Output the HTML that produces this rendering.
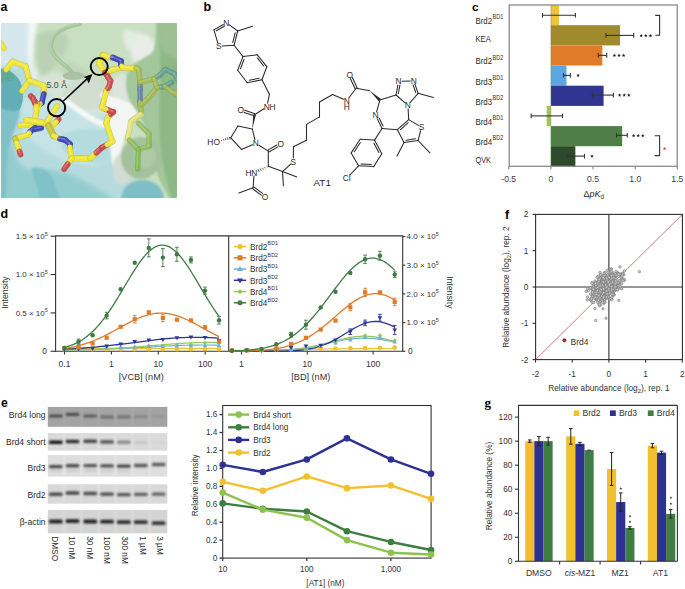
<!DOCTYPE html>
<html><head><meta charset="utf-8"><style>
html,body{margin:0;padding:0;background:#fff;width:685px;height:589px;overflow:hidden}
svg{display:block;font-family:"Liberation Sans", sans-serif}

</style></head><body>
<svg width="685" height="589" viewBox="0 0 685 589">
<rect width="685" height="589" fill="#fff"/>
<defs><clipPath id="clipA"><rect x="1.2" y="23" width="175.8" height="175" rx="1.5"/></clipPath><filter id="blA" x="-10%" y="-10%" width="120%" height="120%"><feGaussianBlur stdDeviation="2.0"/></filter><filter id="blB" x="-10%" y="-10%" width="120%" height="120%"><feGaussianBlur stdDeviation="0.9"/></filter><filter id="blC" x="-10%" y="-10%" width="120%" height="120%"><feGaussianBlur stdDeviation="0.45"/></filter></defs>
<g clip-path="url(#clipA)">
<rect x="0.00" y="20.00" width="180.00" height="180.00" fill="#b5dbde" />
<g filter="url(#blA)">
<path d="M22,100 C40,96 70,98 98,104 L110,160 C100,168 82,166 62,160 C46,152 32,142 22,130 Z" fill="#c6e4e6"/>
<path d="M-5,118 C6,122 10,135 14,150 C18,164 26,172 36,170 C50,168 64,172 78,178 C92,186 106,192 120,205 L-5,205 Z" fill="#94cdd0"/>
<path d="M-5,124 C2,130 5,145 7,165 L7,205 L-5,205 Z" fill="#88c7cb"/>
<path d="M-5,18 L30,18 C31,30 30,45 29,55 C27,62 22,67 16,67 L-5,67 Z" fill="#d5e6ed"/>
<path d="M28.5,18 L40,18 C38,30 35.5,45 34.5,58 C33.5,66 32.5,72 31.5,78 C28.5,72 27.5,64 28,55 C28.5,45 29,30 28.5,18 Z" fill="#f5f8f7"/>
<path d="M38,18 L185,18 L185,200 L160,200 C150,190 140,182 130,178 C124,170 121,162 120,152 C118,130 112,110 100,100 C88,94 72,96 58,94 C46,92 38,88 34,80 C32,70 33,55 35,40 C36,30 37,22 38,18 Z" fill="#c9dfc1"/>
<path d="M131,34 C140,31 151,35 155,44 C157,53 153,62 146,65 C139,67 133,62 131,54 Z" fill="#e9ede8"/>
<path d="M124,30 C128,28 134,30 136,36 C136,44 132,50 128,50 C124,46 122,38 124,30 Z" fill="#e4ece2"/>
<path d="M36,70 C55,72 72,76 86,82 C98,88 110,94 124,104 C118,112 110,116 100,116 C88,112 76,106 64,102 C52,98 42,92 36,84 Z" fill="#d7e4d7"/>
<path d="M30,66 C34,64 38,68 38,74 C37,80 34,82 31,80 Z" fill="#e6eeed"/>
</g>
<g filter="url(#blA)">
<path d="M36,36 C44,30 56,28 66,34 C72,42 66,52 60,60 C54,68 48,76 40,76 C36,64 35,48 36,36 Z" fill="#b8cfb0" opacity="0.85"/>
<path d="M58,62 C66,60 76,64 86,70 C92,76 88,82 80,82 C70,80 62,74 58,62 Z" fill="#bcd2b6" opacity="0.8"/>
</g>
<path d="M80,24 C70,26 60,29 55,35 C51,41 50,47 53,53 C56,59 62,63 67,67 C70,70 72,72 73,74" stroke="#a6c69d" stroke-width="4.0" fill="none" stroke-linecap="round"/>
<path d="M79,23.2 C69,25.2 59.2,28.2 54.2,34.2 C50.2,40.2 49.2,46.2 52.2,52.2 C55.2,58.2 61,62 66,66" stroke="#bcd7b4" stroke-width="1.2" fill="none" opacity="0.8"/>
<ellipse cx="73.5" cy="75.8" rx="11" ry="4.0" fill="#abc0a7" filter="url(#blC)"/>
<ellipse cx="88" cy="94" rx="25" ry="15" fill="#d0ddcf" filter="url(#blB)"/>
<ellipse cx="122" cy="88" rx="10" ry="14" fill="#dde4dc" filter="url(#blB)"/>
<path d="M64,100 C72,105 82,113 94,120 C100,123 106,126 112,127" stroke="#f5f8f7" stroke-width="5.5" fill="none" stroke-linecap="round" filter="url(#blB)"/>
<path d="M62,134 C75,129 90,128 110,131 L112,160 C100,166 80,162 62,150 Z" fill="#b4dcdf" filter="url(#blB)"/>
<g filter="url(#blB)">
<path d="M100,92 C110,96 124,100 138,106 L139,112 C134,120 128,128 125,136 C122,146 120,155 118,163 C116,167 113,167 112,163 C110,152 110,140 110,128 C109,116 106,104 100,96 Z" fill="#f4f6f4"/>
</g>
<g filter="url(#blB)">
<path d="M156,18 L185,18 L185,200 L170,200 C165,190 160,182 158,176 L152,150 C149,140 146,130 144,124 C141,118 138,113 136,110 C131,104 127,96 126,86 C126,76 128,70 134,64 C142,58 150,56 154,50 C156,40 156,30 156,18 Z" fill="#a3c69b"/>
<ellipse cx="122.5" cy="169" rx="10" ry="16" fill="#d3dcd3"/>
<ellipse cx="141" cy="158" rx="20" ry="21" fill="#a3c19c"/>
<ellipse cx="145" cy="156" rx="11" ry="12" fill="#b2cdaa" opacity="0.7"/>
<path d="M160,24 C170,32 178,40 185,48 L185,200 L172,200 C168,185 163,170 161,150 C159,130 159,110 160,90 C161,70 159,50 160,24 Z" fill="#8db885"/>
</g>
<path d="M159,18 L185,18 L185,62 C176,60 168,56 162,50 C159,42 159,30 159,18 Z" fill="#9cc093" filter="url(#blB)"/>
<path d="M121,200 C121,189 130,180 143,180 C156,180 164,189 164,200 Z" fill="#80bec7" filter="url(#blB)"/>
<path d="M-5,69 C4,66 14,71 20,81 C24,91 24,101 20,109 C15,116 8,118 -5,118 Z" fill="#62aeb6" filter="url(#blC)"/>
<path d="M-3,71 C5,68 11,71 15,78 C11,83 6,80 0,83 Z" fill="#5ca88f" opacity="0.75" filter="url(#blC)"/>
<path d="M-5,106 C5,110 14,112 20,110 C18,124 12,134 8,150 C6,165 6,185 4,205 L-5,205 Z" fill="#7fc1c7" filter="url(#blB)"/>
<path d="M31,168 C40,166 48,170 52,176 C55,183 58,192 60,200 L40,200 C38,190 34,178 31,168 Z" fill="#80c2c8" filter="url(#blB)"/>
<g opacity="1.0" stroke-linecap="round" stroke-linejoin="round" fill="none">
<line x1="0.00" y1="42.50" x2="3.80" y2="48.30" stroke="#aba424" stroke-opacity="0.55" stroke-width="5.80"/>
<line x1="0.00" y1="42.50" x2="3.80" y2="48.30" stroke="#eee532" stroke-width="5.0"/>
<line x1="-0.60" y1="41.90" x2="3.20" y2="47.70" stroke="#ffffff" stroke-opacity="0.2" stroke-width="1.75"/>
</g>
<g opacity="1.0" stroke-linecap="round" stroke-linejoin="round" fill="none">
<line x1="22.00" y1="91.00" x2="29.50" y2="80.50" stroke="#aba424" stroke-opacity="0.55" stroke-width="5.80"/>
<line x1="29.50" y1="80.50" x2="25.50" y2="66.20" stroke="#aba424" stroke-opacity="0.55" stroke-width="5.80"/>
<line x1="25.50" y1="66.20" x2="12.70" y2="61.60" stroke="#aba424" stroke-opacity="0.55" stroke-width="5.80"/>
<line x1="12.70" y1="61.60" x2="6.10" y2="69.80" stroke="#aba424" stroke-opacity="0.55" stroke-width="5.80"/>
<line x1="22.00" y1="91.00" x2="29.50" y2="80.50" stroke="#eee532" stroke-width="5.0"/>
<line x1="29.50" y1="80.50" x2="25.50" y2="66.20" stroke="#eee532" stroke-width="5.0"/>
<line x1="25.50" y1="66.20" x2="12.70" y2="61.60" stroke="#eee532" stroke-width="5.0"/>
<line x1="12.70" y1="61.60" x2="6.10" y2="69.80" stroke="#eee532" stroke-width="5.0"/>
<line x1="21.40" y1="90.40" x2="28.90" y2="79.90" stroke="#ffffff" stroke-opacity="0.2" stroke-width="1.75"/>
<line x1="28.90" y1="79.90" x2="24.90" y2="65.60" stroke="#ffffff" stroke-opacity="0.2" stroke-width="1.75"/>
<line x1="24.90" y1="65.60" x2="12.10" y2="61.00" stroke="#ffffff" stroke-opacity="0.2" stroke-width="1.75"/>
<line x1="12.10" y1="61.00" x2="5.50" y2="69.20" stroke="#ffffff" stroke-opacity="0.2" stroke-width="1.75"/>
</g>
<g opacity="1.0" stroke-linecap="round" stroke-linejoin="round" fill="none">
<line x1="29.50" y1="80.50" x2="43.80" y2="85.60" stroke="#aba424" stroke-opacity="0.55" stroke-width="5.80"/>
<line x1="43.80" y1="85.60" x2="43.80" y2="94.00" stroke="#aba424" stroke-opacity="0.55" stroke-width="5.80"/>
<line x1="29.50" y1="80.50" x2="43.80" y2="85.60" stroke="#eee532" stroke-width="5.0"/>
<line x1="43.80" y1="85.60" x2="43.80" y2="94.00" stroke="#eee532" stroke-width="5.0"/>
<line x1="28.90" y1="79.90" x2="43.20" y2="85.00" stroke="#ffffff" stroke-opacity="0.2" stroke-width="1.75"/>
<line x1="43.20" y1="85.00" x2="43.20" y2="93.40" stroke="#ffffff" stroke-opacity="0.2" stroke-width="1.75"/>
</g>
<g opacity="1.0" stroke-linecap="round" stroke-linejoin="round" fill="none">
<line x1="43.80" y1="94.00" x2="41.80" y2="102.90" stroke="#2e3184" stroke-opacity="0.55" stroke-width="5.80"/>
<line x1="41.80" y1="102.90" x2="40.25" y2="103.95" stroke="#2e3184" stroke-opacity="0.55" stroke-width="5.80"/>
<line x1="40.25" y1="103.95" x2="38.70" y2="105.00" stroke="#908d26" stroke-opacity="0.55" stroke-width="5.80"/>
<line x1="38.70" y1="105.00" x2="35.70" y2="115.00" stroke="#aba424" stroke-opacity="0.55" stroke-width="5.80"/>
<line x1="43.80" y1="94.00" x2="41.80" y2="102.90" stroke="#4045b8" stroke-width="5.0"/>
<line x1="41.80" y1="102.90" x2="40.25" y2="103.95" stroke="#4045b8" stroke-width="5.0"/>
<line x1="40.25" y1="103.95" x2="38.70" y2="105.00" stroke="#c8c436" stroke-width="5.0"/>
<line x1="38.70" y1="105.00" x2="35.70" y2="115.00" stroke="#eee532" stroke-width="5.0"/>
<line x1="43.20" y1="93.40" x2="41.20" y2="102.30" stroke="#ffffff" stroke-opacity="0.2" stroke-width="1.75"/>
<line x1="41.20" y1="102.30" x2="39.65" y2="103.35" stroke="#ffffff" stroke-opacity="0.2" stroke-width="1.75"/>
<line x1="39.65" y1="103.35" x2="38.10" y2="104.40" stroke="#ffffff" stroke-opacity="0.2" stroke-width="1.75"/>
<line x1="38.10" y1="104.40" x2="35.10" y2="114.40" stroke="#ffffff" stroke-opacity="0.2" stroke-width="1.75"/>
</g>
<g opacity="1.0" stroke-linecap="round" stroke-linejoin="round" fill="none">
<line x1="30.80" y1="96.00" x2="35.10" y2="101.90" stroke="#923636" stroke-opacity="0.55" stroke-width="5.80"/>
<line x1="35.10" y1="101.90" x2="36.30" y2="103.20" stroke="#923636" stroke-opacity="0.55" stroke-width="5.80"/>
<line x1="36.30" y1="103.20" x2="37.50" y2="104.50" stroke="#908d26" stroke-opacity="0.55" stroke-width="5.80"/>
<line x1="30.80" y1="96.00" x2="35.10" y2="101.90" stroke="#cc4c4c" stroke-width="5.0"/>
<line x1="35.10" y1="101.90" x2="36.30" y2="103.20" stroke="#cc4c4c" stroke-width="5.0"/>
<line x1="36.30" y1="103.20" x2="37.50" y2="104.50" stroke="#c8c436" stroke-width="5.0"/>
<line x1="30.20" y1="95.40" x2="34.50" y2="101.30" stroke="#ffffff" stroke-opacity="0.2" stroke-width="1.75"/>
<line x1="34.50" y1="101.30" x2="35.70" y2="102.60" stroke="#ffffff" stroke-opacity="0.2" stroke-width="1.75"/>
<line x1="35.70" y1="102.60" x2="36.90" y2="103.90" stroke="#ffffff" stroke-opacity="0.2" stroke-width="1.75"/>
</g>
<g opacity="1.0" stroke-linecap="round" stroke-linejoin="round" fill="none">
<line x1="33.20" y1="98.10" x2="35.30" y2="104.20" stroke="#923636" stroke-opacity="0.55" stroke-width="5.80"/>
<line x1="33.20" y1="98.10" x2="35.30" y2="104.20" stroke="#cc4c4c" stroke-width="5.0"/>
<line x1="32.60" y1="97.50" x2="34.70" y2="103.60" stroke="#ffffff" stroke-opacity="0.2" stroke-width="1.75"/>
</g>
<g opacity="1.0" stroke-linecap="round" stroke-linejoin="round" fill="none">
<line x1="36.30" y1="106.20" x2="35.30" y2="119.40" stroke="#aba424" stroke-opacity="0.55" stroke-width="5.80"/>
<line x1="36.30" y1="106.20" x2="35.30" y2="119.40" stroke="#eee532" stroke-width="5.0"/>
<line x1="35.70" y1="105.60" x2="34.70" y2="118.80" stroke="#ffffff" stroke-opacity="0.2" stroke-width="1.75"/>
</g>
<g opacity="1.0" stroke-linecap="round" stroke-linejoin="round" fill="none">
<line x1="20.00" y1="125.60" x2="31.20" y2="124.50" stroke="#aba424" stroke-opacity="0.55" stroke-width="5.80"/>
<line x1="20.00" y1="125.60" x2="31.20" y2="124.50" stroke="#eee532" stroke-width="5.0"/>
<line x1="19.40" y1="125.00" x2="30.60" y2="123.90" stroke="#ffffff" stroke-opacity="0.2" stroke-width="1.75"/>
</g>
<g opacity="1.0" stroke-linecap="round" stroke-linejoin="round" fill="none">
<line x1="35.30" y1="127.60" x2="30.20" y2="131.70" stroke="#2e3184" stroke-opacity="0.55" stroke-width="5.80"/>
<line x1="30.20" y1="131.70" x2="29.15" y2="133.20" stroke="#2e3184" stroke-opacity="0.55" stroke-width="5.80"/>
<line x1="29.15" y1="133.20" x2="28.10" y2="134.70" stroke="#aba424" stroke-opacity="0.55" stroke-width="5.80"/>
<line x1="28.10" y1="134.70" x2="15.30" y2="138.60" stroke="#aba424" stroke-opacity="0.55" stroke-width="5.80"/>
<line x1="35.30" y1="127.60" x2="30.20" y2="131.70" stroke="#4045b8" stroke-width="5.0"/>
<line x1="30.20" y1="131.70" x2="29.15" y2="133.20" stroke="#4045b8" stroke-width="5.0"/>
<line x1="29.15" y1="133.20" x2="28.10" y2="134.70" stroke="#eee532" stroke-width="5.0"/>
<line x1="28.10" y1="134.70" x2="15.30" y2="138.60" stroke="#eee532" stroke-width="5.0"/>
<line x1="34.70" y1="127.00" x2="29.60" y2="131.10" stroke="#ffffff" stroke-opacity="0.2" stroke-width="1.75"/>
<line x1="29.60" y1="131.10" x2="28.55" y2="132.60" stroke="#ffffff" stroke-opacity="0.2" stroke-width="1.75"/>
<line x1="28.55" y1="132.60" x2="27.50" y2="134.10" stroke="#ffffff" stroke-opacity="0.2" stroke-width="1.75"/>
<line x1="27.50" y1="134.10" x2="14.70" y2="138.00" stroke="#ffffff" stroke-opacity="0.2" stroke-width="1.75"/>
</g>
<g opacity="1.0" stroke-linecap="round" stroke-linejoin="round" fill="none">
<line x1="15.30" y1="138.60" x2="16.80" y2="143.15" stroke="#908d26" stroke-opacity="0.55" stroke-width="5.80"/>
<line x1="16.80" y1="143.15" x2="18.30" y2="147.70" stroke="#aba424" stroke-opacity="0.55" stroke-width="5.80"/>
<line x1="18.30" y1="147.70" x2="19.45" y2="151.15" stroke="#aba424" stroke-opacity="0.55" stroke-width="5.80"/>
<line x1="19.45" y1="151.15" x2="20.60" y2="154.60" stroke="#923636" stroke-opacity="0.55" stroke-width="5.80"/>
<line x1="15.30" y1="138.60" x2="16.80" y2="143.15" stroke="#c8c436" stroke-width="5.0"/>
<line x1="16.80" y1="143.15" x2="18.30" y2="147.70" stroke="#eee532" stroke-width="5.0"/>
<line x1="18.30" y1="147.70" x2="19.45" y2="151.15" stroke="#eee532" stroke-width="5.0"/>
<line x1="19.45" y1="151.15" x2="20.60" y2="154.60" stroke="#cc4c4c" stroke-width="5.0"/>
<line x1="14.70" y1="138.00" x2="16.20" y2="142.55" stroke="#ffffff" stroke-opacity="0.2" stroke-width="1.75"/>
<line x1="16.20" y1="142.55" x2="17.70" y2="147.10" stroke="#ffffff" stroke-opacity="0.2" stroke-width="1.75"/>
<line x1="17.70" y1="147.10" x2="18.85" y2="150.55" stroke="#ffffff" stroke-opacity="0.2" stroke-width="1.75"/>
<line x1="18.85" y1="150.55" x2="20.00" y2="154.00" stroke="#ffffff" stroke-opacity="0.2" stroke-width="1.75"/>
</g>
<g opacity="1.0" stroke-linecap="round" stroke-linejoin="round" fill="none">
<line x1="35.10" y1="129.40" x2="41.30" y2="127.90" stroke="#2e3184" stroke-opacity="0.55" stroke-width="5.80"/>
<line x1="35.10" y1="129.40" x2="41.30" y2="127.90" stroke="#4045b8" stroke-width="5.0"/>
<line x1="34.50" y1="128.80" x2="40.70" y2="127.30" stroke="#ffffff" stroke-opacity="0.2" stroke-width="1.75"/>
</g>
<g opacity="1.0" stroke-linecap="round" stroke-linejoin="round" fill="none">
<line x1="26.60" y1="120.00" x2="46.50" y2="123.50" stroke="#aba424" stroke-opacity="0.55" stroke-width="6.60"/>
<line x1="26.60" y1="120.00" x2="46.50" y2="123.50" stroke="#eee532" stroke-width="5.8"/>
<line x1="26.00" y1="119.40" x2="45.90" y2="122.90" stroke="#ffffff" stroke-opacity="0.2" stroke-width="2.03"/>
</g>
<g opacity="1.0" stroke-linecap="round" stroke-linejoin="round" fill="none">
<line x1="57.20" y1="106.20" x2="48.50" y2="119.40" stroke="#aba424" stroke-opacity="0.55" stroke-width="5.80"/>
<line x1="48.50" y1="119.40" x2="46.50" y2="123.50" stroke="#aba424" stroke-opacity="0.55" stroke-width="5.80"/>
<line x1="57.20" y1="106.20" x2="48.50" y2="119.40" stroke="#eee532" stroke-width="5.0"/>
<line x1="48.50" y1="119.40" x2="46.50" y2="123.50" stroke="#eee532" stroke-width="5.0"/>
<line x1="56.60" y1="105.60" x2="47.90" y2="118.80" stroke="#ffffff" stroke-opacity="0.2" stroke-width="1.75"/>
<line x1="47.90" y1="118.80" x2="45.90" y2="122.90" stroke="#ffffff" stroke-opacity="0.2" stroke-width="1.75"/>
</g>
<g opacity="1.0" stroke-linecap="round" stroke-linejoin="round" fill="none">
<line x1="58.70" y1="119.40" x2="56.15" y2="121.95" stroke="#923636" stroke-opacity="0.55" stroke-width="5.80"/>
<line x1="56.15" y1="121.95" x2="53.60" y2="124.50" stroke="#aba424" stroke-opacity="0.55" stroke-width="5.80"/>
<line x1="58.70" y1="119.40" x2="56.15" y2="121.95" stroke="#cc4c4c" stroke-width="5.0"/>
<line x1="56.15" y1="121.95" x2="53.60" y2="124.50" stroke="#eee532" stroke-width="5.0"/>
<line x1="58.10" y1="118.80" x2="55.55" y2="121.35" stroke="#ffffff" stroke-opacity="0.2" stroke-width="1.75"/>
<line x1="55.55" y1="121.35" x2="53.00" y2="123.90" stroke="#ffffff" stroke-opacity="0.2" stroke-width="1.75"/>
</g>
<g opacity="1.0" stroke-linecap="round" stroke-linejoin="round" fill="none">
<line x1="48.50" y1="125.60" x2="53.60" y2="135.70" stroke="#8e8b21" stroke-opacity="0.55" stroke-width="6.80"/>
<line x1="48.50" y1="125.60" x2="53.60" y2="135.70" stroke="#c6c22e" stroke-width="6.0"/>
<line x1="47.90" y1="125.00" x2="53.00" y2="135.10" stroke="#ffffff" stroke-opacity="0.2" stroke-width="2.10"/>
</g>
<g opacity="1.0" stroke-linecap="round" stroke-linejoin="round" fill="none">
<line x1="53.60" y1="135.70" x2="59.70" y2="138.80" stroke="#aba424" stroke-opacity="0.55" stroke-width="5.80"/>
<line x1="59.70" y1="138.80" x2="62.25" y2="139.30" stroke="#2e3184" stroke-opacity="0.55" stroke-width="5.80"/>
<line x1="62.25" y1="139.30" x2="64.80" y2="139.80" stroke="#2e3184" stroke-opacity="0.55" stroke-width="5.80"/>
<line x1="64.80" y1="139.80" x2="69.90" y2="143.90" stroke="#2e3184" stroke-opacity="0.55" stroke-width="5.80"/>
<line x1="69.90" y1="143.90" x2="69.90" y2="146.95" stroke="#2e3184" stroke-opacity="0.55" stroke-width="5.80"/>
<line x1="69.90" y1="146.95" x2="69.90" y2="150.00" stroke="#aba424" stroke-opacity="0.55" stroke-width="5.80"/>
<line x1="69.90" y1="150.00" x2="71.80" y2="158.40" stroke="#aba424" stroke-opacity="0.55" stroke-width="5.80"/>
<line x1="71.80" y1="158.40" x2="90.20" y2="158.40" stroke="#aba424" stroke-opacity="0.55" stroke-width="5.80"/>
<line x1="53.60" y1="135.70" x2="59.70" y2="138.80" stroke="#eee532" stroke-width="5.0"/>
<line x1="59.70" y1="138.80" x2="62.25" y2="139.30" stroke="#4045b8" stroke-width="5.0"/>
<line x1="62.25" y1="139.30" x2="64.80" y2="139.80" stroke="#4045b8" stroke-width="5.0"/>
<line x1="64.80" y1="139.80" x2="69.90" y2="143.90" stroke="#4045b8" stroke-width="5.0"/>
<line x1="69.90" y1="143.90" x2="69.90" y2="146.95" stroke="#4045b8" stroke-width="5.0"/>
<line x1="69.90" y1="146.95" x2="69.90" y2="150.00" stroke="#eee532" stroke-width="5.0"/>
<line x1="69.90" y1="150.00" x2="71.80" y2="158.40" stroke="#eee532" stroke-width="5.0"/>
<line x1="71.80" y1="158.40" x2="90.20" y2="158.40" stroke="#eee532" stroke-width="5.0"/>
<line x1="53.00" y1="135.10" x2="59.10" y2="138.20" stroke="#ffffff" stroke-opacity="0.2" stroke-width="1.75"/>
<line x1="59.10" y1="138.20" x2="61.65" y2="138.70" stroke="#ffffff" stroke-opacity="0.2" stroke-width="1.75"/>
<line x1="61.65" y1="138.70" x2="64.20" y2="139.20" stroke="#ffffff" stroke-opacity="0.2" stroke-width="1.75"/>
<line x1="64.20" y1="139.20" x2="69.30" y2="143.30" stroke="#ffffff" stroke-opacity="0.2" stroke-width="1.75"/>
<line x1="69.30" y1="143.30" x2="69.30" y2="146.35" stroke="#ffffff" stroke-opacity="0.2" stroke-width="1.75"/>
<line x1="69.30" y1="146.35" x2="69.30" y2="149.40" stroke="#ffffff" stroke-opacity="0.2" stroke-width="1.75"/>
<line x1="69.30" y1="149.40" x2="71.20" y2="157.80" stroke="#ffffff" stroke-opacity="0.2" stroke-width="1.75"/>
<line x1="71.20" y1="157.80" x2="89.60" y2="157.80" stroke="#ffffff" stroke-opacity="0.2" stroke-width="1.75"/>
</g>
<g opacity="1.0" stroke-linecap="round" stroke-linejoin="round" fill="none">
<line x1="71.80" y1="158.40" x2="68.00" y2="163.75" stroke="#aba424" stroke-opacity="0.55" stroke-width="5.80"/>
<line x1="68.00" y1="163.75" x2="64.20" y2="169.10" stroke="#923636" stroke-opacity="0.55" stroke-width="5.80"/>
<line x1="71.80" y1="158.40" x2="68.00" y2="163.75" stroke="#eee532" stroke-width="5.0"/>
<line x1="68.00" y1="163.75" x2="64.20" y2="169.10" stroke="#cc4c4c" stroke-width="5.0"/>
<line x1="71.20" y1="157.80" x2="67.40" y2="163.15" stroke="#ffffff" stroke-opacity="0.2" stroke-width="1.75"/>
<line x1="67.40" y1="163.15" x2="63.60" y2="168.50" stroke="#ffffff" stroke-opacity="0.2" stroke-width="1.75"/>
</g>
<g opacity="1.0" stroke-linecap="round" stroke-linejoin="round" fill="none">
<line x1="90.20" y1="158.40" x2="96.00" y2="153.05" stroke="#aba424" stroke-opacity="0.55" stroke-width="5.80"/>
<line x1="96.00" y1="153.05" x2="101.80" y2="147.70" stroke="#923636" stroke-opacity="0.55" stroke-width="5.80"/>
<line x1="90.20" y1="158.40" x2="96.00" y2="153.05" stroke="#eee532" stroke-width="5.0"/>
<line x1="96.00" y1="153.05" x2="101.80" y2="147.70" stroke="#cc4c4c" stroke-width="5.0"/>
<line x1="89.60" y1="157.80" x2="95.40" y2="152.45" stroke="#ffffff" stroke-opacity="0.2" stroke-width="1.75"/>
<line x1="95.40" y1="152.45" x2="101.20" y2="147.10" stroke="#ffffff" stroke-opacity="0.2" stroke-width="1.75"/>
</g>
<g opacity="1.0" stroke-linecap="round" stroke-linejoin="round" fill="none">
<line x1="101.80" y1="147.70" x2="107.10" y2="144.65" stroke="#923636" stroke-opacity="0.55" stroke-width="5.80"/>
<line x1="107.10" y1="144.65" x2="112.40" y2="141.60" stroke="#aba424" stroke-opacity="0.55" stroke-width="5.80"/>
<line x1="112.40" y1="141.60" x2="106.30" y2="123.30" stroke="#aba424" stroke-opacity="0.55" stroke-width="5.80"/>
<line x1="106.30" y1="123.30" x2="107.90" y2="117.20" stroke="#aba424" stroke-opacity="0.55" stroke-width="5.80"/>
<line x1="107.90" y1="117.20" x2="110.60" y2="114.55" stroke="#aba424" stroke-opacity="0.55" stroke-width="5.80"/>
<line x1="110.60" y1="114.55" x2="113.30" y2="111.90" stroke="#923636" stroke-opacity="0.55" stroke-width="5.80"/>
<line x1="101.80" y1="147.70" x2="107.10" y2="144.65" stroke="#cc4c4c" stroke-width="5.0"/>
<line x1="107.10" y1="144.65" x2="112.40" y2="141.60" stroke="#eee532" stroke-width="5.0"/>
<line x1="112.40" y1="141.60" x2="106.30" y2="123.30" stroke="#eee532" stroke-width="5.0"/>
<line x1="106.30" y1="123.30" x2="107.90" y2="117.20" stroke="#eee532" stroke-width="5.0"/>
<line x1="107.90" y1="117.20" x2="110.60" y2="114.55" stroke="#eee532" stroke-width="5.0"/>
<line x1="110.60" y1="114.55" x2="113.30" y2="111.90" stroke="#cc4c4c" stroke-width="5.0"/>
<line x1="101.20" y1="147.10" x2="106.50" y2="144.05" stroke="#ffffff" stroke-opacity="0.2" stroke-width="1.75"/>
<line x1="106.50" y1="144.05" x2="111.80" y2="141.00" stroke="#ffffff" stroke-opacity="0.2" stroke-width="1.75"/>
<line x1="111.80" y1="141.00" x2="105.70" y2="122.70" stroke="#ffffff" stroke-opacity="0.2" stroke-width="1.75"/>
<line x1="105.70" y1="122.70" x2="107.30" y2="116.60" stroke="#ffffff" stroke-opacity="0.2" stroke-width="1.75"/>
<line x1="107.30" y1="116.60" x2="110.00" y2="113.95" stroke="#ffffff" stroke-opacity="0.2" stroke-width="1.75"/>
<line x1="110.00" y1="113.95" x2="112.70" y2="111.30" stroke="#ffffff" stroke-opacity="0.2" stroke-width="1.75"/>
</g>
<g opacity="1.0" stroke-linecap="round" stroke-linejoin="round" fill="none">
<line x1="113.30" y1="111.90" x2="109.10" y2="110.50" stroke="#923636" stroke-opacity="0.55" stroke-width="5.80"/>
<line x1="109.10" y1="110.50" x2="105.55" y2="109.05" stroke="#923636" stroke-opacity="0.55" stroke-width="5.80"/>
<line x1="105.55" y1="109.05" x2="102.00" y2="107.60" stroke="#aba424" stroke-opacity="0.55" stroke-width="5.80"/>
<line x1="102.00" y1="107.60" x2="103.50" y2="102.00" stroke="#aba424" stroke-opacity="0.55" stroke-width="5.80"/>
<line x1="103.50" y1="102.00" x2="106.30" y2="90.70" stroke="#aba424" stroke-opacity="0.55" stroke-width="5.80"/>
<line x1="106.30" y1="90.70" x2="107.70" y2="88.60" stroke="#aba424" stroke-opacity="0.55" stroke-width="5.80"/>
<line x1="107.70" y1="88.60" x2="109.10" y2="86.50" stroke="#923636" stroke-opacity="0.55" stroke-width="5.80"/>
<line x1="109.10" y1="86.50" x2="110.50" y2="80.90" stroke="#923636" stroke-opacity="0.55" stroke-width="5.80"/>
<line x1="110.50" y1="80.90" x2="107.70" y2="76.60" stroke="#923636" stroke-opacity="0.55" stroke-width="5.80"/>
<line x1="107.70" y1="76.60" x2="104.90" y2="72.40" stroke="#923636" stroke-opacity="0.55" stroke-width="5.80"/>
<line x1="113.30" y1="111.90" x2="109.10" y2="110.50" stroke="#cc4c4c" stroke-width="5.0"/>
<line x1="109.10" y1="110.50" x2="105.55" y2="109.05" stroke="#cc4c4c" stroke-width="5.0"/>
<line x1="105.55" y1="109.05" x2="102.00" y2="107.60" stroke="#eee532" stroke-width="5.0"/>
<line x1="102.00" y1="107.60" x2="103.50" y2="102.00" stroke="#eee532" stroke-width="5.0"/>
<line x1="103.50" y1="102.00" x2="106.30" y2="90.70" stroke="#eee532" stroke-width="5.0"/>
<line x1="106.30" y1="90.70" x2="107.70" y2="88.60" stroke="#eee532" stroke-width="5.0"/>
<line x1="107.70" y1="88.60" x2="109.10" y2="86.50" stroke="#cc4c4c" stroke-width="5.0"/>
<line x1="109.10" y1="86.50" x2="110.50" y2="80.90" stroke="#cc4c4c" stroke-width="5.0"/>
<line x1="110.50" y1="80.90" x2="107.70" y2="76.60" stroke="#cc4c4c" stroke-width="5.0"/>
<line x1="107.70" y1="76.60" x2="104.90" y2="72.40" stroke="#cc4c4c" stroke-width="5.0"/>
<line x1="112.70" y1="111.30" x2="108.50" y2="109.90" stroke="#ffffff" stroke-opacity="0.2" stroke-width="1.75"/>
<line x1="108.50" y1="109.90" x2="104.95" y2="108.45" stroke="#ffffff" stroke-opacity="0.2" stroke-width="1.75"/>
<line x1="104.95" y1="108.45" x2="101.40" y2="107.00" stroke="#ffffff" stroke-opacity="0.2" stroke-width="1.75"/>
<line x1="101.40" y1="107.00" x2="102.90" y2="101.40" stroke="#ffffff" stroke-opacity="0.2" stroke-width="1.75"/>
<line x1="102.90" y1="101.40" x2="105.70" y2="90.10" stroke="#ffffff" stroke-opacity="0.2" stroke-width="1.75"/>
<line x1="105.70" y1="90.10" x2="107.10" y2="88.00" stroke="#ffffff" stroke-opacity="0.2" stroke-width="1.75"/>
<line x1="107.10" y1="88.00" x2="108.50" y2="85.90" stroke="#ffffff" stroke-opacity="0.2" stroke-width="1.75"/>
<line x1="108.50" y1="85.90" x2="109.90" y2="80.30" stroke="#ffffff" stroke-opacity="0.2" stroke-width="1.75"/>
<line x1="109.90" y1="80.30" x2="107.10" y2="76.00" stroke="#ffffff" stroke-opacity="0.2" stroke-width="1.75"/>
<line x1="107.10" y1="76.00" x2="104.30" y2="71.80" stroke="#ffffff" stroke-opacity="0.2" stroke-width="1.75"/>
</g>
<g opacity="1.0" stroke-linecap="round" stroke-linejoin="round" fill="none">
<line x1="102.80" y1="54.80" x2="99.00" y2="63.30" stroke="#aba424" stroke-opacity="0.55" stroke-width="5.80"/>
<line x1="99.00" y1="63.30" x2="104.20" y2="71.00" stroke="#aba424" stroke-opacity="0.55" stroke-width="5.80"/>
<line x1="102.80" y1="54.80" x2="99.00" y2="63.30" stroke="#eee532" stroke-width="5.0"/>
<line x1="99.00" y1="63.30" x2="104.20" y2="71.00" stroke="#eee532" stroke-width="5.0"/>
<line x1="102.20" y1="54.20" x2="98.40" y2="62.70" stroke="#ffffff" stroke-opacity="0.2" stroke-width="1.75"/>
<line x1="98.40" y1="62.70" x2="103.60" y2="70.40" stroke="#ffffff" stroke-opacity="0.2" stroke-width="1.75"/>
</g>
<g opacity="1.0" stroke-linecap="round" stroke-linejoin="round" fill="none">
<line x1="104.90" y1="72.40" x2="109.10" y2="71.00" stroke="#923636" stroke-opacity="0.55" stroke-width="5.80"/>
<line x1="109.10" y1="71.00" x2="113.30" y2="69.60" stroke="#aba424" stroke-opacity="0.55" stroke-width="5.80"/>
<line x1="113.30" y1="69.60" x2="121.10" y2="67.50" stroke="#aba424" stroke-opacity="0.55" stroke-width="5.80"/>
<line x1="104.90" y1="72.40" x2="109.10" y2="71.00" stroke="#cc4c4c" stroke-width="5.0"/>
<line x1="109.10" y1="71.00" x2="113.30" y2="69.60" stroke="#eee532" stroke-width="5.0"/>
<line x1="113.30" y1="69.60" x2="121.10" y2="67.50" stroke="#eee532" stroke-width="5.0"/>
<line x1="104.30" y1="71.80" x2="108.50" y2="70.40" stroke="#ffffff" stroke-opacity="0.2" stroke-width="1.75"/>
<line x1="108.50" y1="70.40" x2="112.70" y2="69.00" stroke="#ffffff" stroke-opacity="0.2" stroke-width="1.75"/>
<line x1="112.70" y1="69.00" x2="120.50" y2="66.90" stroke="#ffffff" stroke-opacity="0.2" stroke-width="1.75"/>
</g>
<g opacity="1.0" stroke-linecap="round" stroke-linejoin="round" fill="none">
<line x1="102.80" y1="54.80" x2="111.20" y2="57.60" stroke="#aba424" stroke-opacity="0.55" stroke-width="5.80"/>
<line x1="111.20" y1="57.60" x2="112.25" y2="57.60" stroke="#aba424" stroke-opacity="0.55" stroke-width="5.80"/>
<line x1="112.25" y1="57.60" x2="113.30" y2="57.60" stroke="#2e3184" stroke-opacity="0.55" stroke-width="5.80"/>
<line x1="113.30" y1="57.60" x2="121.10" y2="61.10" stroke="#2e3184" stroke-opacity="0.55" stroke-width="5.80"/>
<line x1="121.10" y1="61.10" x2="121.10" y2="64.70" stroke="#2e3184" stroke-opacity="0.55" stroke-width="5.80"/>
<line x1="121.10" y1="64.70" x2="121.80" y2="66.10" stroke="#2e3184" stroke-opacity="0.55" stroke-width="5.80"/>
<line x1="121.80" y1="66.10" x2="122.50" y2="67.50" stroke="#aba424" stroke-opacity="0.55" stroke-width="5.80"/>
<line x1="122.50" y1="67.50" x2="135.90" y2="68.20" stroke="#aba424" stroke-opacity="0.55" stroke-width="5.80"/>
<line x1="102.80" y1="54.80" x2="111.20" y2="57.60" stroke="#eee532" stroke-width="5.0"/>
<line x1="111.20" y1="57.60" x2="112.25" y2="57.60" stroke="#eee532" stroke-width="5.0"/>
<line x1="112.25" y1="57.60" x2="113.30" y2="57.60" stroke="#4045b8" stroke-width="5.0"/>
<line x1="113.30" y1="57.60" x2="121.10" y2="61.10" stroke="#4045b8" stroke-width="5.0"/>
<line x1="121.10" y1="61.10" x2="121.10" y2="64.70" stroke="#4045b8" stroke-width="5.0"/>
<line x1="121.10" y1="64.70" x2="121.80" y2="66.10" stroke="#4045b8" stroke-width="5.0"/>
<line x1="121.80" y1="66.10" x2="122.50" y2="67.50" stroke="#eee532" stroke-width="5.0"/>
<line x1="122.50" y1="67.50" x2="135.90" y2="68.20" stroke="#eee532" stroke-width="5.0"/>
<line x1="102.20" y1="54.20" x2="110.60" y2="57.00" stroke="#ffffff" stroke-opacity="0.2" stroke-width="1.75"/>
<line x1="110.60" y1="57.00" x2="111.65" y2="57.00" stroke="#ffffff" stroke-opacity="0.2" stroke-width="1.75"/>
<line x1="111.65" y1="57.00" x2="112.70" y2="57.00" stroke="#ffffff" stroke-opacity="0.2" stroke-width="1.75"/>
<line x1="112.70" y1="57.00" x2="120.50" y2="60.50" stroke="#ffffff" stroke-opacity="0.2" stroke-width="1.75"/>
<line x1="120.50" y1="60.50" x2="120.50" y2="64.10" stroke="#ffffff" stroke-opacity="0.2" stroke-width="1.75"/>
<line x1="120.50" y1="64.10" x2="121.20" y2="65.50" stroke="#ffffff" stroke-opacity="0.2" stroke-width="1.75"/>
<line x1="121.20" y1="65.50" x2="121.90" y2="66.90" stroke="#ffffff" stroke-opacity="0.2" stroke-width="1.75"/>
<line x1="121.90" y1="66.90" x2="135.30" y2="67.60" stroke="#ffffff" stroke-opacity="0.2" stroke-width="1.75"/>
</g>
<g opacity="0.78" stroke-linecap="round" stroke-linejoin="round" fill="none">
<line x1="135.90" y1="68.20" x2="138.70" y2="68.90" stroke="#748533" stroke-opacity="0.55" stroke-width="5.40"/>
<line x1="138.70" y1="68.90" x2="140.10" y2="82.30" stroke="#748533" stroke-opacity="0.55" stroke-width="5.40"/>
<line x1="140.10" y1="82.30" x2="140.10" y2="85.80" stroke="#748533" stroke-opacity="0.55" stroke-width="5.40"/>
<line x1="140.10" y1="85.80" x2="140.10" y2="89.30" stroke="#3d507d" stroke-opacity="0.55" stroke-width="5.40"/>
<line x1="140.10" y1="89.30" x2="140.10" y2="100.60" stroke="#3d507d" stroke-opacity="0.55" stroke-width="5.40"/>
<line x1="140.10" y1="100.60" x2="140.10" y2="102.70" stroke="#3d507d" stroke-opacity="0.55" stroke-width="5.40"/>
<line x1="140.10" y1="102.70" x2="140.10" y2="104.80" stroke="#748533" stroke-opacity="0.55" stroke-width="5.40"/>
<line x1="140.10" y1="104.80" x2="141.50" y2="111.90" stroke="#748533" stroke-opacity="0.55" stroke-width="5.40"/>
<line x1="135.90" y1="68.20" x2="138.70" y2="68.90" stroke="#a2b947" stroke-width="4.6"/>
<line x1="138.70" y1="68.90" x2="140.10" y2="82.30" stroke="#a2b947" stroke-width="4.6"/>
<line x1="140.10" y1="82.30" x2="140.10" y2="85.80" stroke="#a2b947" stroke-width="4.6"/>
<line x1="140.10" y1="85.80" x2="140.10" y2="89.30" stroke="#5670ae" stroke-width="4.6"/>
<line x1="140.10" y1="89.30" x2="140.10" y2="100.60" stroke="#5670ae" stroke-width="4.6"/>
<line x1="140.10" y1="100.60" x2="140.10" y2="102.70" stroke="#5670ae" stroke-width="4.6"/>
<line x1="140.10" y1="102.70" x2="140.10" y2="104.80" stroke="#a2b947" stroke-width="4.6"/>
<line x1="140.10" y1="104.80" x2="141.50" y2="111.90" stroke="#a2b947" stroke-width="4.6"/>
<line x1="135.30" y1="67.60" x2="138.10" y2="68.30" stroke="#ffffff" stroke-opacity="0.2" stroke-width="1.61"/>
<line x1="138.10" y1="68.30" x2="139.50" y2="81.70" stroke="#ffffff" stroke-opacity="0.2" stroke-width="1.61"/>
<line x1="139.50" y1="81.70" x2="139.50" y2="85.20" stroke="#ffffff" stroke-opacity="0.2" stroke-width="1.61"/>
<line x1="139.50" y1="85.20" x2="139.50" y2="88.70" stroke="#ffffff" stroke-opacity="0.2" stroke-width="1.61"/>
<line x1="139.50" y1="88.70" x2="139.50" y2="100.00" stroke="#ffffff" stroke-opacity="0.2" stroke-width="1.61"/>
<line x1="139.50" y1="100.00" x2="139.50" y2="102.10" stroke="#ffffff" stroke-opacity="0.2" stroke-width="1.61"/>
<line x1="139.50" y1="102.10" x2="139.50" y2="104.20" stroke="#ffffff" stroke-opacity="0.2" stroke-width="1.61"/>
<line x1="139.50" y1="104.20" x2="140.90" y2="111.30" stroke="#ffffff" stroke-opacity="0.2" stroke-width="1.61"/>
</g>
<g opacity="0.78" stroke-linecap="round" stroke-linejoin="round" fill="none">
<line x1="140.10" y1="82.30" x2="154.20" y2="78.80" stroke="#748533" stroke-opacity="0.55" stroke-width="5.40"/>
<line x1="154.20" y1="78.80" x2="157.00" y2="77.00" stroke="#748533" stroke-opacity="0.55" stroke-width="5.40"/>
<line x1="157.00" y1="77.00" x2="159.80" y2="75.20" stroke="#416e6a" stroke-opacity="0.55" stroke-width="5.40"/>
<line x1="159.80" y1="75.20" x2="165.50" y2="69.60" stroke="#416e6a" stroke-opacity="0.55" stroke-width="5.40"/>
<line x1="165.50" y1="69.60" x2="174.60" y2="73.80" stroke="#416e6a" stroke-opacity="0.55" stroke-width="5.40"/>
<line x1="174.60" y1="73.80" x2="178.00" y2="80.00" stroke="#416e6a" stroke-opacity="0.55" stroke-width="5.40"/>
<line x1="140.10" y1="82.30" x2="154.20" y2="78.80" stroke="#a2b947" stroke-width="4.6"/>
<line x1="154.20" y1="78.80" x2="157.00" y2="77.00" stroke="#a2b947" stroke-width="4.6"/>
<line x1="157.00" y1="77.00" x2="159.80" y2="75.20" stroke="#5b9994" stroke-width="4.6"/>
<line x1="159.80" y1="75.20" x2="165.50" y2="69.60" stroke="#5b9994" stroke-width="4.6"/>
<line x1="165.50" y1="69.60" x2="174.60" y2="73.80" stroke="#5b9994" stroke-width="4.6"/>
<line x1="174.60" y1="73.80" x2="178.00" y2="80.00" stroke="#5b9994" stroke-width="4.6"/>
<line x1="139.50" y1="81.70" x2="153.60" y2="78.20" stroke="#ffffff" stroke-opacity="0.2" stroke-width="1.61"/>
<line x1="153.60" y1="78.20" x2="156.40" y2="76.40" stroke="#ffffff" stroke-opacity="0.2" stroke-width="1.61"/>
<line x1="156.40" y1="76.40" x2="159.20" y2="74.60" stroke="#ffffff" stroke-opacity="0.2" stroke-width="1.61"/>
<line x1="159.20" y1="74.60" x2="164.90" y2="69.00" stroke="#ffffff" stroke-opacity="0.2" stroke-width="1.61"/>
<line x1="164.90" y1="69.00" x2="174.00" y2="73.20" stroke="#ffffff" stroke-opacity="0.2" stroke-width="1.61"/>
<line x1="174.00" y1="73.20" x2="177.40" y2="79.40" stroke="#ffffff" stroke-opacity="0.2" stroke-width="1.61"/>
</g>
<g opacity="0.78" stroke-linecap="round" stroke-linejoin="round" fill="none">
<line x1="154.20" y1="78.80" x2="157.00" y2="87.90" stroke="#748533" stroke-opacity="0.55" stroke-width="5.40"/>
<line x1="157.00" y1="87.90" x2="148.60" y2="97.80" stroke="#748533" stroke-opacity="0.55" stroke-width="5.40"/>
<line x1="148.60" y1="97.80" x2="141.50" y2="104.80" stroke="#748533" stroke-opacity="0.55" stroke-width="5.40"/>
<line x1="154.20" y1="78.80" x2="157.00" y2="87.90" stroke="#a2b947" stroke-width="4.6"/>
<line x1="157.00" y1="87.90" x2="148.60" y2="97.80" stroke="#a2b947" stroke-width="4.6"/>
<line x1="148.60" y1="97.80" x2="141.50" y2="104.80" stroke="#a2b947" stroke-width="4.6"/>
<line x1="153.60" y1="78.20" x2="156.40" y2="87.30" stroke="#ffffff" stroke-opacity="0.2" stroke-width="1.61"/>
<line x1="156.40" y1="87.30" x2="148.00" y2="97.20" stroke="#ffffff" stroke-opacity="0.2" stroke-width="1.61"/>
<line x1="148.00" y1="97.20" x2="140.90" y2="104.20" stroke="#ffffff" stroke-opacity="0.2" stroke-width="1.61"/>
</g>
<g opacity="0.78" stroke-linecap="round" stroke-linejoin="round" fill="none">
<line x1="157.00" y1="87.90" x2="161.00" y2="87.20" stroke="#748533" stroke-opacity="0.55" stroke-width="5.40"/>
<line x1="161.00" y1="87.20" x2="165.00" y2="86.50" stroke="#416e6a" stroke-opacity="0.55" stroke-width="5.40"/>
<line x1="165.00" y1="86.50" x2="171.80" y2="82.30" stroke="#416e6a" stroke-opacity="0.55" stroke-width="5.40"/>
<line x1="157.00" y1="87.90" x2="161.00" y2="87.20" stroke="#a2b947" stroke-width="4.6"/>
<line x1="161.00" y1="87.20" x2="165.00" y2="86.50" stroke="#5b9994" stroke-width="4.6"/>
<line x1="165.00" y1="86.50" x2="171.80" y2="82.30" stroke="#5b9994" stroke-width="4.6"/>
<line x1="156.40" y1="87.30" x2="160.40" y2="86.60" stroke="#ffffff" stroke-opacity="0.2" stroke-width="1.61"/>
<line x1="160.40" y1="86.60" x2="164.40" y2="85.90" stroke="#ffffff" stroke-opacity="0.2" stroke-width="1.61"/>
<line x1="164.40" y1="85.90" x2="171.20" y2="81.70" stroke="#ffffff" stroke-opacity="0.2" stroke-width="1.61"/>
</g>
<g opacity="0.78" stroke-linecap="round" stroke-linejoin="round" fill="none">
<line x1="165.00" y1="86.50" x2="172.00" y2="92.00" stroke="#748533" stroke-opacity="0.55" stroke-width="5.40"/>
<line x1="172.00" y1="92.00" x2="178.00" y2="95.00" stroke="#748533" stroke-opacity="0.55" stroke-width="5.40"/>
<line x1="165.00" y1="86.50" x2="172.00" y2="92.00" stroke="#a2b947" stroke-width="4.6"/>
<line x1="172.00" y1="92.00" x2="178.00" y2="95.00" stroke="#a2b947" stroke-width="4.6"/>
<line x1="164.40" y1="85.90" x2="171.40" y2="91.40" stroke="#ffffff" stroke-opacity="0.2" stroke-width="1.61"/>
<line x1="171.40" y1="91.40" x2="177.40" y2="94.40" stroke="#ffffff" stroke-opacity="0.2" stroke-width="1.61"/>
</g>
<g opacity="0.9" stroke-linecap="round" stroke-linejoin="round" fill="none">
<line x1="141.50" y1="114.70" x2="131.60" y2="120.30" stroke="#a5a257" stroke-opacity="0.55" stroke-width="5.40"/>
<line x1="141.50" y1="114.70" x2="131.60" y2="120.30" stroke="#e6e27a" stroke-width="4.6"/>
<line x1="140.90" y1="114.10" x2="131.00" y2="119.70" stroke="#ffffff" stroke-opacity="0.2" stroke-width="1.61"/>
</g>
<g opacity="0.9" stroke-linecap="round" stroke-linejoin="round" fill="none">
<line x1="140.00" y1="114.10" x2="130.80" y2="121.80" stroke="#a5a257" stroke-opacity="0.55" stroke-width="5.40"/>
<line x1="130.80" y1="121.80" x2="127.70" y2="138.60" stroke="#a5a257" stroke-opacity="0.55" stroke-width="5.40"/>
<line x1="140.00" y1="114.10" x2="130.80" y2="121.80" stroke="#e6e27a" stroke-width="4.6"/>
<line x1="130.80" y1="121.80" x2="127.70" y2="138.60" stroke="#e6e27a" stroke-width="4.6"/>
<line x1="139.40" y1="113.50" x2="130.20" y2="121.20" stroke="#ffffff" stroke-opacity="0.2" stroke-width="1.61"/>
<line x1="130.20" y1="121.20" x2="127.10" y2="138.00" stroke="#ffffff" stroke-opacity="0.2" stroke-width="1.61"/>
</g>
<g opacity="0.85" stroke-linecap="round" stroke-linejoin="round" fill="none">
<line x1="138.40" y1="123.30" x2="149.10" y2="134.00" stroke="#66883b" stroke-opacity="0.55" stroke-width="5.20"/>
<line x1="149.10" y1="134.00" x2="149.10" y2="146.20" stroke="#66883b" stroke-opacity="0.55" stroke-width="5.20"/>
<line x1="149.10" y1="146.20" x2="138.40" y2="149.30" stroke="#66883b" stroke-opacity="0.55" stroke-width="5.20"/>
<line x1="138.40" y1="149.30" x2="129.30" y2="140.10" stroke="#66883b" stroke-opacity="0.55" stroke-width="5.20"/>
<line x1="138.40" y1="123.30" x2="149.10" y2="134.00" stroke="#8fbd52" stroke-width="4.4"/>
<line x1="149.10" y1="134.00" x2="149.10" y2="146.20" stroke="#8fbd52" stroke-width="4.4"/>
<line x1="149.10" y1="146.20" x2="138.40" y2="149.30" stroke="#8fbd52" stroke-width="4.4"/>
<line x1="138.40" y1="149.30" x2="129.30" y2="140.10" stroke="#8fbd52" stroke-width="4.4"/>
<line x1="137.80" y1="122.70" x2="148.50" y2="133.40" stroke="#ffffff" stroke-opacity="0.2" stroke-width="1.54"/>
<line x1="148.50" y1="133.40" x2="148.50" y2="145.60" stroke="#ffffff" stroke-opacity="0.2" stroke-width="1.54"/>
<line x1="148.50" y1="145.60" x2="137.80" y2="148.70" stroke="#ffffff" stroke-opacity="0.2" stroke-width="1.54"/>
<line x1="137.80" y1="148.70" x2="128.70" y2="139.50" stroke="#ffffff" stroke-opacity="0.2" stroke-width="1.54"/>
</g>
<g opacity="0.85" stroke-linecap="round" stroke-linejoin="round" fill="none">
<line x1="138.40" y1="149.30" x2="137.70" y2="169.10" stroke="#5b8632" stroke-opacity="0.55" stroke-width="5.20"/>
<line x1="138.40" y1="149.30" x2="137.70" y2="169.10" stroke="#7fbb46" stroke-width="4.4"/>
<line x1="137.80" y1="148.70" x2="137.10" y2="168.50" stroke="#ffffff" stroke-opacity="0.2" stroke-width="1.54"/>
</g>
<circle cx="56.6" cy="107.7" r="8.6" fill="none" stroke="#080808" stroke-width="2.0"/>
<circle cx="99.2" cy="66.6" r="8.5" fill="none" stroke="#080808" stroke-width="2.0"/>
<line x1="63.4" y1="101.0" x2="88.6" y2="77.4" stroke="#080808" stroke-width="1.6"/>
<polygon points="92.4,74.0 83.6,77.0 86.3,78.6 88.8,83.4" fill="#080808"/>
<text x="46.40" y="87.50" font-size="8.8" text-anchor="start" font-weight="normal" fill="#3c4a3c" font-family='"Liberation Sans", sans-serif' >5.0 Å</text>
</g>
<line x1="213.90" y1="29.90" x2="223.28" y2="24.50" stroke="#2a2a2a" stroke-width="1.05" stroke-linecap="round"/>
<line x1="216.40" y1="30.77" x2="224.28" y2="26.23" stroke="#2a2a2a" stroke-width="1.05" stroke-linecap="round"/>
<line x1="229.30" y1="24.83" x2="237.70" y2="31.00" stroke="#2a2a2a" stroke-width="1.05" stroke-linecap="round"/>
<line x1="237.70" y1="31.00" x2="234.10" y2="45.30" stroke="#2a2a2a" stroke-width="1.05" stroke-linecap="round"/>
<line x1="235.18" y1="32.80" x2="232.74" y2="42.52" stroke="#2a2a2a" stroke-width="1.05" stroke-linecap="round"/>
<line x1="234.10" y1="45.30" x2="222.30" y2="45.91" stroke="#2a2a2a" stroke-width="1.05" stroke-linecap="round"/>
<line x1="217.68" y1="42.65" x2="213.90" y2="29.90" stroke="#2a2a2a" stroke-width="1.05" stroke-linecap="round"/>
<line x1="237.70" y1="31.00" x2="252.50" y2="26.30" stroke="#2a2a2a" stroke-width="1.05" stroke-linecap="round"/>
<line x1="234.10" y1="45.30" x2="243.00" y2="56.60" stroke="#2a2a2a" stroke-width="1.05" stroke-linecap="round"/>
<line x1="243.00" y1="56.60" x2="257.30" y2="54.80" stroke="#2a2a2a" stroke-width="1.05" stroke-linecap="round"/>
<line x1="257.30" y1="54.80" x2="266.80" y2="66.70" stroke="#2a2a2a" stroke-width="1.05" stroke-linecap="round"/>
<line x1="257.26" y1="57.95" x2="263.72" y2="66.04" stroke="#2a2a2a" stroke-width="1.05" stroke-linecap="round"/>
<line x1="266.80" y1="66.70" x2="262.00" y2="79.80" stroke="#2a2a2a" stroke-width="1.05" stroke-linecap="round"/>
<line x1="262.00" y1="79.80" x2="247.20" y2="82.70" stroke="#2a2a2a" stroke-width="1.05" stroke-linecap="round"/>
<line x1="259.25" y1="78.30" x2="249.18" y2="80.27" stroke="#2a2a2a" stroke-width="1.05" stroke-linecap="round"/>
<line x1="247.20" y1="82.70" x2="237.70" y2="70.30" stroke="#2a2a2a" stroke-width="1.05" stroke-linecap="round"/>
<line x1="237.70" y1="70.30" x2="243.00" y2="56.60" stroke="#2a2a2a" stroke-width="1.05" stroke-linecap="round"/>
<line x1="240.41" y1="68.83" x2="244.02" y2="59.51" stroke="#2a2a2a" stroke-width="1.05" stroke-linecap="round"/>
<line x1="262.00" y1="79.80" x2="269.40" y2="94.30" stroke="#2a2a2a" stroke-width="1.05" stroke-linecap="round"/>
<line x1="269.40" y1="94.30" x2="267.61" y2="103.27" stroke="#2a2a2a" stroke-width="1.05" stroke-linecap="round"/>
<line x1="263.88" y1="108.76" x2="254.60" y2="114.80" stroke="#2a2a2a" stroke-width="1.05" stroke-linecap="round"/>
<line x1="254.25" y1="115.84" x2="244.06" y2="112.45" stroke="#2a2a2a" stroke-width="1.05" stroke-linecap="round"/>
<line x1="254.95" y1="113.76" x2="244.75" y2="110.36" stroke="#2a2a2a" stroke-width="1.05" stroke-linecap="round"/>
<polygon points="253.32,114.59 255.88,115.01 252.30,128.90" fill="#2a2a2a"/>
<line x1="252.30" y1="128.90" x2="237.90" y2="126.10" stroke="#2a2a2a" stroke-width="1.05" stroke-linecap="round"/>
<line x1="237.90" y1="126.10" x2="230.80" y2="137.80" stroke="#2a2a2a" stroke-width="1.05" stroke-linecap="round"/>
<line x1="230.80" y1="137.80" x2="241.50" y2="149.40" stroke="#2a2a2a" stroke-width="1.05" stroke-linecap="round"/>
<line x1="241.50" y1="149.40" x2="252.49" y2="144.71" stroke="#2a2a2a" stroke-width="1.05" stroke-linecap="round"/>
<line x1="254.95" y1="139.80" x2="252.30" y2="128.90" stroke="#2a2a2a" stroke-width="1.05" stroke-linecap="round"/>
<line x1="230.16" y1="139.50" x2="229.37" y2="136.67" stroke="#2a2a2a" stroke-width="0.8" />
<line x1="228.02" y1="139.83" x2="227.37" y2="137.50" stroke="#2a2a2a" stroke-width="0.8" />
<line x1="225.89" y1="140.16" x2="225.38" y2="138.32" stroke="#2a2a2a" stroke-width="0.8" />
<line x1="223.75" y1="140.48" x2="223.38" y2="139.15" stroke="#2a2a2a" stroke-width="0.8" />
<line x1="221.61" y1="140.81" x2="221.38" y2="139.98" stroke="#2a2a2a" stroke-width="0.8" />
<line x1="258.85" y1="145.21" x2="268.30" y2="151.10" stroke="#2a2a2a" stroke-width="1.05" stroke-linecap="round"/>
<line x1="267.75" y1="150.15" x2="276.86" y2="144.93" stroke="#2a2a2a" stroke-width="1.05" stroke-linecap="round"/>
<line x1="268.85" y1="152.05" x2="277.95" y2="146.84" stroke="#2a2a2a" stroke-width="1.05" stroke-linecap="round"/>
<line x1="268.30" y1="151.10" x2="268.30" y2="166.30" stroke="#2a2a2a" stroke-width="1.05" stroke-linecap="round"/>
<line x1="267.40" y1="167.18" x2="267.04" y2="166.37" stroke="#2a2a2a" stroke-width="0.8" />
<line x1="265.35" y1="168.38" x2="264.77" y2="167.07" stroke="#2a2a2a" stroke-width="0.8" />
<line x1="263.30" y1="169.59" x2="262.50" y2="167.76" stroke="#2a2a2a" stroke-width="0.8" />
<line x1="261.25" y1="170.80" x2="260.22" y2="168.45" stroke="#2a2a2a" stroke-width="0.8" />
<line x1="259.20" y1="172.00" x2="257.95" y2="169.15" stroke="#2a2a2a" stroke-width="0.8" />
<line x1="268.30" y1="166.30" x2="282.50" y2="171.60" stroke="#2a2a2a" stroke-width="1.05" stroke-linecap="round"/>
<line x1="282.50" y1="171.60" x2="290.66" y2="164.05" stroke="#2a2a2a" stroke-width="1.05" stroke-linecap="round"/>
<line x1="282.50" y1="171.60" x2="296.80" y2="177.00" stroke="#2a2a2a" stroke-width="1.05" stroke-linecap="round"/>
<line x1="282.50" y1="171.60" x2="283.40" y2="185.90" stroke="#2a2a2a" stroke-width="1.05" stroke-linecap="round"/>
<line x1="253.94" y1="176.09" x2="253.10" y2="187.70" stroke="#2a2a2a" stroke-width="1.05" stroke-linecap="round"/>
<line x1="253.10" y1="187.70" x2="238.90" y2="193.00" stroke="#2a2a2a" stroke-width="1.05" stroke-linecap="round"/>
<line x1="253.76" y1="186.82" x2="262.53" y2="193.43" stroke="#2a2a2a" stroke-width="1.05" stroke-linecap="round"/>
<line x1="252.44" y1="188.58" x2="261.20" y2="195.19" stroke="#2a2a2a" stroke-width="1.05" stroke-linecap="round"/>
<line x1="293.32" y1="158.00" x2="293.40" y2="146.80" stroke="#2a2a2a" stroke-width="1.05" stroke-linecap="round"/>
<line x1="293.40" y1="146.80" x2="306.50" y2="140.30" stroke="#2a2a2a" stroke-width="1.05" stroke-linecap="round"/>
<line x1="306.50" y1="140.30" x2="306.50" y2="124.40" stroke="#2a2a2a" stroke-width="1.05" stroke-linecap="round"/>
<line x1="306.50" y1="124.40" x2="319.50" y2="116.90" stroke="#2a2a2a" stroke-width="1.05" stroke-linecap="round"/>
<line x1="319.50" y1="116.90" x2="319.50" y2="102.00" stroke="#2a2a2a" stroke-width="1.05" stroke-linecap="round"/>
<line x1="319.50" y1="102.00" x2="332.60" y2="94.50" stroke="#2a2a2a" stroke-width="1.05" stroke-linecap="round"/>
<line x1="332.60" y1="94.50" x2="343.49" y2="99.18" stroke="#2a2a2a" stroke-width="1.05" stroke-linecap="round"/>
<line x1="348.96" y1="97.72" x2="356.10" y2="88.20" stroke="#2a2a2a" stroke-width="1.05" stroke-linecap="round"/>
<line x1="355.10" y1="88.67" x2="350.32" y2="78.51" stroke="#2a2a2a" stroke-width="1.05" stroke-linecap="round"/>
<line x1="357.10" y1="87.73" x2="352.31" y2="77.57" stroke="#2a2a2a" stroke-width="1.05" stroke-linecap="round"/>
<line x1="356.10" y1="88.20" x2="369.70" y2="90.70" stroke="#2a2a2a" stroke-width="1.05" stroke-linecap="round"/>
<polygon points="369.70,90.70 378.78,101.31 381.02,98.89" fill="#2a2a2a"/>
<line x1="379.90" y1="100.10" x2="376.57" y2="111.93" stroke="#2a2a2a" stroke-width="1.05" stroke-linecap="round"/>
<line x1="379.90" y1="100.10" x2="396.00" y2="95.00" stroke="#2a2a2a" stroke-width="1.05" stroke-linecap="round"/>
<line x1="396.00" y1="95.00" x2="397.92" y2="84.94" stroke="#2a2a2a" stroke-width="1.05" stroke-linecap="round"/>
<line x1="398.27" y1="93.77" x2="399.89" y2="85.31" stroke="#2a2a2a" stroke-width="1.05" stroke-linecap="round"/>
<line x1="402.20" y1="81.26" x2="410.20" y2="80.94" stroke="#2a2a2a" stroke-width="1.05" stroke-linecap="round"/>
<line x1="414.97" y1="84.20" x2="418.10" y2="93.30" stroke="#2a2a2a" stroke-width="1.05" stroke-linecap="round"/>
<line x1="413.08" y1="84.85" x2="415.71" y2="92.50" stroke="#2a2a2a" stroke-width="1.05" stroke-linecap="round"/>
<line x1="418.10" y1="93.30" x2="410.24" y2="102.47" stroke="#2a2a2a" stroke-width="1.05" stroke-linecap="round"/>
<line x1="405.17" y1="102.86" x2="396.00" y2="95.00" stroke="#2a2a2a" stroke-width="1.05" stroke-linecap="round"/>
<line x1="418.10" y1="93.30" x2="433.40" y2="97.50" stroke="#2a2a2a" stroke-width="1.05" stroke-linecap="round"/>
<line x1="408.10" y1="108.79" x2="408.70" y2="119.60" stroke="#2a2a2a" stroke-width="1.05" stroke-linecap="round"/>
<line x1="408.70" y1="119.60" x2="418.40" y2="125.36" stroke="#2a2a2a" stroke-width="1.05" stroke-linecap="round"/>
<line x1="420.61" y1="130.69" x2="418.10" y2="140.50" stroke="#2a2a2a" stroke-width="1.05" stroke-linecap="round"/>
<line x1="418.10" y1="140.50" x2="404.00" y2="142.50" stroke="#2a2a2a" stroke-width="1.05" stroke-linecap="round"/>
<line x1="415.56" y1="138.84" x2="405.98" y2="140.20" stroke="#2a2a2a" stroke-width="1.05" stroke-linecap="round"/>
<line x1="404.00" y1="142.50" x2="397.40" y2="129.70" stroke="#2a2a2a" stroke-width="1.05" stroke-linecap="round"/>
<line x1="397.40" y1="129.70" x2="408.70" y2="119.60" stroke="#2a2a2a" stroke-width="1.05" stroke-linecap="round"/>
<line x1="400.54" y1="129.58" x2="408.22" y2="122.71" stroke="#2a2a2a" stroke-width="1.05" stroke-linecap="round"/>
<line x1="404.00" y1="142.50" x2="397.00" y2="156.10" stroke="#2a2a2a" stroke-width="1.05" stroke-linecap="round"/>
<line x1="418.10" y1="140.50" x2="429.90" y2="152.90" stroke="#2a2a2a" stroke-width="1.05" stroke-linecap="round"/>
<line x1="377.18" y1="118.63" x2="382.00" y2="128.50" stroke="#2a2a2a" stroke-width="1.05" stroke-linecap="round"/>
<line x1="378.98" y1="117.76" x2="383.03" y2="126.04" stroke="#2a2a2a" stroke-width="1.05" stroke-linecap="round"/>
<line x1="382.00" y1="128.50" x2="397.40" y2="129.70" stroke="#2a2a2a" stroke-width="1.05" stroke-linecap="round"/>
<line x1="382.00" y1="128.50" x2="374.50" y2="140.10" stroke="#2a2a2a" stroke-width="1.05" stroke-linecap="round"/>
<line x1="374.50" y1="140.10" x2="360.10" y2="139.30" stroke="#2a2a2a" stroke-width="1.05" stroke-linecap="round"/>
<line x1="360.10" y1="139.30" x2="351.20" y2="152.90" stroke="#2a2a2a" stroke-width="1.05" stroke-linecap="round"/>
<line x1="360.35" y1="142.57" x2="354.30" y2="151.82" stroke="#2a2a2a" stroke-width="1.05" stroke-linecap="round"/>
<line x1="351.20" y1="152.90" x2="358.50" y2="165.80" stroke="#2a2a2a" stroke-width="1.05" stroke-linecap="round"/>
<line x1="358.50" y1="165.80" x2="373.70" y2="166.60" stroke="#2a2a2a" stroke-width="1.05" stroke-linecap="round"/>
<line x1="361.04" y1="163.93" x2="371.37" y2="164.47" stroke="#2a2a2a" stroke-width="1.05" stroke-linecap="round"/>
<line x1="373.70" y1="166.60" x2="381.80" y2="153.70" stroke="#2a2a2a" stroke-width="1.05" stroke-linecap="round"/>
<line x1="381.80" y1="153.70" x2="374.50" y2="140.10" stroke="#2a2a2a" stroke-width="1.05" stroke-linecap="round"/>
<line x1="378.87" y1="152.47" x2="373.91" y2="143.22" stroke="#2a2a2a" stroke-width="1.05" stroke-linecap="round"/>
<line x1="358.50" y1="165.80" x2="350.12" y2="174.75" stroke="#2a2a2a" stroke-width="1.05" stroke-linecap="round"/>
<text x="226.40" y="25.72" font-size="8.4" text-anchor="middle" font-weight="normal" fill="#2a2a2a" font-family='"Liberation Sans", sans-serif' >N</text>
<text x="218.70" y="49.12" font-size="8.4" text-anchor="middle" font-weight="normal" fill="#2a2a2a" font-family='"Liberation Sans", sans-serif' >S</text>
<text x="266.90" y="109.82" font-size="8.4" text-anchor="middle" font-weight="normal" fill="#2a2a2a" font-family='"Liberation Sans", sans-serif' >N</text>
<text x="240.80" y="113.22" font-size="8.4" text-anchor="middle" font-weight="normal" fill="#2a2a2a" font-family='"Liberation Sans", sans-serif' >O</text>
<text x="255.80" y="146.32" font-size="8.4" text-anchor="middle" font-weight="normal" fill="#2a2a2a" font-family='"Liberation Sans", sans-serif' >N</text>
<text x="216.80" y="144.72" font-size="8.4" text-anchor="middle" font-weight="normal" fill="#2a2a2a" font-family='"Liberation Sans", sans-serif' >O</text>
<text x="280.70" y="147.02" font-size="8.4" text-anchor="middle" font-weight="normal" fill="#2a2a2a" font-family='"Liberation Sans", sans-serif' >O</text>
<text x="254.20" y="175.52" font-size="8.4" text-anchor="middle" font-weight="normal" fill="#2a2a2a" font-family='"Liberation Sans", sans-serif' >N</text>
<text x="293.30" y="164.62" font-size="8.4" text-anchor="middle" font-weight="normal" fill="#2a2a2a" font-family='"Liberation Sans", sans-serif' >S</text>
<text x="264.90" y="199.62" font-size="8.4" text-anchor="middle" font-weight="normal" fill="#2a2a2a" font-family='"Liberation Sans", sans-serif' >O</text>
<text x="346.80" y="103.62" font-size="8.4" text-anchor="middle" font-weight="normal" fill="#2a2a2a" font-family='"Liberation Sans", sans-serif' >N</text>
<text x="349.70" y="77.62" font-size="8.4" text-anchor="middle" font-weight="normal" fill="#2a2a2a" font-family='"Liberation Sans", sans-serif' >O</text>
<text x="375.60" y="118.42" font-size="8.4" text-anchor="middle" font-weight="normal" fill="#2a2a2a" font-family='"Liberation Sans", sans-serif' >N</text>
<text x="398.60" y="84.42" font-size="8.4" text-anchor="middle" font-weight="normal" fill="#2a2a2a" font-family='"Liberation Sans", sans-serif' >N</text>
<text x="413.80" y="83.82" font-size="8.4" text-anchor="middle" font-weight="normal" fill="#2a2a2a" font-family='"Liberation Sans", sans-serif' >N</text>
<text x="407.90" y="108.22" font-size="8.4" text-anchor="middle" font-weight="normal" fill="#2a2a2a" font-family='"Liberation Sans", sans-serif' >N</text>
<text x="421.50" y="130.22" font-size="8.4" text-anchor="middle" font-weight="normal" fill="#2a2a2a" font-family='"Liberation Sans", sans-serif' >S</text>
<text x="346.70" y="181.42" font-size="8.4" text-anchor="middle" font-weight="normal" fill="#2a2a2a" font-family='"Liberation Sans", sans-serif' >Cl</text>
<text x="272.50" y="109.82" font-size="8.4" text-anchor="middle" font-weight="normal" fill="#2a2a2a" font-family='"Liberation Sans", sans-serif' >H</text>
<text x="210.20" y="144.72" font-size="8.4" text-anchor="middle" font-weight="normal" fill="#2a2a2a" font-family='"Liberation Sans", sans-serif' >H</text>
<text x="248.60" y="175.52" font-size="8.4" text-anchor="middle" font-weight="normal" fill="#2a2a2a" font-family='"Liberation Sans", sans-serif' >H</text>
<text x="346.80" y="110.42" font-size="8.4" text-anchor="middle" font-weight="normal" fill="#2a2a2a" font-family='"Liberation Sans", sans-serif' >H</text>
<text x="322.20" y="185.50" font-size="9.9" text-anchor="middle" font-weight="normal" fill="#2a2a2a" font-family='"Liberation Sans", sans-serif' >AT1</text>
<rect x="550.90" y="5.00" width="8.01" height="20.20" fill="#f1c232" />
<rect x="550.90" y="25.20" width="69.13" height="20.20" fill="#a08a2c" />
<rect x="550.90" y="45.40" width="51.42" height="20.10" fill="#e07b28" />
<rect x="550.90" y="65.50" width="15.60" height="20.20" fill="#5ea6e0" />
<rect x="550.90" y="85.70" width="52.69" height="20.20" fill="#2f3591" />
<rect x="546.68" y="105.90" width="4.22" height="20.20" fill="#a2c456" />
<rect x="550.90" y="126.10" width="71.23" height="20.10" fill="#4f7f47" />
<rect x="550.90" y="146.20" width="24.45" height="20.10" fill="#2d4a2b" />
<line x1="550.90" y1="5.00" x2="550.90" y2="166.30" stroke="#6b8f5a" stroke-width="0.8" opacity="0.5"/>
<rect x="509.2" y="5.0" width="168.00000000000006" height="161.3" fill="none" stroke="#8a8a8a" stroke-width="1.3"/>
<line x1="508.75" y1="166.30" x2="508.75" y2="169.30" stroke="#8a8a8a" stroke-width="1.2" />
<text x="508.75" y="181.60" font-size="8.6" text-anchor="middle" font-weight="normal" fill="#3a3a3a" font-family='"Liberation Sans", sans-serif' >-0.5</text>
<line x1="550.90" y1="166.30" x2="550.90" y2="169.30" stroke="#8a8a8a" stroke-width="1.2" />
<text x="550.90" y="181.60" font-size="8.6" text-anchor="middle" font-weight="normal" fill="#3a3a3a" font-family='"Liberation Sans", sans-serif' >0</text>
<line x1="593.05" y1="166.30" x2="593.05" y2="169.30" stroke="#8a8a8a" stroke-width="1.2" />
<text x="593.05" y="181.60" font-size="8.6" text-anchor="middle" font-weight="normal" fill="#3a3a3a" font-family='"Liberation Sans", sans-serif' >0.5</text>
<line x1="635.20" y1="166.30" x2="635.20" y2="169.30" stroke="#8a8a8a" stroke-width="1.2" />
<text x="635.20" y="181.60" font-size="8.6" text-anchor="middle" font-weight="normal" fill="#3a3a3a" font-family='"Liberation Sans", sans-serif' >1.0</text>
<line x1="677.35" y1="166.30" x2="677.35" y2="169.30" stroke="#8a8a8a" stroke-width="1.2" />
<text x="677.35" y="181.60" font-size="8.6" text-anchor="middle" font-weight="normal" fill="#3a3a3a" font-family='"Liberation Sans", sans-serif' >1.5</text>
<line x1="542.50" y1="15.30" x2="575.40" y2="15.30" stroke="#333" stroke-width="1.1" />
<line x1="542.50" y1="13.00" x2="542.50" y2="17.60" stroke="#333" stroke-width="1.1" />
<line x1="575.40" y1="13.00" x2="575.40" y2="17.60" stroke="#333" stroke-width="1.1" />
<line x1="606.00" y1="35.40" x2="633.70" y2="35.40" stroke="#333" stroke-width="1.1" />
<line x1="606.00" y1="33.10" x2="606.00" y2="37.70" stroke="#333" stroke-width="1.1" />
<line x1="633.70" y1="33.10" x2="633.70" y2="37.70" stroke="#333" stroke-width="1.1" />
<line x1="598.30" y1="55.40" x2="606.70" y2="55.40" stroke="#333" stroke-width="1.1" />
<line x1="598.30" y1="53.10" x2="598.30" y2="57.70" stroke="#333" stroke-width="1.1" />
<line x1="606.70" y1="53.10" x2="606.70" y2="57.70" stroke="#333" stroke-width="1.1" />
<line x1="563.50" y1="75.40" x2="570.30" y2="75.40" stroke="#333" stroke-width="1.1" />
<line x1="563.50" y1="73.10" x2="563.50" y2="77.70" stroke="#333" stroke-width="1.1" />
<line x1="570.30" y1="73.10" x2="570.30" y2="77.70" stroke="#333" stroke-width="1.1" />
<line x1="592.30" y1="95.10" x2="613.40" y2="95.10" stroke="#333" stroke-width="1.1" />
<line x1="592.30" y1="92.80" x2="592.30" y2="97.40" stroke="#333" stroke-width="1.1" />
<line x1="613.40" y1="92.80" x2="613.40" y2="97.40" stroke="#333" stroke-width="1.1" />
<line x1="531.20" y1="115.90" x2="562.50" y2="115.90" stroke="#333" stroke-width="1.1" />
<line x1="531.20" y1="113.60" x2="531.20" y2="118.20" stroke="#333" stroke-width="1.1" />
<line x1="562.50" y1="113.60" x2="562.50" y2="118.20" stroke="#333" stroke-width="1.1" />
<line x1="616.50" y1="135.30" x2="627.30" y2="135.30" stroke="#333" stroke-width="1.1" />
<line x1="616.50" y1="133.00" x2="616.50" y2="137.60" stroke="#333" stroke-width="1.1" />
<line x1="627.30" y1="133.00" x2="627.30" y2="137.60" stroke="#333" stroke-width="1.1" />
<line x1="567.20" y1="156.10" x2="584.50" y2="156.10" stroke="#333" stroke-width="1.1" />
<line x1="567.20" y1="153.80" x2="567.20" y2="158.40" stroke="#333" stroke-width="1.1" />
<line x1="584.50" y1="153.80" x2="584.50" y2="158.40" stroke="#333" stroke-width="1.1" />
<polygon points="641.20,33.70 641.67,34.95 643.01,35.01 641.96,35.85 642.32,37.14 641.20,36.40 640.08,37.14 640.44,35.85 639.39,35.01 640.73,34.95" fill="#231f20"/>
<polygon points="645.80,33.70 646.27,34.95 647.61,35.01 646.56,35.85 646.92,37.14 645.80,36.40 644.68,37.14 645.04,35.85 643.99,35.01 645.33,34.95" fill="#231f20"/>
<polygon points="650.40,33.70 650.87,34.95 652.21,35.01 651.16,35.85 651.52,37.14 650.40,36.40 649.28,37.14 649.64,35.85 648.59,35.01 649.93,34.95" fill="#231f20"/>
<polygon points="614.40,53.60 614.87,54.85 616.21,54.91 615.16,55.75 615.52,57.04 614.40,56.30 613.28,57.04 613.64,55.75 612.59,54.91 613.93,54.85" fill="#231f20"/>
<polygon points="619.00,53.60 619.47,54.85 620.81,54.91 619.76,55.75 620.12,57.04 619.00,56.30 617.88,57.04 618.24,55.75 617.19,54.91 618.53,54.85" fill="#231f20"/>
<polygon points="623.60,53.60 624.07,54.85 625.41,54.91 624.36,55.75 624.72,57.04 623.60,56.30 622.48,57.04 622.84,55.75 621.79,54.91 623.13,54.85" fill="#231f20"/>
<polygon points="578.10,73.50 578.57,74.75 579.91,74.81 578.86,75.65 579.22,76.94 578.10,76.20 576.98,76.94 577.34,75.65 576.29,74.81 577.63,74.75" fill="#231f20"/>
<polygon points="619.60,93.30 620.07,94.55 621.41,94.61 620.36,95.45 620.72,96.74 619.60,96.00 618.48,96.74 618.84,95.45 617.79,94.61 619.13,94.55" fill="#231f20"/>
<polygon points="624.20,93.30 624.67,94.55 626.01,94.61 624.96,95.45 625.32,96.74 624.20,96.00 623.08,96.74 623.44,95.45 622.39,94.61 623.73,94.55" fill="#231f20"/>
<polygon points="628.80,93.30 629.27,94.55 630.61,94.61 629.56,95.45 629.92,96.74 628.80,96.00 627.68,96.74 628.04,95.45 626.99,94.61 628.33,94.55" fill="#231f20"/>
<polygon points="633.60,133.70 634.07,134.95 635.41,135.01 634.36,135.85 634.72,137.14 633.60,136.40 632.48,137.14 632.84,135.85 631.79,135.01 633.13,134.95" fill="#231f20"/>
<polygon points="638.20,133.70 638.67,134.95 640.01,135.01 638.96,135.85 639.32,137.14 638.20,136.40 637.08,137.14 637.44,135.85 636.39,135.01 637.73,134.95" fill="#231f20"/>
<polygon points="642.80,133.70 643.27,134.95 644.61,135.01 643.56,135.85 643.92,137.14 642.80,136.40 641.68,137.14 642.04,135.85 640.99,135.01 642.33,134.95" fill="#231f20"/>
<polygon points="592.00,154.30 592.47,155.55 593.81,155.61 592.76,156.45 593.12,157.74 592.00,157.00 590.88,157.74 591.24,156.45 590.19,155.61 591.53,155.55" fill="#231f20"/>
<polyline points="655.20,15.40 659.60,15.40 659.60,35.30 655.20,35.30" stroke="#333" stroke-width="1.1" fill="none" />
<polyline points="654.60,135.70 659.60,135.70 659.60,155.60 654.60,155.60" stroke="#333" stroke-width="1.1" fill="none" />
<polygon points="664.60,146.70 665.07,147.95 666.41,148.01 665.36,148.85 665.72,150.14 664.60,149.40 663.48,150.14 663.84,148.85 662.79,148.01 664.13,147.95" fill="#e04040"/>
<text x="475.50" y="24.00" font-size="9.0" text-anchor="start" font-weight="normal" fill="#2a2a2a" font-family='"Liberation Sans", sans-serif' textLength="16.6" lengthAdjust="spacingAndGlyphs">Brd2</text>
<text x="492.60" y="19.30" font-size="6.4" text-anchor="start" font-weight="normal" fill="#2a2a2a" font-family='"Liberation Sans", sans-serif' textLength="10.6" lengthAdjust="spacingAndGlyphs">BD1</text>
<text x="475.50" y="42.00" font-size="9.0" text-anchor="start" font-weight="normal" fill="#2a2a2a" font-family='"Liberation Sans", sans-serif' textLength="15.2" lengthAdjust="spacingAndGlyphs">KEA</text>
<text x="475.50" y="64.20" font-size="9.0" text-anchor="start" font-weight="normal" fill="#2a2a2a" font-family='"Liberation Sans", sans-serif' textLength="16.6" lengthAdjust="spacingAndGlyphs">Brd2</text>
<text x="492.60" y="59.50" font-size="6.4" text-anchor="start" font-weight="normal" fill="#2a2a2a" font-family='"Liberation Sans", sans-serif' textLength="10.6" lengthAdjust="spacingAndGlyphs">BD2</text>
<text x="475.50" y="84.80" font-size="9.0" text-anchor="start" font-weight="normal" fill="#2a2a2a" font-family='"Liberation Sans", sans-serif' textLength="16.6" lengthAdjust="spacingAndGlyphs">Brd3</text>
<text x="492.60" y="80.10" font-size="6.4" text-anchor="start" font-weight="normal" fill="#2a2a2a" font-family='"Liberation Sans", sans-serif' textLength="10.6" lengthAdjust="spacingAndGlyphs">BD1</text>
<text x="475.50" y="104.50" font-size="9.0" text-anchor="start" font-weight="normal" fill="#2a2a2a" font-family='"Liberation Sans", sans-serif' textLength="16.6" lengthAdjust="spacingAndGlyphs">Brd3</text>
<text x="492.60" y="99.80" font-size="6.4" text-anchor="start" font-weight="normal" fill="#2a2a2a" font-family='"Liberation Sans", sans-serif' textLength="10.6" lengthAdjust="spacingAndGlyphs">BD2</text>
<text x="475.50" y="124.60" font-size="9.0" text-anchor="start" font-weight="normal" fill="#2a2a2a" font-family='"Liberation Sans", sans-serif' textLength="16.6" lengthAdjust="spacingAndGlyphs">Brd4</text>
<text x="492.60" y="119.90" font-size="6.4" text-anchor="start" font-weight="normal" fill="#2a2a2a" font-family='"Liberation Sans", sans-serif' textLength="10.6" lengthAdjust="spacingAndGlyphs">BD1</text>
<text x="475.50" y="144.90" font-size="9.0" text-anchor="start" font-weight="normal" fill="#2a2a2a" font-family='"Liberation Sans", sans-serif' textLength="16.6" lengthAdjust="spacingAndGlyphs">Brd4</text>
<text x="492.60" y="140.20" font-size="6.4" text-anchor="start" font-weight="normal" fill="#2a2a2a" font-family='"Liberation Sans", sans-serif' textLength="10.6" lengthAdjust="spacingAndGlyphs">BD2</text>
<text x="475.50" y="163.30" font-size="9.0" text-anchor="start" font-weight="normal" fill="#2a2a2a" font-family='"Liberation Sans", sans-serif' textLength="15.5" lengthAdjust="spacingAndGlyphs">QVK</text>
<text x="583.5" y="197.3" font-size="9" fill="#2a2a2a" font-family='"Liberation Sans", sans-serif'>Δ<tspan font-style="italic">pK</tspan><tspan font-size="6.3" dy="2">d</tspan></text>
<line x1="55.60" y1="235.90" x2="402.70" y2="235.90" stroke="#333" stroke-width="1.1" />
<line x1="55.60" y1="351.30" x2="402.70" y2="351.30" stroke="#333" stroke-width="1.1" />
<line x1="55.60" y1="235.40" x2="55.60" y2="351.80" stroke="#333" stroke-width="1.1" />
<line x1="228.70" y1="235.90" x2="228.70" y2="351.30" stroke="#333" stroke-width="1.1" />
<line x1="402.70" y1="235.40" x2="402.70" y2="351.80" stroke="#333" stroke-width="1.1" />
<line x1="50.60" y1="351.30" x2="55.60" y2="351.30" stroke="#333" stroke-width="1.1" />
<text x="47.00" y="354.20" font-size="8.4" text-anchor="end" font-weight="normal" fill="#333" font-family='"Liberation Sans", sans-serif' >0</text>
<line x1="50.60" y1="312.93" x2="55.60" y2="312.93" stroke="#333" stroke-width="1.1" />
<text x="47.80" y="315.73" font-size="8.0" text-anchor="end" fill="#333" font-family='"Liberation Sans", sans-serif'>0.5 × 10<tspan font-size="5.44" dy="-3.36">5</tspan></text>
<line x1="50.60" y1="274.57" x2="55.60" y2="274.57" stroke="#333" stroke-width="1.1" />
<text x="47.80" y="277.37" font-size="8.0" text-anchor="end" fill="#333" font-family='"Liberation Sans", sans-serif'>1.0 × 10<tspan font-size="5.44" dy="-3.36">5</tspan></text>
<line x1="50.60" y1="236.20" x2="55.60" y2="236.20" stroke="#333" stroke-width="1.1" />
<text x="47.80" y="239.00" font-size="8.0" text-anchor="end" fill="#333" font-family='"Liberation Sans", sans-serif'>1.5 × 10<tspan font-size="5.44" dy="-3.36">5</tspan></text>
<line x1="64.50" y1="351.30" x2="64.50" y2="354.50" stroke="#333" stroke-width="1.1" />
<text x="64.50" y="367.00" font-size="8.6" text-anchor="middle" font-weight="normal" fill="#333" font-family='"Liberation Sans", sans-serif' >0.1</text>
<line x1="111.40" y1="351.30" x2="111.40" y2="354.50" stroke="#333" stroke-width="1.1" />
<text x="111.40" y="367.00" font-size="8.6" text-anchor="middle" font-weight="normal" fill="#333" font-family='"Liberation Sans", sans-serif' >1</text>
<line x1="158.30" y1="351.30" x2="158.30" y2="354.50" stroke="#333" stroke-width="1.1" />
<text x="158.30" y="367.00" font-size="8.6" text-anchor="middle" font-weight="normal" fill="#333" font-family='"Liberation Sans", sans-serif' >10</text>
<line x1="205.20" y1="351.30" x2="205.20" y2="354.50" stroke="#333" stroke-width="1.1" />
<text x="205.20" y="367.00" font-size="8.6" text-anchor="middle" font-weight="normal" fill="#333" font-family='"Liberation Sans", sans-serif' >100</text>
<line x1="241.50" y1="351.30" x2="241.50" y2="354.50" stroke="#333" stroke-width="1.1" />
<text x="241.50" y="367.00" font-size="8.6" text-anchor="middle" font-weight="normal" fill="#333" font-family='"Liberation Sans", sans-serif' >1</text>
<line x1="307.30" y1="351.30" x2="307.30" y2="354.50" stroke="#333" stroke-width="1.1" />
<text x="307.30" y="367.00" font-size="8.6" text-anchor="middle" font-weight="normal" fill="#333" font-family='"Liberation Sans", sans-serif' >10</text>
<line x1="373.10" y1="351.30" x2="373.10" y2="354.50" stroke="#333" stroke-width="1.1" />
<text x="373.10" y="367.00" font-size="8.6" text-anchor="middle" font-weight="normal" fill="#333" font-family='"Liberation Sans", sans-serif' >100</text>
<line x1="402.70" y1="351.30" x2="405.30" y2="351.30" stroke="#333" stroke-width="1.1" />
<text x="408.00" y="354.20" font-size="8.4" text-anchor="start" font-weight="normal" fill="#333" font-family='"Liberation Sans", sans-serif' >0</text>
<line x1="402.70" y1="322.60" x2="405.30" y2="322.60" stroke="#333" stroke-width="1.1" />
<text x="406.60" y="325.40" font-size="8.0" text-anchor="start" fill="#333" font-family='"Liberation Sans", sans-serif'>1.0 × 10<tspan font-size="5.44" dy="-3.36">5</tspan></text>
<line x1="402.70" y1="293.90" x2="405.30" y2="293.90" stroke="#333" stroke-width="1.1" />
<text x="406.60" y="296.70" font-size="8.0" text-anchor="start" fill="#333" font-family='"Liberation Sans", sans-serif'>2.0 × 10<tspan font-size="5.44" dy="-3.36">5</tspan></text>
<line x1="402.70" y1="265.20" x2="405.30" y2="265.20" stroke="#333" stroke-width="1.1" />
<text x="406.60" y="268.00" font-size="8.0" text-anchor="start" fill="#333" font-family='"Liberation Sans", sans-serif'>3.0 × 10<tspan font-size="5.44" dy="-3.36">5</tspan></text>
<line x1="402.70" y1="236.50" x2="405.30" y2="236.50" stroke="#333" stroke-width="1.1" />
<text x="406.60" y="239.30" font-size="8.0" text-anchor="start" fill="#333" font-family='"Liberation Sans", sans-serif'>4.0 × 10<tspan font-size="5.44" dy="-3.36">5</tspan></text>
<text x="141.30" y="380.00" font-size="8.6" text-anchor="middle" font-weight="normal" fill="#333" font-family='"Liberation Sans", sans-serif' textLength="45" lengthAdjust="spacingAndGlyphs">[VCB] (nM)</text>
<text x="310.80" y="380.00" font-size="8.6" text-anchor="middle" font-weight="normal" fill="#333" font-family='"Liberation Sans", sans-serif' textLength="39" lengthAdjust="spacingAndGlyphs">[BD] (nM)</text>
<text transform="translate(8.0,292.5) rotate(-90)" font-size="8.7" text-anchor="middle" fill="#333" font-family='"Liberation Sans", sans-serif'>Intensity</text>
<text transform="translate(447.2,292.3) rotate(90)" font-size="8.7" text-anchor="middle" fill="#333" font-family='"Liberation Sans", sans-serif'>Intensity</text>
<polyline points="64.50,348.50 66.43,348.49 68.36,348.48 70.29,348.48 72.22,348.47 74.16,348.46 76.09,348.45 78.02,348.44 79.95,348.44 81.88,348.43 83.81,348.42 85.74,348.42 87.67,348.41 89.61,348.40 91.54,348.40 93.47,348.39 95.40,348.38 97.33,348.38 99.26,348.37 101.19,348.37 103.12,348.36 105.06,348.36 106.99,348.35 108.92,348.35 110.85,348.34 112.78,348.34 114.71,348.34 116.64,348.33 118.58,348.33 120.51,348.32 122.44,348.32 124.37,348.32 126.30,348.32 128.23,348.31 130.16,348.31 132.09,348.31 134.03,348.31 135.96,348.31 137.89,348.30 139.82,348.30 141.75,348.30 143.68,348.30 145.61,348.30 147.54,348.30 149.47,348.30 151.41,348.30 153.34,348.30 155.27,348.30 157.20,348.30 159.13,348.30 161.06,348.30 162.99,348.30 164.93,348.31 166.86,348.31 168.79,348.31 170.72,348.31 172.65,348.31 174.58,348.32 176.51,348.32 178.44,348.32 180.38,348.33 182.31,348.33 184.24,348.33 186.17,348.34 188.10,348.34 190.03,348.35 191.96,348.35 193.89,348.35 195.82,348.36 197.76,348.36 199.69,348.37 201.62,348.38 203.55,348.38 205.48,348.39 207.41,348.39 209.34,348.40 211.28,348.41 213.21,348.41 215.14,348.42 217.07,348.43 219.00,348.43" stroke="#f0c030" stroke-width="1.2" fill="none" stroke-linejoin="round"/>
<polyline points="64.50,350.24 66.43,350.21 68.36,350.18 70.29,350.15 72.22,350.12 74.16,350.08 76.09,350.04 78.02,350.00 79.95,349.96 81.88,349.92 83.81,349.87 85.74,349.82 87.67,349.77 89.61,349.72 91.54,349.66 93.47,349.60 95.40,349.54 97.33,349.48 99.26,349.41 101.19,349.35 103.12,349.28 105.06,349.20 106.99,349.13 108.92,349.05 110.85,348.97 112.78,348.88 114.71,348.79 116.64,348.71 118.58,348.62 120.51,348.52 122.44,348.43 124.37,348.33 126.30,348.23 128.23,348.13 130.16,348.03 132.09,347.92 134.03,347.82 135.96,347.71 137.89,347.60 139.82,347.50 141.75,347.39 143.68,347.28 145.61,347.17 147.54,347.06 149.47,346.95 151.41,346.84 153.34,346.73 155.27,346.63 157.20,346.52 159.13,346.42 161.06,346.32 162.99,346.22 164.93,346.12 166.86,346.02 168.79,345.93 170.72,345.84 172.65,345.76 174.58,345.68 176.51,345.60 178.44,345.52 180.38,345.45 182.31,345.39 184.24,345.33 186.17,345.27 188.10,345.22 190.03,345.17 191.96,345.13 193.89,345.10 195.82,345.07 197.76,345.04 199.69,345.02 201.62,345.01 203.55,345.00 205.48,345.00 207.41,345.00 209.34,345.01 211.28,345.03 213.21,345.05 215.14,345.08 217.07,345.11 219.00,345.15" stroke="#6aaee6" stroke-width="1.2" fill="none" stroke-linejoin="round"/>
<polyline points="64.50,350.25 66.43,350.22 68.36,350.18 70.29,350.15 72.22,350.11 74.16,350.07 76.09,350.03 78.02,349.98 79.95,349.94 81.88,349.89 83.81,349.83 85.74,349.77 87.67,349.71 89.61,349.65 91.54,349.58 93.47,349.51 95.40,349.44 97.33,349.36 99.26,349.27 101.19,349.19 103.12,349.10 105.06,349.00 106.99,348.91 108.92,348.80 110.85,348.70 112.78,348.59 114.71,348.47 116.64,348.35 118.58,348.23 120.51,348.11 122.44,347.98 124.37,347.84 126.30,347.71 128.23,347.56 130.16,347.42 132.09,347.27 134.03,347.12 135.96,346.97 137.89,346.81 139.82,346.66 141.75,346.50 143.68,346.34 145.61,346.17 147.54,346.01 149.47,345.84 151.41,345.68 153.34,345.51 155.27,345.35 157.20,345.18 159.13,345.02 161.06,344.86 162.99,344.70 164.93,344.54 166.86,344.38 168.79,344.23 170.72,344.08 172.65,343.94 174.58,343.79 176.51,343.66 178.44,343.53 180.38,343.40 182.31,343.28 184.24,343.17 186.17,343.06 188.10,342.96 190.03,342.87 191.96,342.79 193.89,342.71 195.82,342.64 197.76,342.58 199.69,342.53 201.62,342.49 203.55,342.45 205.48,342.42 207.41,342.41 209.34,342.40 211.28,342.40 213.21,342.41 215.14,342.43 217.07,342.46 219.00,342.50" stroke="#9cc55a" stroke-width="1.2" fill="none" stroke-linejoin="round"/>
<polyline points="64.50,349.20 66.43,349.10 68.36,349.00 70.29,348.90 72.22,348.79 74.16,348.67 76.09,348.55 78.02,348.42 79.95,348.29 81.88,348.16 83.81,348.01 85.74,347.86 87.67,347.71 89.61,347.55 91.54,347.38 93.47,347.21 95.40,347.03 97.33,346.85 99.26,346.66 101.19,346.47 103.12,346.27 105.06,346.06 106.99,345.85 108.92,345.64 110.85,345.42 112.78,345.20 114.71,344.97 116.64,344.74 118.58,344.50 120.51,344.26 122.44,344.02 124.37,343.78 126.30,343.53 128.23,343.28 130.16,343.03 132.09,342.78 134.03,342.53 135.96,342.28 137.89,342.03 139.82,341.78 141.75,341.53 143.68,341.28 145.61,341.04 147.54,340.80 149.47,340.56 151.41,340.33 153.34,340.10 155.27,339.88 157.20,339.67 159.13,339.46 161.06,339.25 162.99,339.06 164.93,338.87 166.86,338.69 168.79,338.52 170.72,338.36 172.65,338.21 174.58,338.07 176.51,337.94 178.44,337.82 180.38,337.72 182.31,337.62 184.24,337.54 186.17,337.47 188.10,337.41 190.03,337.36 191.96,337.33 193.89,337.31 195.82,337.30 197.76,337.31 199.69,337.32 201.62,337.35 203.55,337.40 205.48,337.45 207.41,337.52 209.34,337.60 211.28,337.70 213.21,337.80 215.14,337.92 217.07,338.05 219.00,338.18" stroke="#2f3591" stroke-width="1.3" fill="none" stroke-linejoin="round"/>
<polyline points="64.50,348.57 66.43,348.27 68.36,347.95 70.29,347.59 72.22,347.21 74.16,346.80 76.09,346.35 78.02,345.87 79.95,345.37 81.88,344.82 83.81,344.24 85.74,343.63 87.67,342.98 89.61,342.29 91.54,341.57 93.47,340.81 95.40,340.02 97.33,339.19 99.26,338.33 101.19,337.44 103.12,336.52 105.06,335.57 106.99,334.59 108.92,333.59 110.85,332.57 112.78,331.54 114.71,330.49 116.64,329.43 118.58,328.36 120.51,327.30 122.44,326.24 124.37,325.19 126.30,324.15 128.23,323.12 130.16,322.13 132.09,321.16 134.03,320.22 135.96,319.32 137.89,318.47 139.82,317.66 141.75,316.91 143.68,316.21 145.61,315.58 147.54,315.01 149.47,314.51 151.41,314.08 153.34,313.73 155.27,313.45 157.20,313.26 159.13,313.14 161.06,313.10 162.99,313.14 164.93,313.27 166.86,313.47 168.79,313.75 170.72,314.11 172.65,314.54 174.58,315.05 176.51,315.62 178.44,316.26 180.38,316.96 182.31,317.71 184.24,318.52 186.17,319.38 188.10,320.28 190.03,321.22 191.96,322.19 193.89,323.19 195.82,324.21 197.76,325.25 199.69,326.31 201.62,327.37 203.55,328.43 205.48,329.50 207.41,330.56 209.34,331.60 211.28,332.64 213.21,333.66 215.14,334.66 217.07,335.63 219.00,336.58" stroke="#e07b28" stroke-width="1.3" fill="none" stroke-linejoin="round"/>
<polyline points="64.50,347.43 66.43,346.89 68.36,346.30 70.29,345.64 72.22,344.90 74.16,344.09 76.09,343.20 78.02,342.22 79.95,341.15 81.88,339.99 83.81,338.72 85.74,337.34 87.67,335.86 89.61,334.26 91.54,332.54 93.47,330.71 95.40,328.75 97.33,326.67 99.26,324.47 101.19,322.15 103.12,319.71 105.06,317.15 106.99,314.48 108.92,311.71 110.85,308.83 112.78,305.87 114.71,302.82 116.64,299.70 118.58,296.52 120.51,293.30 122.44,290.04 124.37,286.77 126.30,283.50 128.23,280.25 130.16,277.03 132.09,273.87 134.03,270.78 135.96,267.79 137.89,264.90 139.82,262.15 141.75,259.55 143.68,257.11 145.61,254.86 147.54,252.81 149.47,250.98 151.41,249.38 153.34,248.01 155.27,246.90 157.20,246.05 159.13,245.47 161.06,245.16 162.99,245.12 164.93,245.35 166.86,245.86 168.79,246.64 170.72,247.67 172.65,248.97 174.58,250.50 176.51,252.27 178.44,254.26 180.38,256.46 182.31,258.84 184.24,261.40 186.17,264.11 188.10,266.96 190.03,269.93 191.96,272.99 193.89,276.13 195.82,279.34 197.76,282.58 199.69,285.85 201.62,289.12 203.55,292.38 205.48,295.62 207.41,298.81 209.34,301.95 211.28,305.02 213.21,308.01 215.14,310.91 217.07,313.71 219.00,316.41" stroke="#3f7b45" stroke-width="1.3" fill="none" stroke-linejoin="round"/>
<circle cx="64.50" cy="349.30" r="2.31" fill="#f0c030" />
<circle cx="78.55" cy="349.30" r="2.31" fill="#f0c030" />
<circle cx="92.60" cy="349.30" r="2.31" fill="#f0c030" />
<circle cx="106.65" cy="349.30" r="2.31" fill="#f0c030" />
<circle cx="120.70" cy="349.30" r="2.31" fill="#f0c030" />
<circle cx="134.75" cy="349.30" r="2.31" fill="#f0c030" />
<circle cx="148.80" cy="349.30" r="2.31" fill="#f0c030" />
<circle cx="162.85" cy="349.30" r="2.31" fill="#f0c030" />
<circle cx="176.90" cy="349.30" r="2.31" fill="#f0c030" />
<circle cx="190.95" cy="349.30" r="2.31" fill="#f0c030" />
<circle cx="205.00" cy="349.30" r="2.31" fill="#f0c030" />
<circle cx="219.05" cy="349.30" r="2.31" fill="#f0c030" />
<polygon points="64.50,346.80 66.70,349.00 64.50,351.20 62.30,349.00" fill="#9cc55a"/>
<polygon points="78.55,346.80 80.75,349.00 78.55,351.20 76.35,349.00" fill="#9cc55a"/>
<polygon points="92.60,346.30 94.80,348.50 92.60,350.70 90.40,348.50" fill="#9cc55a"/>
<polygon points="106.65,345.80 108.85,348.00 106.65,350.20 104.45,348.00" fill="#9cc55a"/>
<polygon points="120.70,345.30 122.90,347.50 120.70,349.70 118.50,347.50" fill="#9cc55a"/>
<polygon points="134.75,344.80 136.95,347.00 134.75,349.20 132.55,347.00" fill="#9cc55a"/>
<polygon points="148.80,343.80 151.00,346.00 148.80,348.20 146.60,346.00" fill="#9cc55a"/>
<polygon points="162.85,343.40 165.05,345.60 162.85,347.80 160.65,345.60" fill="#9cc55a"/>
<polygon points="176.90,342.80 179.10,345.00 176.90,347.20 174.70,345.00" fill="#9cc55a"/>
<polygon points="190.95,342.30 193.15,344.50 190.95,346.70 188.75,344.50" fill="#9cc55a"/>
<polygon points="205.00,340.70 207.20,342.90 205.00,345.10 202.80,342.90" fill="#9cc55a"/>
<polygon points="219.05,340.70 221.25,342.90 219.05,345.10 216.85,342.90" fill="#9cc55a"/>
<polygon points="64.50,346.66 66.72,350.40 62.28,350.40" fill="#6aaee6"/>
<polygon points="78.55,346.66 80.77,350.40 76.33,350.40" fill="#6aaee6"/>
<polygon points="92.60,346.16 94.82,349.90 90.38,349.90" fill="#6aaee6"/>
<polygon points="106.65,345.66 108.87,349.40 104.43,349.40" fill="#6aaee6"/>
<polygon points="120.70,345.16 122.92,348.90 118.48,348.90" fill="#6aaee6"/>
<polygon points="134.75,344.66 136.97,348.40 132.53,348.40" fill="#6aaee6"/>
<polygon points="148.80,344.16 151.02,347.90 146.58,347.90" fill="#6aaee6"/>
<polygon points="162.85,343.96 165.07,347.70 160.63,347.70" fill="#6aaee6"/>
<polygon points="176.90,343.66 179.12,347.40 174.68,347.40" fill="#6aaee6"/>
<polygon points="190.95,343.46 193.17,347.20 188.73,347.20" fill="#6aaee6"/>
<polygon points="205.00,343.26 207.22,347.00 202.78,347.00" fill="#6aaee6"/>
<polygon points="219.05,343.16 221.27,346.90 216.83,346.90" fill="#6aaee6"/>
<polygon points="64.50,351.97 66.85,348.02 62.15,348.02" fill="#2f3591"/>
<polygon points="78.55,351.47 80.90,347.52 76.20,347.52" fill="#2f3591"/>
<polygon points="92.60,350.67 94.95,346.72 90.25,346.72" fill="#2f3591"/>
<polygon points="106.65,348.47 109.00,344.52 104.30,344.52" fill="#2f3591"/>
<polygon points="120.70,346.37 123.05,342.42 118.35,342.42" fill="#2f3591"/>
<polygon points="134.75,344.07 137.10,340.12 132.40,340.12" fill="#2f3591"/>
<polygon points="148.80,342.57 151.15,338.62 146.45,338.62" fill="#2f3591"/>
<polygon points="162.85,342.07 165.20,338.12 160.50,338.12" fill="#2f3591"/>
<polygon points="176.90,340.27 179.25,336.32 174.55,336.32" fill="#2f3591"/>
<polygon points="190.95,339.47 193.30,335.52 188.60,335.52" fill="#2f3591"/>
<polygon points="205.00,340.07 207.35,336.12 202.65,336.12" fill="#2f3591"/>
<polygon points="219.05,342.87 221.40,338.92 216.70,338.92" fill="#2f3591"/>
<rect x="62.40" y="345.90" width="4.20" height="4.20" fill="#e07b28" />
<rect x="76.45" y="345.20" width="4.20" height="4.20" fill="#e07b28" />
<rect x="90.50" y="341.30" width="4.20" height="4.20" fill="#e07b28" />
<rect x="104.55" y="335.70" width="4.20" height="4.20" fill="#e07b28" />
<rect x="118.60" y="324.70" width="4.20" height="4.20" fill="#e07b28" />
<line x1="134.75" y1="315.40" x2="134.75" y2="323.00" stroke="#e07b28" stroke-width="0.9" />
<line x1="132.85" y1="315.40" x2="136.65" y2="315.40" stroke="#e07b28" stroke-width="0.9" />
<line x1="132.85" y1="323.00" x2="136.65" y2="323.00" stroke="#e07b28" stroke-width="0.9" />
<rect x="132.65" y="317.10" width="4.20" height="4.20" fill="#e07b28" />
<rect x="146.70" y="310.20" width="4.20" height="4.20" fill="#e07b28" />
<line x1="162.85" y1="314.10" x2="162.85" y2="321.70" stroke="#e07b28" stroke-width="0.9" />
<line x1="160.95" y1="314.10" x2="164.75" y2="314.10" stroke="#e07b28" stroke-width="0.9" />
<line x1="160.95" y1="321.70" x2="164.75" y2="321.70" stroke="#e07b28" stroke-width="0.9" />
<rect x="160.75" y="315.80" width="4.20" height="4.20" fill="#e07b28" />
<rect x="174.80" y="317.60" width="4.20" height="4.20" fill="#e07b28" />
<rect x="188.85" y="318.30" width="4.20" height="4.20" fill="#e07b28" />
<rect x="202.90" y="325.20" width="4.20" height="4.20" fill="#e07b28" />
<rect x="216.95" y="339.50" width="4.20" height="4.20" fill="#e07b28" />
<circle cx="64.50" cy="348.00" r="2.21" fill="#3f7b45" />
<line x1="78.55" y1="339.10" x2="78.55" y2="344.30" stroke="#3f7b45" stroke-width="0.9" />
<line x1="76.65" y1="339.10" x2="80.45" y2="339.10" stroke="#3f7b45" stroke-width="0.9" />
<line x1="76.65" y1="344.30" x2="80.45" y2="344.30" stroke="#3f7b45" stroke-width="0.9" />
<circle cx="78.55" cy="341.70" r="2.21" fill="#3f7b45" />
<circle cx="92.60" cy="335.30" r="2.21" fill="#3f7b45" />
<line x1="106.65" y1="312.30" x2="106.65" y2="318.90" stroke="#3f7b45" stroke-width="0.9" />
<line x1="104.75" y1="312.30" x2="108.55" y2="312.30" stroke="#3f7b45" stroke-width="0.9" />
<line x1="104.75" y1="318.90" x2="108.55" y2="318.90" stroke="#3f7b45" stroke-width="0.9" />
<circle cx="106.65" cy="315.60" r="2.21" fill="#3f7b45" />
<circle cx="120.70" cy="289.30" r="2.21" fill="#3f7b45" />
<circle cx="134.75" cy="262.70" r="2.21" fill="#3f7b45" />
<line x1="148.80" y1="238.90" x2="148.80" y2="256.90" stroke="#3f7b45" stroke-width="0.9" />
<line x1="146.90" y1="238.90" x2="150.70" y2="238.90" stroke="#3f7b45" stroke-width="0.9" />
<line x1="146.90" y1="256.90" x2="150.70" y2="256.90" stroke="#3f7b45" stroke-width="0.9" />
<circle cx="148.80" cy="247.90" r="2.21" fill="#3f7b45" />
<line x1="162.85" y1="248.60" x2="162.85" y2="266.60" stroke="#3f7b45" stroke-width="0.9" />
<line x1="160.95" y1="248.60" x2="164.75" y2="248.60" stroke="#3f7b45" stroke-width="0.9" />
<line x1="160.95" y1="266.60" x2="164.75" y2="266.60" stroke="#3f7b45" stroke-width="0.9" />
<circle cx="162.85" cy="257.60" r="2.21" fill="#3f7b45" />
<line x1="176.90" y1="247.30" x2="176.90" y2="261.30" stroke="#3f7b45" stroke-width="0.9" />
<line x1="175.00" y1="247.30" x2="178.80" y2="247.30" stroke="#3f7b45" stroke-width="0.9" />
<line x1="175.00" y1="261.30" x2="178.80" y2="261.30" stroke="#3f7b45" stroke-width="0.9" />
<circle cx="176.90" cy="254.30" r="2.21" fill="#3f7b45" />
<line x1="190.95" y1="256.90" x2="190.95" y2="262.90" stroke="#3f7b45" stroke-width="0.9" />
<line x1="189.05" y1="256.90" x2="192.85" y2="256.90" stroke="#3f7b45" stroke-width="0.9" />
<line x1="189.05" y1="262.90" x2="192.85" y2="262.90" stroke="#3f7b45" stroke-width="0.9" />
<circle cx="190.95" cy="259.90" r="2.21" fill="#3f7b45" />
<line x1="205.00" y1="287.10" x2="205.00" y2="294.10" stroke="#3f7b45" stroke-width="0.9" />
<line x1="203.10" y1="287.10" x2="206.90" y2="287.10" stroke="#3f7b45" stroke-width="0.9" />
<line x1="203.10" y1="294.10" x2="206.90" y2="294.10" stroke="#3f7b45" stroke-width="0.9" />
<circle cx="205.00" cy="290.60" r="2.21" fill="#3f7b45" />
<line x1="219.05" y1="316.40" x2="219.05" y2="324.00" stroke="#3f7b45" stroke-width="0.9" />
<line x1="217.15" y1="316.40" x2="220.95" y2="316.40" stroke="#3f7b45" stroke-width="0.9" />
<line x1="217.15" y1="324.00" x2="220.95" y2="324.00" stroke="#3f7b45" stroke-width="0.9" />
<circle cx="219.05" cy="320.20" r="2.21" fill="#3f7b45" />
<polyline points="231.90,350.49 233.94,350.46 235.97,350.44 238.01,350.41 240.05,350.39 242.08,350.36 244.12,350.34 246.15,350.31 248.19,350.28 250.23,350.25 252.26,350.22 254.30,350.19 256.34,350.16 258.37,350.13 260.41,350.10 262.44,350.07 264.48,350.04 266.52,350.01 268.55,349.97 270.59,349.94 272.62,349.91 274.66,349.87 276.70,349.84 278.73,349.81 280.77,349.77 282.81,349.74 284.84,349.70 286.88,349.66 288.92,349.63 290.95,349.59 292.99,349.56 295.02,349.52 297.06,349.49 299.10,349.45 301.13,349.42 303.17,349.38 305.21,349.34 307.24,349.31 309.28,349.28 311.31,349.24 313.35,349.21 315.39,349.17 317.42,349.14 319.46,349.11 321.50,349.07 323.53,349.04 325.57,349.01 327.60,348.98 329.64,348.95 331.68,348.92 333.71,348.89 335.75,348.86 337.79,348.83 339.82,348.81 341.86,348.78 343.89,348.76 345.93,348.73 347.97,348.71 350.00,348.69 352.04,348.67 354.07,348.65 356.11,348.63 358.15,348.61 360.18,348.60 362.22,348.58 364.26,348.57 366.29,348.56 368.33,348.54 370.37,348.53 372.40,348.53 374.44,348.52 376.47,348.51 378.51,348.51 380.55,348.50 382.58,348.50 384.62,348.50 386.65,348.50 388.69,348.50 390.73,348.51 392.76,348.51 394.80,348.52" stroke="#f0c030" stroke-width="1.2" fill="none" stroke-linejoin="round"/>
<polyline points="231.90,351.08 233.94,351.08 235.97,351.08 238.01,351.07 240.05,351.07 242.08,351.06 244.12,351.05 246.15,351.04 248.19,351.03 250.23,351.01 252.26,351.00 254.30,350.98 256.34,350.95 258.37,350.93 260.41,350.89 262.44,350.86 264.48,350.82 266.52,350.77 268.55,350.72 270.59,350.65 272.62,350.58 274.66,350.51 276.70,350.42 278.73,350.32 280.77,350.21 282.81,350.08 284.84,349.95 286.88,349.80 288.92,349.63 290.95,349.45 292.99,349.25 295.02,349.04 297.06,348.80 299.10,348.55 301.13,348.28 303.17,348.00 305.21,347.69 307.24,347.37 309.28,347.02 311.31,346.66 313.35,346.29 315.39,345.90 317.42,345.49 319.46,345.07 321.50,344.65 323.53,344.21 325.57,343.77 327.60,343.32 329.64,342.88 331.68,342.43 333.71,342.00 335.75,341.57 337.79,341.15 339.82,340.74 341.86,340.36 343.89,339.99 345.93,339.65 347.97,339.34 350.00,339.06 352.04,338.81 354.07,338.59 356.11,338.42 358.15,338.28 360.18,338.18 362.22,338.12 364.26,338.10 366.29,338.12 368.33,338.19 370.37,338.30 372.40,338.44 374.44,338.63 376.47,338.85 378.51,339.10 380.55,339.39 382.58,339.71 384.62,340.05 386.65,340.42 388.69,340.81 390.73,341.21 392.76,341.63 394.80,342.06" stroke="#6aaee6" stroke-width="1.2" fill="none" stroke-linejoin="round"/>
<polyline points="231.90,351.10 233.94,351.09 235.97,351.09 238.01,351.09 240.05,351.09 242.08,351.08 244.12,351.08 246.15,351.07 248.19,351.07 250.23,351.06 252.26,351.05 254.30,351.04 256.34,351.03 258.37,351.01 260.41,350.99 262.44,350.97 264.48,350.94 266.52,350.91 268.55,350.87 270.59,350.83 272.62,350.78 274.66,350.72 276.70,350.65 278.73,350.58 280.77,350.49 282.81,350.38 284.84,350.27 286.88,350.14 288.92,349.99 290.95,349.82 292.99,349.64 295.02,349.43 297.06,349.21 299.10,348.96 301.13,348.69 303.17,348.39 305.21,348.07 307.24,347.72 309.28,347.35 311.31,346.95 313.35,346.53 315.39,346.09 317.42,345.62 319.46,345.13 321.50,344.63 323.53,344.10 325.57,343.56 327.60,343.02 329.64,342.46 331.68,341.90 333.71,341.35 335.75,340.80 337.79,340.26 339.82,339.73 341.86,339.23 343.89,338.75 345.93,338.30 347.97,337.88 350.00,337.50 352.04,337.16 354.07,336.87 356.11,336.63 358.15,336.44 360.18,336.30 362.22,336.22 364.26,336.20 366.29,336.23 368.33,336.32 370.37,336.47 372.40,336.66 374.44,336.91 376.47,337.21 378.51,337.55 380.55,337.94 382.58,338.36 384.62,338.82 386.65,339.30 388.69,339.81 390.73,340.34 392.76,340.88 394.80,341.43" stroke="#9cc55a" stroke-width="1.2" fill="none" stroke-linejoin="round"/>
<polyline points="231.90,351.30 233.94,351.30 235.97,351.30 238.01,351.30 240.05,351.30 242.08,351.30 244.12,351.30 246.15,351.30 248.19,351.30 250.23,351.30 252.26,351.30 254.30,351.29 256.34,351.29 258.37,351.29 260.41,351.29 262.44,351.28 264.48,351.27 266.52,351.27 268.55,351.26 270.59,351.25 272.62,351.23 274.66,351.21 276.70,351.19 278.73,351.16 280.77,351.13 282.81,351.09 284.84,351.03 286.88,350.97 288.92,350.90 290.95,350.81 292.99,350.70 295.02,350.58 297.06,350.43 299.10,350.26 301.13,350.06 303.17,349.83 305.21,349.56 307.24,349.25 309.28,348.90 311.31,348.51 313.35,348.06 315.39,347.56 317.42,347.01 319.46,346.40 321.50,345.72 323.53,344.99 325.57,344.19 327.60,343.32 329.64,342.40 331.68,341.41 333.71,340.37 335.75,339.28 337.79,338.14 339.82,336.96 341.86,335.75 343.89,334.51 345.93,333.27 347.97,332.02 350.00,330.79 352.04,329.58 354.07,328.41 356.11,327.29 358.15,326.23 360.18,325.26 362.22,324.37 364.26,323.59 366.29,322.92 368.33,322.37 370.37,321.95 372.40,321.66 374.44,321.52 376.47,321.52 378.51,321.65 380.55,321.93 382.58,322.35 384.62,322.89 386.65,323.56 388.69,324.34 390.73,325.22 392.76,326.19 394.80,327.24" stroke="#2f3591" stroke-width="1.3" fill="none" stroke-linejoin="round"/>
<polyline points="231.90,351.21 233.94,351.19 235.97,351.17 238.01,351.14 240.05,351.11 242.08,351.08 244.12,351.04 246.15,350.99 248.19,350.94 250.23,350.87 252.26,350.80 254.30,350.72 256.34,350.62 258.37,350.51 260.41,350.38 262.44,350.24 264.48,350.08 266.52,349.89 268.55,349.69 270.59,349.45 272.62,349.19 274.66,348.90 276.70,348.57 278.73,348.21 280.77,347.81 282.81,347.37 284.84,346.88 286.88,346.35 288.92,345.77 290.95,345.13 292.99,344.44 295.02,343.69 297.06,342.88 299.10,342.01 301.13,341.07 303.17,340.07 305.21,339.00 307.24,337.87 309.28,336.67 311.31,335.40 313.35,334.07 315.39,332.68 317.42,331.23 319.46,329.71 321.50,328.15 323.53,326.53 325.57,324.87 327.60,323.18 329.64,321.45 331.68,319.69 333.71,317.92 335.75,316.15 337.79,314.37 339.82,312.60 341.86,310.86 343.89,309.15 345.93,307.47 347.97,305.85 350.00,304.29 352.04,302.80 354.07,301.40 356.11,300.08 358.15,298.87 360.18,297.77 362.22,296.79 364.26,295.93 366.29,295.21 368.33,294.62 370.37,294.17 372.40,293.87 374.44,293.72 376.47,293.72 378.51,293.86 380.55,294.16 382.58,294.60 384.62,295.18 386.65,295.90 388.69,296.75 390.73,297.73 392.76,298.82 394.80,300.03" stroke="#e07b28" stroke-width="1.3" fill="none" stroke-linejoin="round"/>
<polyline points="231.90,350.96 233.94,350.90 235.97,350.83 238.01,350.75 240.05,350.65 242.08,350.55 244.12,350.43 246.15,350.29 248.19,350.13 250.23,349.95 252.26,349.75 254.30,349.52 256.34,349.27 258.37,348.98 260.41,348.65 262.44,348.29 264.48,347.89 266.52,347.44 268.55,346.94 270.59,346.39 272.62,345.79 274.66,345.12 276.70,344.39 278.73,343.59 280.77,342.72 282.81,341.77 284.84,340.74 286.88,339.63 288.92,338.44 290.95,337.15 292.99,335.77 295.02,334.30 297.06,332.73 299.10,331.06 301.13,329.30 303.17,327.44 305.21,325.48 307.24,323.43 309.28,321.28 311.31,319.05 313.35,316.73 315.39,314.33 317.42,311.86 319.46,309.32 321.50,306.72 323.53,304.07 325.57,301.38 327.60,298.66 329.64,295.93 331.68,293.19 333.71,290.46 335.75,287.74 337.79,285.07 339.82,282.44 341.86,279.88 343.89,277.39 345.93,275.00 347.97,272.72 350.00,270.56 352.04,268.53 354.07,266.65 356.11,264.93 358.15,263.39 360.18,262.02 362.22,260.85 364.26,259.88 366.29,259.11 368.33,258.56 370.37,258.22 372.40,258.10 374.44,258.20 376.47,258.52 378.51,259.05 380.55,259.79 382.58,260.75 384.62,261.90 386.65,263.25 388.69,264.77 390.73,266.48 392.76,268.34 394.80,270.35" stroke="#3f7b45" stroke-width="1.3" fill="none" stroke-linejoin="round"/>
<circle cx="231.90" cy="350.20" r="2.31" fill="#f0c030" />
<circle cx="246.70" cy="349.96" r="2.31" fill="#f0c030" />
<circle cx="261.50" cy="349.73" r="2.31" fill="#f0c030" />
<circle cx="276.30" cy="349.49" r="2.31" fill="#f0c030" />
<circle cx="291.10" cy="349.26" r="2.31" fill="#f0c030" />
<circle cx="305.90" cy="349.02" r="2.31" fill="#f0c030" />
<circle cx="320.70" cy="348.78" r="2.31" fill="#f0c030" />
<circle cx="335.50" cy="348.55" r="2.31" fill="#f0c030" />
<circle cx="350.30" cy="348.31" r="2.31" fill="#f0c030" />
<circle cx="365.10" cy="348.08" r="2.31" fill="#f0c030" />
<circle cx="379.90" cy="347.84" r="2.31" fill="#f0c030" />
<circle cx="394.70" cy="347.60" r="2.31" fill="#f0c030" />
<polygon points="231.90,347.80 234.10,350.00 231.90,352.20 229.70,350.00" fill="#9cc55a"/>
<polygon points="246.70,347.80 248.90,350.00 246.70,352.20 244.50,350.00" fill="#9cc55a"/>
<polygon points="261.50,347.80 263.70,350.00 261.50,352.20 259.30,350.00" fill="#9cc55a"/>
<polygon points="276.30,347.80 278.50,350.00 276.30,352.20 274.10,350.00" fill="#9cc55a"/>
<polygon points="291.10,347.30 293.30,349.50 291.10,351.70 288.90,349.50" fill="#9cc55a"/>
<polygon points="305.90,346.30 308.10,348.50 305.90,350.70 303.70,348.50" fill="#9cc55a"/>
<polygon points="320.70,343.80 322.90,346.00 320.70,348.20 318.50,346.00" fill="#9cc55a"/>
<polygon points="335.50,340.30 337.70,342.50 335.50,344.70 333.30,342.50" fill="#9cc55a"/>
<polygon points="350.30,336.30 352.50,338.50 350.30,340.70 348.10,338.50" fill="#9cc55a"/>
<polygon points="365.10,333.30 367.30,335.50 365.10,337.70 362.90,335.50" fill="#9cc55a"/>
<polygon points="379.90,333.30 382.10,335.50 379.90,337.70 377.70,335.50" fill="#9cc55a"/>
<polygon points="394.70,338.30 396.90,340.50 394.70,342.70 392.50,340.50" fill="#9cc55a"/>
<polygon points="231.90,347.66 234.12,351.40 229.68,351.40" fill="#6aaee6"/>
<polygon points="246.70,347.66 248.92,351.40 244.48,351.40" fill="#6aaee6"/>
<polygon points="261.50,347.66 263.72,351.40 259.28,351.40" fill="#6aaee6"/>
<polygon points="276.30,347.66 278.52,351.40 274.08,351.40" fill="#6aaee6"/>
<polygon points="291.10,347.16 293.32,350.90 288.88,350.90" fill="#6aaee6"/>
<polygon points="305.90,346.66 308.12,350.40 303.68,350.40" fill="#6aaee6"/>
<polygon points="320.70,344.16 322.92,347.90 318.48,347.90" fill="#6aaee6"/>
<polygon points="335.50,340.66 337.72,344.40 333.28,344.40" fill="#6aaee6"/>
<polygon points="350.30,337.66 352.52,341.40 348.08,341.40" fill="#6aaee6"/>
<polygon points="365.10,335.16 367.32,338.90 362.88,338.90" fill="#6aaee6"/>
<polygon points="379.90,335.16 382.12,338.90 377.68,338.90" fill="#6aaee6"/>
<polygon points="394.70,339.66 396.92,343.40 392.48,343.40" fill="#6aaee6"/>
<polygon points="231.90,352.97 234.25,349.02 229.55,349.02" fill="#2f3591"/>
<polygon points="246.70,352.97 249.05,349.02 244.35,349.02" fill="#2f3591"/>
<polygon points="261.50,352.97 263.85,349.02 259.15,349.02" fill="#2f3591"/>
<polygon points="276.30,352.47 278.65,348.52 273.95,348.52" fill="#2f3591"/>
<polygon points="291.10,349.87 293.45,345.92 288.75,345.92" fill="#2f3591"/>
<polygon points="305.90,348.47 308.25,344.52 303.55,344.52" fill="#2f3591"/>
<polygon points="320.70,347.67 323.05,343.72 318.35,343.72" fill="#2f3591"/>
<polygon points="335.50,342.37 337.85,338.42 333.15,338.42" fill="#2f3591"/>
<line x1="350.30" y1="328.90" x2="350.30" y2="334.50" stroke="#2f3591" stroke-width="0.9" />
<line x1="348.40" y1="328.90" x2="352.20" y2="328.90" stroke="#2f3591" stroke-width="0.9" />
<line x1="348.40" y1="334.50" x2="352.20" y2="334.50" stroke="#2f3591" stroke-width="0.9" />
<polygon points="350.30,334.17 352.65,330.22 347.95,330.22" fill="#2f3591"/>
<line x1="365.10" y1="320.10" x2="365.10" y2="325.70" stroke="#2f3591" stroke-width="0.9" />
<line x1="363.20" y1="320.10" x2="367.00" y2="320.10" stroke="#2f3591" stroke-width="0.9" />
<line x1="363.20" y1="325.70" x2="367.00" y2="325.70" stroke="#2f3591" stroke-width="0.9" />
<polygon points="365.10,325.37 367.45,321.42 362.75,321.42" fill="#2f3591"/>
<line x1="379.90" y1="314.30" x2="379.90" y2="321.10" stroke="#2f3591" stroke-width="0.9" />
<line x1="378.00" y1="314.30" x2="381.80" y2="314.30" stroke="#2f3591" stroke-width="0.9" />
<line x1="378.00" y1="321.10" x2="381.80" y2="321.10" stroke="#2f3591" stroke-width="0.9" />
<polygon points="379.90,320.17 382.25,316.22 377.55,316.22" fill="#2f3591"/>
<line x1="394.70" y1="325.40" x2="394.70" y2="334.40" stroke="#2f3591" stroke-width="0.9" />
<line x1="392.80" y1="325.40" x2="396.60" y2="325.40" stroke="#2f3591" stroke-width="0.9" />
<line x1="392.80" y1="334.40" x2="396.60" y2="334.40" stroke="#2f3591" stroke-width="0.9" />
<polygon points="394.70,332.37 397.05,328.42 392.35,328.42" fill="#2f3591"/>
<rect x="229.80" y="348.40" width="4.20" height="4.20" fill="#e07b28" />
<rect x="244.60" y="348.40" width="4.20" height="4.20" fill="#e07b28" />
<rect x="259.40" y="347.90" width="4.20" height="4.20" fill="#e07b28" />
<rect x="274.20" y="346.30" width="4.20" height="4.20" fill="#e07b28" />
<rect x="289.00" y="341.80" width="4.20" height="4.20" fill="#e07b28" />
<rect x="303.80" y="335.70" width="4.20" height="4.20" fill="#e07b28" />
<rect x="318.60" y="327.50" width="4.20" height="4.20" fill="#e07b28" />
<rect x="333.40" y="318.50" width="4.20" height="4.20" fill="#e07b28" />
<line x1="350.30" y1="303.70" x2="350.30" y2="310.70" stroke="#e07b28" stroke-width="0.9" />
<line x1="348.40" y1="303.70" x2="352.20" y2="303.70" stroke="#e07b28" stroke-width="0.9" />
<line x1="348.40" y1="310.70" x2="352.20" y2="310.70" stroke="#e07b28" stroke-width="0.9" />
<rect x="348.20" y="305.10" width="4.20" height="4.20" fill="#e07b28" />
<line x1="365.10" y1="288.30" x2="365.10" y2="296.30" stroke="#e07b28" stroke-width="0.9" />
<line x1="363.20" y1="288.30" x2="367.00" y2="288.30" stroke="#e07b28" stroke-width="0.9" />
<line x1="363.20" y1="296.30" x2="367.00" y2="296.30" stroke="#e07b28" stroke-width="0.9" />
<rect x="363.00" y="290.20" width="4.20" height="4.20" fill="#e07b28" />
<rect x="377.80" y="290.20" width="4.20" height="4.20" fill="#e07b28" />
<line x1="394.70" y1="298.10" x2="394.70" y2="305.70" stroke="#e07b28" stroke-width="0.9" />
<line x1="392.80" y1="298.10" x2="396.60" y2="298.10" stroke="#e07b28" stroke-width="0.9" />
<line x1="392.80" y1="305.70" x2="396.60" y2="305.70" stroke="#e07b28" stroke-width="0.9" />
<rect x="392.60" y="299.80" width="4.20" height="4.20" fill="#e07b28" />
<circle cx="231.90" cy="350.80" r="2.21" fill="#3f7b45" />
<circle cx="246.70" cy="350.10" r="2.21" fill="#3f7b45" />
<circle cx="261.50" cy="349.00" r="2.21" fill="#3f7b45" />
<circle cx="276.30" cy="344.20" r="2.21" fill="#3f7b45" />
<line x1="291.10" y1="332.30" x2="291.10" y2="337.30" stroke="#3f7b45" stroke-width="0.9" />
<line x1="289.20" y1="332.30" x2="293.00" y2="332.30" stroke="#3f7b45" stroke-width="0.9" />
<line x1="289.20" y1="337.30" x2="293.00" y2="337.30" stroke="#3f7b45" stroke-width="0.9" />
<circle cx="291.10" cy="334.80" r="2.21" fill="#3f7b45" />
<line x1="305.90" y1="320.20" x2="305.90" y2="329.20" stroke="#3f7b45" stroke-width="0.9" />
<line x1="304.00" y1="320.20" x2="307.80" y2="320.20" stroke="#3f7b45" stroke-width="0.9" />
<line x1="304.00" y1="329.20" x2="307.80" y2="329.20" stroke="#3f7b45" stroke-width="0.9" />
<circle cx="305.90" cy="324.70" r="2.21" fill="#3f7b45" />
<circle cx="320.70" cy="307.50" r="2.21" fill="#3f7b45" />
<circle cx="335.50" cy="291.70" r="2.21" fill="#3f7b45" />
<circle cx="350.30" cy="272.90" r="2.21" fill="#3f7b45" />
<line x1="365.10" y1="255.00" x2="365.10" y2="263.40" stroke="#3f7b45" stroke-width="0.9" />
<line x1="363.20" y1="255.00" x2="367.00" y2="255.00" stroke="#3f7b45" stroke-width="0.9" />
<line x1="363.20" y1="263.40" x2="367.00" y2="263.40" stroke="#3f7b45" stroke-width="0.9" />
<circle cx="365.10" cy="259.20" r="2.21" fill="#3f7b45" />
<line x1="379.90" y1="251.20" x2="379.90" y2="260.20" stroke="#3f7b45" stroke-width="0.9" />
<line x1="378.00" y1="251.20" x2="381.80" y2="251.20" stroke="#3f7b45" stroke-width="0.9" />
<line x1="378.00" y1="260.20" x2="381.80" y2="260.20" stroke="#3f7b45" stroke-width="0.9" />
<circle cx="379.90" cy="255.70" r="2.21" fill="#3f7b45" />
<line x1="394.70" y1="271.80" x2="394.70" y2="277.40" stroke="#3f7b45" stroke-width="0.9" />
<line x1="392.80" y1="271.80" x2="396.60" y2="271.80" stroke="#3f7b45" stroke-width="0.9" />
<line x1="392.80" y1="277.40" x2="396.60" y2="277.40" stroke="#3f7b45" stroke-width="0.9" />
<circle cx="394.70" cy="274.60" r="2.21" fill="#3f7b45" />
<line x1="233.80" y1="246.60" x2="246.20" y2="246.60" stroke="#f0c030" stroke-width="1.5" />
<circle cx="240.00" cy="246.60" r="2.52" fill="#f0c030" />
<text x="250.0" y="249.90" font-size="9" fill="#333" font-family='"Liberation Sans", sans-serif' textLength="17.4" lengthAdjust="spacingAndGlyphs">Brd2</text>
<text x="267.6" y="245.40" font-size="6.2" fill="#333" font-family='"Liberation Sans", sans-serif' textLength="10.4" lengthAdjust="spacingAndGlyphs">BD1</text>
<line x1="233.80" y1="257.84" x2="246.20" y2="257.84" stroke="#e07b28" stroke-width="1.5" />
<rect x="237.48" y="255.32" width="5.04" height="5.04" fill="#e07b28" />
<text x="250.0" y="261.14" font-size="9" fill="#333" font-family='"Liberation Sans", sans-serif' textLength="17.4" lengthAdjust="spacingAndGlyphs">Brd2</text>
<text x="267.6" y="256.64" font-size="6.2" fill="#333" font-family='"Liberation Sans", sans-serif' textLength="10.4" lengthAdjust="spacingAndGlyphs">BD2</text>
<line x1="233.80" y1="269.08" x2="246.20" y2="269.08" stroke="#6aaee6" stroke-width="1.5" />
<polygon points="240.00,265.96 242.96,270.95 237.04,270.95" fill="#6aaee6"/>
<text x="250.0" y="272.38" font-size="9" fill="#333" font-family='"Liberation Sans", sans-serif' textLength="17.4" lengthAdjust="spacingAndGlyphs">Brd3</text>
<text x="267.6" y="267.88" font-size="6.2" fill="#333" font-family='"Liberation Sans", sans-serif' textLength="10.4" lengthAdjust="spacingAndGlyphs">BD1</text>
<line x1="233.80" y1="280.32" x2="246.20" y2="280.32" stroke="#2f3591" stroke-width="1.5" />
<polygon points="240.00,283.44 242.96,278.45 237.04,278.45" fill="#2f3591"/>
<text x="250.0" y="283.62" font-size="9" fill="#333" font-family='"Liberation Sans", sans-serif' textLength="17.4" lengthAdjust="spacingAndGlyphs">Brd3</text>
<text x="267.6" y="279.12" font-size="6.2" fill="#333" font-family='"Liberation Sans", sans-serif' textLength="10.4" lengthAdjust="spacingAndGlyphs">BD2</text>
<line x1="233.80" y1="291.56" x2="246.20" y2="291.56" stroke="#9cc55a" stroke-width="1.5" />
<polygon points="240.00,288.92 242.64,291.56 240.00,294.20 237.36,291.56" fill="#9cc55a"/>
<text x="250.0" y="294.86" font-size="9" fill="#333" font-family='"Liberation Sans", sans-serif' textLength="17.4" lengthAdjust="spacingAndGlyphs">Brd4</text>
<text x="267.6" y="290.36" font-size="6.2" fill="#333" font-family='"Liberation Sans", sans-serif' textLength="10.4" lengthAdjust="spacingAndGlyphs">BD1</text>
<line x1="233.80" y1="302.80" x2="246.20" y2="302.80" stroke="#3f7b45" stroke-width="1.5" />
<circle cx="240.00" cy="302.80" r="2.52" fill="#3f7b45" />
<text x="250.0" y="306.10" font-size="9" fill="#333" font-family='"Liberation Sans", sans-serif' textLength="17.4" lengthAdjust="spacingAndGlyphs">Brd4</text>
<text x="267.6" y="301.60" font-size="6.2" fill="#333" font-family='"Liberation Sans", sans-serif' textLength="10.4" lengthAdjust="spacingAndGlyphs">BD2</text>
<defs><filter id="blur1" x="-20%" y="-50%" width="140%" height="200%"><feGaussianBlur stdDeviation="0.95"/></filter><filter id="blur2" x="-5%" y="-5%" width="110%" height="110%"><feGaussianBlur stdDeviation="0.5"/></filter></defs>
<rect x="47.80" y="406.90" width="119.50" height="19.90" fill="#a3a3a3" />
<rect x="62.55" y="406.90" width="3.20" height="19.90" fill="#acacac" opacity="0.45" filter="url(#blur2)"/>
<rect x="79.80" y="406.90" width="3.20" height="19.90" fill="#acacac" opacity="0.45" filter="url(#blur2)"/>
<rect x="97.05" y="406.90" width="3.20" height="19.90" fill="#acacac" opacity="0.45" filter="url(#blur2)"/>
<rect x="113.80" y="406.90" width="3.20" height="19.90" fill="#acacac" opacity="0.45" filter="url(#blur2)"/>
<rect x="130.70" y="406.90" width="3.20" height="19.90" fill="#acacac" opacity="0.45" filter="url(#blur2)"/>
<rect x="148.10" y="406.90" width="3.20" height="19.90" fill="#acacac" opacity="0.45" filter="url(#blur2)"/>
<g filter="url(#blur1)">
<rect x="48.90" y="414.40" width="13.8" height="3.20" rx="1.5" fill="#4a4a4a"/>
<rect x="65.60" y="412.80" width="13.8" height="3.20" rx="1.5" fill="#4e4e4e"/>
<rect x="83.40" y="414.40" width="13.8" height="3.20" rx="1.5" fill="#5c5c5c"/>
<rect x="100.10" y="415.40" width="13.8" height="3.20" rx="1.5" fill="#6a6a6a"/>
<rect x="116.90" y="415.20" width="13.8" height="3.20" rx="1.5" fill="#767676"/>
<rect x="133.90" y="415.00" width="13.8" height="3.20" rx="1.5" fill="#888888"/>
<rect x="151.70" y="414.80" width="13.8" height="3.20" rx="1.5" fill="#989898"/>
</g>
<rect x="47.80" y="433.10" width="119.50" height="17.50" fill="#dadada" />
<rect x="62.55" y="433.10" width="3.20" height="17.50" fill="#e3e3e3" opacity="0.45" filter="url(#blur2)"/>
<rect x="79.80" y="433.10" width="3.20" height="17.50" fill="#e3e3e3" opacity="0.45" filter="url(#blur2)"/>
<rect x="97.05" y="433.10" width="3.20" height="17.50" fill="#e3e3e3" opacity="0.45" filter="url(#blur2)"/>
<rect x="113.80" y="433.10" width="3.20" height="17.50" fill="#e3e3e3" opacity="0.45" filter="url(#blur2)"/>
<rect x="130.70" y="433.10" width="3.20" height="17.50" fill="#e3e3e3" opacity="0.45" filter="url(#blur2)"/>
<rect x="148.10" y="433.10" width="3.20" height="17.50" fill="#e3e3e3" opacity="0.45" filter="url(#blur2)"/>
<g filter="url(#blur1)">
<rect x="48.90" y="440.50" width="13.8" height="3.60" rx="1.5" fill="#191919"/>
<rect x="65.60" y="439.70" width="13.8" height="3.60" rx="1.5" fill="#2d2d2d"/>
<rect x="83.40" y="439.50" width="13.8" height="3.60" rx="1.5" fill="#464646"/>
<rect x="100.10" y="440.10" width="13.8" height="3.60" rx="1.5" fill="#5f5f5f"/>
<rect x="116.90" y="440.50" width="13.8" height="3.60" rx="1.5" fill="#8c8c8c"/>
<rect x="133.90" y="440.70" width="13.8" height="3.60" rx="1.5" fill="#c8c8c8"/>
<rect x="151.70" y="440.70" width="13.8" height="3.60" rx="1.5" fill="#d6d6d6"/>
</g>
<rect x="47.80" y="455.10" width="119.50" height="21.50" fill="#dedede" />
<rect x="62.55" y="455.10" width="3.20" height="21.50" fill="#e7e7e7" opacity="0.45" filter="url(#blur2)"/>
<rect x="79.80" y="455.10" width="3.20" height="21.50" fill="#e7e7e7" opacity="0.45" filter="url(#blur2)"/>
<rect x="97.05" y="455.10" width="3.20" height="21.50" fill="#e7e7e7" opacity="0.45" filter="url(#blur2)"/>
<rect x="113.80" y="455.10" width="3.20" height="21.50" fill="#e7e7e7" opacity="0.45" filter="url(#blur2)"/>
<rect x="130.70" y="455.10" width="3.20" height="21.50" fill="#e7e7e7" opacity="0.45" filter="url(#blur2)"/>
<rect x="148.10" y="455.10" width="3.20" height="21.50" fill="#e7e7e7" opacity="0.45" filter="url(#blur2)"/>
<g filter="url(#blur1)">
<rect x="48.90" y="464.90" width="13.8" height="3.40" rx="1.5" fill="#464646"/>
<rect x="65.60" y="464.10" width="13.8" height="3.40" rx="1.5" fill="#4e4e4e"/>
<rect x="83.40" y="463.90" width="13.8" height="3.40" rx="1.5" fill="#555555"/>
<rect x="100.10" y="464.20" width="13.8" height="3.40" rx="1.5" fill="#505050"/>
<rect x="116.90" y="464.40" width="13.8" height="3.40" rx="1.5" fill="#464646"/>
<rect x="133.90" y="463.80" width="13.8" height="3.40" rx="1.5" fill="#5a5a5a"/>
<rect x="151.70" y="462.80" width="13.8" height="3.40" rx="1.5" fill="#5f5f5f"/>
</g>
<rect x="47.80" y="484.30" width="119.50" height="19.30" fill="#d8d8d8" />
<rect x="62.55" y="484.30" width="3.20" height="19.30" fill="#e1e1e1" opacity="0.45" filter="url(#blur2)"/>
<rect x="79.80" y="484.30" width="3.20" height="19.30" fill="#e1e1e1" opacity="0.45" filter="url(#blur2)"/>
<rect x="97.05" y="484.30" width="3.20" height="19.30" fill="#e1e1e1" opacity="0.45" filter="url(#blur2)"/>
<rect x="113.80" y="484.30" width="3.20" height="19.30" fill="#e1e1e1" opacity="0.45" filter="url(#blur2)"/>
<rect x="130.70" y="484.30" width="3.20" height="19.30" fill="#e1e1e1" opacity="0.45" filter="url(#blur2)"/>
<rect x="148.10" y="484.30" width="3.20" height="19.30" fill="#e1e1e1" opacity="0.45" filter="url(#blur2)"/>
<g filter="url(#blur1)">
<rect x="48.90" y="492.50" width="13.8" height="3.40" rx="1.5" fill="#4b4b4b"/>
<rect x="65.60" y="491.30" width="13.8" height="3.40" rx="1.5" fill="#464646"/>
<rect x="83.40" y="491.80" width="13.8" height="3.40" rx="1.5" fill="#4e4e4e"/>
<rect x="100.10" y="492.40" width="13.8" height="3.40" rx="1.5" fill="#4e4e4e"/>
<rect x="116.90" y="492.90" width="13.8" height="3.40" rx="1.5" fill="#555555"/>
<rect x="133.90" y="492.70" width="13.8" height="3.40" rx="1.5" fill="#5f5f5f"/>
<rect x="151.70" y="492.40" width="13.8" height="3.40" rx="1.5" fill="#646464"/>
</g>
<rect x="47.80" y="510.00" width="119.50" height="23.30" fill="#d4d4d4" />
<rect x="62.55" y="510.00" width="3.20" height="23.30" fill="#dddddd" opacity="0.45" filter="url(#blur2)"/>
<rect x="79.80" y="510.00" width="3.20" height="23.30" fill="#dddddd" opacity="0.45" filter="url(#blur2)"/>
<rect x="97.05" y="510.00" width="3.20" height="23.30" fill="#dddddd" opacity="0.45" filter="url(#blur2)"/>
<rect x="113.80" y="510.00" width="3.20" height="23.30" fill="#dddddd" opacity="0.45" filter="url(#blur2)"/>
<rect x="130.70" y="510.00" width="3.20" height="23.30" fill="#dddddd" opacity="0.45" filter="url(#blur2)"/>
<rect x="148.10" y="510.00" width="3.20" height="23.30" fill="#dddddd" opacity="0.45" filter="url(#blur2)"/>
<g filter="url(#blur1)">
<rect x="48.90" y="519.60" width="13.8" height="3.80" rx="1.5" fill="#262626"/>
<rect x="65.60" y="519.30" width="13.8" height="3.80" rx="1.5" fill="#232323"/>
<rect x="83.40" y="519.60" width="13.8" height="3.80" rx="1.5" fill="#262626"/>
<rect x="100.10" y="519.80" width="13.8" height="3.80" rx="1.5" fill="#282828"/>
<rect x="116.90" y="520.30" width="13.8" height="3.80" rx="1.5" fill="#2d2d2d"/>
<rect x="133.90" y="520.30" width="13.8" height="3.80" rx="1.5" fill="#323232"/>
<rect x="151.70" y="521.20" width="13.8" height="3.80" rx="1.5" fill="#373737"/>
</g>
<g filter="url(#blur1)" opacity="0.35">
<rect x="49.80" y="469.6" width="12" height="2" fill="#999"/>
<rect x="66.50" y="469.6" width="12" height="2" fill="#999"/>
<rect x="84.30" y="469.6" width="12" height="2" fill="#999"/>
<rect x="101.00" y="469.6" width="12" height="2" fill="#999"/>
<rect x="117.80" y="469.6" width="12" height="2" fill="#999"/>
</g>
<text x="45.60" y="418.30" font-size="8.6" text-anchor="end" font-weight="normal" fill="#2a2a2a" font-family='"Liberation Sans", sans-serif' >Brd4 long</text>
<text x="45.60" y="445.30" font-size="8.6" text-anchor="end" font-weight="normal" fill="#2a2a2a" font-family='"Liberation Sans", sans-serif' >Brd4 short</text>
<text x="45.60" y="471.30" font-size="8.6" text-anchor="end" font-weight="normal" fill="#2a2a2a" font-family='"Liberation Sans", sans-serif' >Brd3</text>
<text x="45.60" y="497.60" font-size="8.6" text-anchor="end" font-weight="normal" fill="#2a2a2a" font-family='"Liberation Sans", sans-serif' >Brd2</text>
<text x="45.60" y="524.60" font-size="8.6" text-anchor="end" font-weight="normal" fill="#2a2a2a" font-family='"Liberation Sans", sans-serif' >β-actin</text>
<text transform="translate(51.90,536.2) rotate(90)" font-size="8.3" fill="#2a2a2a" font-family='"Liberation Sans", sans-serif'>DMSO</text>
<text transform="translate(69.00,536.2) rotate(90)" font-size="8.3" fill="#2a2a2a" font-family='"Liberation Sans", sans-serif'>10 nM</text>
<text transform="translate(87.40,536.2) rotate(90)" font-size="8.3" fill="#2a2a2a" font-family='"Liberation Sans", sans-serif'>30 nM</text>
<text transform="translate(104.10,536.2) rotate(90)" font-size="8.3" fill="#2a2a2a" font-family='"Liberation Sans", sans-serif'>100 nM</text>
<text transform="translate(121.80,536.2) rotate(90)" font-size="8.3" fill="#2a2a2a" font-family='"Liberation Sans", sans-serif'>300 nM</text>
<text transform="translate(139.60,536.2) rotate(90)" font-size="8.3" fill="#2a2a2a" font-family='"Liberation Sans", sans-serif'>1 µM</text>
<text transform="translate(157.30,536.2) rotate(90)" font-size="8.3" fill="#2a2a2a" font-family='"Liberation Sans", sans-serif'>3 µM</text>
<rect x="222.7" y="405.5" width="208.40000000000003" height="152.60000000000002" fill="none" stroke="#333" stroke-width="1.1"/>
<line x1="219.50" y1="558.10" x2="222.70" y2="558.10" stroke="#333" stroke-width="1.3" />
<text x="217.30" y="560.90" font-size="8.2" text-anchor="end" font-weight="normal" fill="#333" font-family='"Liberation Sans", sans-serif' >0</text>
<line x1="219.50" y1="540.16" x2="222.70" y2="540.16" stroke="#333" stroke-width="1.3" />
<text x="217.30" y="542.96" font-size="8.2" text-anchor="end" font-weight="normal" fill="#333" font-family='"Liberation Sans", sans-serif' >0.2</text>
<line x1="219.50" y1="522.22" x2="222.70" y2="522.22" stroke="#333" stroke-width="1.3" />
<text x="217.30" y="525.02" font-size="8.2" text-anchor="end" font-weight="normal" fill="#333" font-family='"Liberation Sans", sans-serif' >0.4</text>
<line x1="219.50" y1="504.28" x2="222.70" y2="504.28" stroke="#333" stroke-width="1.3" />
<text x="217.30" y="507.08" font-size="8.2" text-anchor="end" font-weight="normal" fill="#333" font-family='"Liberation Sans", sans-serif' >0.6</text>
<line x1="219.50" y1="486.34" x2="222.70" y2="486.34" stroke="#333" stroke-width="1.3" />
<text x="217.30" y="489.14" font-size="8.2" text-anchor="end" font-weight="normal" fill="#333" font-family='"Liberation Sans", sans-serif' >0.8</text>
<line x1="219.50" y1="468.40" x2="222.70" y2="468.40" stroke="#333" stroke-width="1.3" />
<text x="217.30" y="471.20" font-size="8.2" text-anchor="end" font-weight="normal" fill="#333" font-family='"Liberation Sans", sans-serif' >1.0</text>
<line x1="219.50" y1="450.46" x2="222.70" y2="450.46" stroke="#333" stroke-width="1.3" />
<text x="217.30" y="453.26" font-size="8.2" text-anchor="end" font-weight="normal" fill="#333" font-family='"Liberation Sans", sans-serif' >1.2</text>
<line x1="219.50" y1="432.52" x2="222.70" y2="432.52" stroke="#333" stroke-width="1.3" />
<text x="217.30" y="435.32" font-size="8.2" text-anchor="end" font-weight="normal" fill="#333" font-family='"Liberation Sans", sans-serif' >1.4</text>
<line x1="219.50" y1="414.58" x2="222.70" y2="414.58" stroke="#333" stroke-width="1.3" />
<text x="217.30" y="417.38" font-size="8.2" text-anchor="end" font-weight="normal" fill="#333" font-family='"Liberation Sans", sans-serif' >1.6</text>
<line x1="222.70" y1="558.10" x2="222.70" y2="561.10" stroke="#333" stroke-width="1.2" />
<text x="222.70" y="572.40" font-size="8.2" text-anchor="middle" font-weight="normal" fill="#333" font-family='"Liberation Sans", sans-serif' >10</text>
<line x1="306.80" y1="558.10" x2="306.80" y2="561.10" stroke="#333" stroke-width="1.2" />
<text x="306.80" y="572.40" font-size="8.2" text-anchor="middle" font-weight="normal" fill="#333" font-family='"Liberation Sans", sans-serif' >100</text>
<line x1="390.90" y1="558.10" x2="390.90" y2="561.10" stroke="#333" stroke-width="1.2" />
<text x="390.90" y="572.40" font-size="8.2" text-anchor="middle" font-weight="normal" fill="#333" font-family='"Liberation Sans", sans-serif' >1,000</text>
<text x="325.40" y="585.60" font-size="8.2" text-anchor="middle" font-weight="normal" fill="#333" font-family='"Liberation Sans", sans-serif' >[AT1] (nM)</text>
<text transform="translate(198.4,485.3) rotate(-90)" font-size="8.2" text-anchor="middle" fill="#333" font-family='"Liberation Sans", sans-serif'>Relative intensity</text>
<polyline points="222.70,481.86 262.83,490.83 306.80,476.47 346.93,488.13 390.90,485.44 431.03,498.90" stroke="#f2c02f" stroke-width="2.4" fill="none" stroke-linejoin="round"/>
<circle cx="222.70" cy="481.86" r="3.30" fill="#f2c02f" />
<circle cx="262.83" cy="490.83" r="3.30" fill="#f2c02f" />
<circle cx="306.80" cy="476.47" r="3.30" fill="#f2c02f" />
<circle cx="346.93" cy="488.13" r="3.30" fill="#f2c02f" />
<circle cx="390.90" cy="485.44" r="3.30" fill="#f2c02f" />
<circle cx="431.03" cy="498.90" r="3.30" fill="#f2c02f" />
<polyline points="222.70,464.81 262.83,471.99 306.80,459.43 346.93,438.35 390.90,459.43 431.03,473.78" stroke="#2e3192" stroke-width="2.4" fill="none" stroke-linejoin="round"/>
<circle cx="222.70" cy="464.81" r="3.30" fill="#2e3192" />
<circle cx="262.83" cy="471.99" r="3.30" fill="#2e3192" />
<circle cx="306.80" cy="459.43" r="3.30" fill="#2e3192" />
<circle cx="346.93" cy="438.35" r="3.30" fill="#2e3192" />
<circle cx="390.90" cy="459.43" r="3.30" fill="#2e3192" />
<circle cx="431.03" cy="473.78" r="3.30" fill="#2e3192" />
<polyline points="222.70,503.38 262.83,508.76 306.80,511.46 346.93,531.19 390.90,541.95 431.03,550.03" stroke="#3d7d3f" stroke-width="2.4" fill="none" stroke-linejoin="round"/>
<circle cx="222.70" cy="503.38" r="3.30" fill="#3d7d3f" />
<circle cx="262.83" cy="508.76" r="3.30" fill="#3d7d3f" />
<circle cx="306.80" cy="511.46" r="3.30" fill="#3d7d3f" />
<circle cx="346.93" cy="531.19" r="3.30" fill="#3d7d3f" />
<circle cx="390.90" cy="541.95" r="3.30" fill="#3d7d3f" />
<circle cx="431.03" cy="550.03" r="3.30" fill="#3d7d3f" />
<polyline points="222.70,492.62 262.83,509.66 306.80,517.74 346.93,540.16 390.90,552.72 431.03,554.51" stroke="#8dc24f" stroke-width="2.4" fill="none" stroke-linejoin="round"/>
<circle cx="222.70" cy="492.62" r="3.30" fill="#8dc24f" />
<circle cx="262.83" cy="509.66" r="3.30" fill="#8dc24f" />
<circle cx="306.80" cy="517.74" r="3.30" fill="#8dc24f" />
<circle cx="346.93" cy="540.16" r="3.30" fill="#8dc24f" />
<circle cx="390.90" cy="552.72" r="3.30" fill="#8dc24f" />
<circle cx="431.03" cy="554.51" r="3.30" fill="#8dc24f" />
<line x1="228.10" y1="414.60" x2="249.20" y2="414.60" stroke="#8dc24f" stroke-width="2.4" />
<circle cx="238.70" cy="414.60" r="3.30" fill="#8dc24f" />
<text x="253.30" y="417.50" font-size="8.2" text-anchor="start" font-weight="normal" fill="#333" font-family='"Liberation Sans", sans-serif' >Brd4 short</text>
<line x1="228.10" y1="427.30" x2="249.20" y2="427.30" stroke="#3d7d3f" stroke-width="2.4" />
<circle cx="238.70" cy="427.30" r="3.30" fill="#3d7d3f" />
<text x="253.30" y="430.20" font-size="8.2" text-anchor="start" font-weight="normal" fill="#333" font-family='"Liberation Sans", sans-serif' >Brd4 long</text>
<line x1="228.10" y1="439.90" x2="249.20" y2="439.90" stroke="#2e3192" stroke-width="2.4" />
<circle cx="238.70" cy="439.90" r="3.30" fill="#2e3192" />
<text x="253.30" y="442.80" font-size="8.2" text-anchor="start" font-weight="normal" fill="#333" font-family='"Liberation Sans", sans-serif' >Brd3</text>
<line x1="228.10" y1="452.60" x2="249.20" y2="452.60" stroke="#f2c02f" stroke-width="2.4" />
<circle cx="238.70" cy="452.60" r="3.30" fill="#f2c02f" />
<text x="253.30" y="455.50" font-size="8.2" text-anchor="start" font-weight="normal" fill="#333" font-family='"Liberation Sans", sans-serif' >Brd2</text>
<line x1="608.90" y1="214.40" x2="608.90" y2="359.60" stroke="#2e2e2e" stroke-width="1.1" />
<line x1="535.60" y1="287.00" x2="682.40" y2="287.00" stroke="#2e2e2e" stroke-width="1.1" />
<line x1="535.60" y1="359.60" x2="682.40" y2="214.40" stroke="#c86a6a" stroke-width="0.9" />
<g fill="#c9c9c9" stroke="#6f6f6f" stroke-width="0.5">
<circle cx="596.02" cy="288.59" r="1.25"/>
<circle cx="612.72" cy="287.08" r="1.25"/>
<circle cx="595.23" cy="291.89" r="1.25"/>
<circle cx="608.83" cy="278.10" r="1.25"/>
<circle cx="596.08" cy="299.66" r="1.25"/>
<circle cx="610.54" cy="281.49" r="1.25"/>
<circle cx="616.77" cy="275.33" r="1.25"/>
<circle cx="604.46" cy="289.16" r="1.25"/>
<circle cx="624.57" cy="280.31" r="1.25"/>
<circle cx="599.32" cy="297.19" r="1.25"/>
<circle cx="605.95" cy="285.71" r="1.25"/>
<circle cx="602.64" cy="288.57" r="1.25"/>
<circle cx="607.28" cy="281.48" r="1.25"/>
<circle cx="613.48" cy="281.93" r="1.25"/>
<circle cx="591.76" cy="288.33" r="1.25"/>
<circle cx="594.55" cy="292.89" r="1.25"/>
<circle cx="594.14" cy="291.92" r="1.25"/>
<circle cx="599.37" cy="288.19" r="1.25"/>
<circle cx="611.57" cy="292.97" r="1.25"/>
<circle cx="603.06" cy="283.56" r="1.25"/>
<circle cx="604.53" cy="284.85" r="1.25"/>
<circle cx="606.01" cy="293.34" r="1.25"/>
<circle cx="609.47" cy="290.51" r="1.25"/>
<circle cx="619.31" cy="284.09" r="1.25"/>
<circle cx="610.39" cy="284.69" r="1.25"/>
<circle cx="612.40" cy="287.81" r="1.25"/>
<circle cx="612.74" cy="284.48" r="1.25"/>
<circle cx="614.73" cy="278.62" r="1.25"/>
<circle cx="606.29" cy="291.71" r="1.25"/>
<circle cx="611.01" cy="281.32" r="1.25"/>
<circle cx="617.58" cy="284.01" r="1.25"/>
<circle cx="609.40" cy="281.77" r="1.25"/>
<circle cx="607.36" cy="284.67" r="1.25"/>
<circle cx="606.60" cy="290.37" r="1.25"/>
<circle cx="597.60" cy="293.03" r="1.25"/>
<circle cx="609.68" cy="274.98" r="1.25"/>
<circle cx="612.58" cy="276.73" r="1.25"/>
<circle cx="611.08" cy="279.76" r="1.25"/>
<circle cx="606.61" cy="281.26" r="1.25"/>
<circle cx="618.57" cy="283.24" r="1.25"/>
<circle cx="600.01" cy="276.30" r="1.25"/>
<circle cx="607.07" cy="279.73" r="1.25"/>
<circle cx="611.80" cy="291.62" r="1.25"/>
<circle cx="606.56" cy="281.41" r="1.25"/>
<circle cx="606.18" cy="292.45" r="1.25"/>
<circle cx="604.39" cy="284.89" r="1.25"/>
<circle cx="613.62" cy="278.55" r="1.25"/>
<circle cx="605.68" cy="277.80" r="1.25"/>
<circle cx="599.51" cy="284.28" r="1.25"/>
<circle cx="613.60" cy="285.22" r="1.25"/>
<circle cx="591.76" cy="299.02" r="1.25"/>
<circle cx="607.01" cy="282.70" r="1.25"/>
<circle cx="616.88" cy="288.49" r="1.25"/>
<circle cx="605.25" cy="282.68" r="1.25"/>
<circle cx="604.04" cy="303.28" r="1.25"/>
<circle cx="611.30" cy="268.93" r="1.25"/>
<circle cx="612.79" cy="289.73" r="1.25"/>
<circle cx="602.13" cy="286.91" r="1.25"/>
<circle cx="623.96" cy="274.56" r="1.25"/>
<circle cx="606.09" cy="276.27" r="1.25"/>
<circle cx="604.62" cy="274.90" r="1.25"/>
<circle cx="600.08" cy="292.45" r="1.25"/>
<circle cx="610.65" cy="275.12" r="1.25"/>
<circle cx="610.15" cy="282.81" r="1.25"/>
<circle cx="591.52" cy="297.84" r="1.25"/>
<circle cx="600.64" cy="292.59" r="1.25"/>
<circle cx="609.64" cy="287.26" r="1.25"/>
<circle cx="611.16" cy="283.82" r="1.25"/>
<circle cx="602.73" cy="287.33" r="1.25"/>
<circle cx="608.46" cy="279.86" r="1.25"/>
<circle cx="601.64" cy="290.15" r="1.25"/>
<circle cx="594.97" cy="280.91" r="1.25"/>
<circle cx="616.15" cy="283.33" r="1.25"/>
<circle cx="601.63" cy="296.81" r="1.25"/>
<circle cx="606.51" cy="285.06" r="1.25"/>
<circle cx="621.64" cy="278.06" r="1.25"/>
<circle cx="599.38" cy="305.85" r="1.25"/>
<circle cx="615.83" cy="281.02" r="1.25"/>
<circle cx="593.12" cy="291.19" r="1.25"/>
<circle cx="613.65" cy="279.45" r="1.25"/>
<circle cx="603.91" cy="301.81" r="1.25"/>
<circle cx="604.28" cy="297.75" r="1.25"/>
<circle cx="609.72" cy="299.22" r="1.25"/>
<circle cx="598.40" cy="281.94" r="1.25"/>
<circle cx="617.60" cy="289.34" r="1.25"/>
<circle cx="593.69" cy="286.29" r="1.25"/>
<circle cx="611.65" cy="290.70" r="1.25"/>
<circle cx="600.01" cy="293.94" r="1.25"/>
<circle cx="596.28" cy="295.50" r="1.25"/>
<circle cx="614.64" cy="278.23" r="1.25"/>
<circle cx="620.70" cy="280.69" r="1.25"/>
<circle cx="604.21" cy="293.98" r="1.25"/>
<circle cx="604.30" cy="296.14" r="1.25"/>
<circle cx="591.86" cy="288.32" r="1.25"/>
<circle cx="616.06" cy="276.62" r="1.25"/>
<circle cx="615.25" cy="280.86" r="1.25"/>
<circle cx="599.83" cy="288.83" r="1.25"/>
<circle cx="602.42" cy="295.64" r="1.25"/>
<circle cx="592.50" cy="302.52" r="1.25"/>
<circle cx="605.19" cy="286.02" r="1.25"/>
<circle cx="601.66" cy="279.09" r="1.25"/>
<circle cx="606.58" cy="282.53" r="1.25"/>
<circle cx="614.40" cy="288.37" r="1.25"/>
<circle cx="590.41" cy="288.60" r="1.25"/>
<circle cx="600.05" cy="280.59" r="1.25"/>
<circle cx="607.77" cy="279.18" r="1.25"/>
<circle cx="610.98" cy="298.27" r="1.25"/>
<circle cx="610.64" cy="289.06" r="1.25"/>
<circle cx="599.54" cy="292.42" r="1.25"/>
<circle cx="611.01" cy="278.55" r="1.25"/>
<circle cx="612.84" cy="294.64" r="1.25"/>
<circle cx="600.79" cy="304.76" r="1.25"/>
<circle cx="604.46" cy="283.35" r="1.25"/>
<circle cx="599.48" cy="287.93" r="1.25"/>
<circle cx="606.97" cy="279.53" r="1.25"/>
<circle cx="599.05" cy="295.26" r="1.25"/>
<circle cx="599.49" cy="277.91" r="1.25"/>
<circle cx="613.44" cy="284.17" r="1.25"/>
<circle cx="606.93" cy="285.48" r="1.25"/>
<circle cx="606.76" cy="287.71" r="1.25"/>
<circle cx="602.72" cy="296.47" r="1.25"/>
<circle cx="600.40" cy="278.18" r="1.25"/>
<circle cx="609.27" cy="284.77" r="1.25"/>
<circle cx="603.61" cy="287.30" r="1.25"/>
<circle cx="607.89" cy="290.11" r="1.25"/>
<circle cx="606.71" cy="284.75" r="1.25"/>
<circle cx="599.60" cy="294.75" r="1.25"/>
<circle cx="597.71" cy="297.41" r="1.25"/>
<circle cx="611.93" cy="299.70" r="1.25"/>
<circle cx="603.22" cy="291.95" r="1.25"/>
<circle cx="600.57" cy="288.43" r="1.25"/>
<circle cx="613.72" cy="282.72" r="1.25"/>
<circle cx="604.17" cy="291.54" r="1.25"/>
<circle cx="604.26" cy="281.37" r="1.25"/>
<circle cx="602.27" cy="295.94" r="1.25"/>
<circle cx="595.72" cy="298.59" r="1.25"/>
<circle cx="594.77" cy="284.35" r="1.25"/>
<circle cx="607.90" cy="287.39" r="1.25"/>
<circle cx="616.21" cy="286.48" r="1.25"/>
<circle cx="610.90" cy="279.16" r="1.25"/>
<circle cx="593.60" cy="302.52" r="1.25"/>
<circle cx="598.25" cy="284.08" r="1.25"/>
<circle cx="614.98" cy="290.82" r="1.25"/>
<circle cx="613.12" cy="286.03" r="1.25"/>
<circle cx="602.27" cy="291.98" r="1.25"/>
<circle cx="602.79" cy="300.17" r="1.25"/>
<circle cx="597.70" cy="298.56" r="1.25"/>
<circle cx="608.92" cy="271.47" r="1.25"/>
<circle cx="592.28" cy="295.47" r="1.25"/>
<circle cx="598.16" cy="276.97" r="1.25"/>
<circle cx="609.53" cy="289.93" r="1.25"/>
<circle cx="612.27" cy="280.31" r="1.25"/>
<circle cx="593.00" cy="295.97" r="1.25"/>
<circle cx="603.43" cy="287.68" r="1.25"/>
<circle cx="606.22" cy="288.81" r="1.25"/>
<circle cx="606.66" cy="290.26" r="1.25"/>
<circle cx="598.49" cy="279.93" r="1.25"/>
<circle cx="607.94" cy="282.88" r="1.25"/>
<circle cx="593.23" cy="293.45" r="1.25"/>
<circle cx="611.39" cy="292.84" r="1.25"/>
<circle cx="613.49" cy="285.91" r="1.25"/>
<circle cx="608.26" cy="286.54" r="1.25"/>
<circle cx="606.87" cy="278.27" r="1.25"/>
<circle cx="602.19" cy="277.95" r="1.25"/>
<circle cx="599.35" cy="295.81" r="1.25"/>
<circle cx="610.58" cy="291.70" r="1.25"/>
<circle cx="602.44" cy="282.21" r="1.25"/>
<circle cx="614.34" cy="294.74" r="1.25"/>
<circle cx="609.04" cy="272.79" r="1.25"/>
<circle cx="614.22" cy="284.59" r="1.25"/>
<circle cx="600.71" cy="290.98" r="1.25"/>
<circle cx="596.56" cy="292.62" r="1.25"/>
<circle cx="603.82" cy="288.60" r="1.25"/>
<circle cx="614.13" cy="284.57" r="1.25"/>
<circle cx="594.26" cy="284.90" r="1.25"/>
<circle cx="597.16" cy="293.56" r="1.25"/>
<circle cx="604.22" cy="289.74" r="1.25"/>
<circle cx="597.68" cy="292.01" r="1.25"/>
<circle cx="621.66" cy="283.72" r="1.25"/>
<circle cx="604.20" cy="279.99" r="1.25"/>
<circle cx="610.83" cy="279.43" r="1.25"/>
<circle cx="611.72" cy="297.19" r="1.25"/>
<circle cx="598.73" cy="289.04" r="1.25"/>
<circle cx="608.98" cy="276.73" r="1.25"/>
<circle cx="608.76" cy="287.01" r="1.25"/>
<circle cx="605.53" cy="288.27" r="1.25"/>
<circle cx="607.09" cy="281.69" r="1.25"/>
<circle cx="602.67" cy="293.54" r="1.25"/>
<circle cx="598.80" cy="282.57" r="1.25"/>
<circle cx="614.87" cy="276.12" r="1.25"/>
<circle cx="611.68" cy="278.59" r="1.25"/>
<circle cx="605.21" cy="282.60" r="1.25"/>
<circle cx="597.31" cy="291.87" r="1.25"/>
<circle cx="599.71" cy="284.63" r="1.25"/>
<circle cx="600.87" cy="289.66" r="1.25"/>
<circle cx="608.24" cy="276.66" r="1.25"/>
<circle cx="599.27" cy="295.89" r="1.25"/>
<circle cx="611.38" cy="291.62" r="1.25"/>
<circle cx="608.63" cy="289.27" r="1.25"/>
<circle cx="604.43" cy="299.45" r="1.25"/>
<circle cx="610.60" cy="287.94" r="1.25"/>
<circle cx="598.47" cy="276.21" r="1.25"/>
<circle cx="608.30" cy="287.95" r="1.25"/>
<circle cx="606.04" cy="275.96" r="1.25"/>
<circle cx="605.03" cy="284.09" r="1.25"/>
<circle cx="609.12" cy="291.32" r="1.25"/>
<circle cx="606.20" cy="289.91" r="1.25"/>
<circle cx="595.86" cy="285.38" r="1.25"/>
<circle cx="610.24" cy="284.28" r="1.25"/>
<circle cx="598.40" cy="303.37" r="1.25"/>
<circle cx="608.88" cy="286.02" r="1.25"/>
<circle cx="592.56" cy="293.04" r="1.25"/>
<circle cx="593.79" cy="292.27" r="1.25"/>
<circle cx="606.31" cy="284.16" r="1.25"/>
<circle cx="606.86" cy="285.14" r="1.25"/>
<circle cx="596.65" cy="293.37" r="1.25"/>
<circle cx="601.38" cy="290.28" r="1.25"/>
<circle cx="607.26" cy="281.98" r="1.25"/>
<circle cx="608.25" cy="286.98" r="1.25"/>
<circle cx="622.35" cy="273.17" r="1.25"/>
<circle cx="592.79" cy="289.87" r="1.25"/>
<circle cx="601.31" cy="282.14" r="1.25"/>
<circle cx="597.29" cy="291.21" r="1.25"/>
<circle cx="604.24" cy="288.08" r="1.25"/>
<circle cx="600.84" cy="301.17" r="1.25"/>
<circle cx="608.69" cy="278.82" r="1.25"/>
<circle cx="604.72" cy="293.99" r="1.25"/>
<circle cx="606.76" cy="282.56" r="1.25"/>
<circle cx="603.91" cy="287.68" r="1.25"/>
<circle cx="615.83" cy="289.72" r="1.25"/>
<circle cx="601.03" cy="301.53" r="1.25"/>
<circle cx="599.96" cy="294.26" r="1.25"/>
<circle cx="598.01" cy="294.83" r="1.25"/>
<circle cx="618.75" cy="282.29" r="1.25"/>
<circle cx="604.37" cy="272.77" r="1.25"/>
<circle cx="604.77" cy="298.73" r="1.25"/>
<circle cx="608.26" cy="291.88" r="1.25"/>
<circle cx="617.56" cy="289.79" r="1.25"/>
<circle cx="600.86" cy="299.62" r="1.25"/>
<circle cx="605.96" cy="293.42" r="1.25"/>
<circle cx="604.74" cy="289.72" r="1.25"/>
<circle cx="600.62" cy="282.78" r="1.25"/>
<circle cx="612.27" cy="283.45" r="1.25"/>
<circle cx="598.46" cy="297.13" r="1.25"/>
<circle cx="607.26" cy="270.21" r="1.25"/>
<circle cx="601.79" cy="293.74" r="1.25"/>
<circle cx="599.98" cy="296.61" r="1.25"/>
<circle cx="597.92" cy="291.62" r="1.25"/>
<circle cx="616.02" cy="282.21" r="1.25"/>
<circle cx="601.39" cy="299.44" r="1.25"/>
<circle cx="606.83" cy="286.46" r="1.25"/>
<circle cx="596.00" cy="298.33" r="1.25"/>
<circle cx="604.91" cy="280.41" r="1.25"/>
<circle cx="609.94" cy="283.54" r="1.25"/>
<circle cx="602.80" cy="285.95" r="1.25"/>
<circle cx="605.14" cy="272.60" r="1.25"/>
<circle cx="596.71" cy="293.24" r="1.25"/>
<circle cx="614.77" cy="284.52" r="1.25"/>
<circle cx="615.95" cy="282.52" r="1.25"/>
<circle cx="606.32" cy="288.98" r="1.25"/>
<circle cx="594.84" cy="298.07" r="1.25"/>
<circle cx="621.90" cy="275.29" r="1.25"/>
<circle cx="609.79" cy="278.63" r="1.25"/>
<circle cx="609.51" cy="278.30" r="1.25"/>
<circle cx="603.23" cy="289.38" r="1.25"/>
<circle cx="612.63" cy="286.05" r="1.25"/>
<circle cx="595.22" cy="292.96" r="1.25"/>
<circle cx="601.13" cy="284.75" r="1.25"/>
<circle cx="599.81" cy="296.46" r="1.25"/>
<circle cx="602.73" cy="277.79" r="1.25"/>
<circle cx="604.87" cy="286.09" r="1.25"/>
<circle cx="605.30" cy="285.01" r="1.25"/>
<circle cx="612.21" cy="274.62" r="1.25"/>
<circle cx="592.86" cy="283.46" r="1.25"/>
<circle cx="605.21" cy="289.14" r="1.25"/>
<circle cx="623.27" cy="280.09" r="1.25"/>
<circle cx="619.86" cy="274.05" r="1.25"/>
<circle cx="597.48" cy="287.20" r="1.25"/>
<circle cx="610.77" cy="285.37" r="1.25"/>
<circle cx="587.72" cy="297.08" r="1.25"/>
<circle cx="603.79" cy="295.00" r="1.25"/>
<circle cx="618.97" cy="282.51" r="1.25"/>
<circle cx="602.27" cy="290.31" r="1.25"/>
<circle cx="599.33" cy="294.78" r="1.25"/>
<circle cx="605.94" cy="284.60" r="1.25"/>
<circle cx="601.41" cy="289.30" r="1.25"/>
<circle cx="594.77" cy="288.19" r="1.25"/>
<circle cx="599.59" cy="288.08" r="1.25"/>
<circle cx="598.41" cy="293.46" r="1.25"/>
<circle cx="606.85" cy="294.33" r="1.25"/>
<circle cx="623.81" cy="278.97" r="1.25"/>
<circle cx="604.68" cy="292.12" r="1.25"/>
<circle cx="617.23" cy="272.45" r="1.25"/>
<circle cx="607.48" cy="295.09" r="1.25"/>
<circle cx="601.44" cy="284.60" r="1.25"/>
<circle cx="601.38" cy="296.58" r="1.25"/>
<circle cx="596.30" cy="296.10" r="1.25"/>
<circle cx="605.33" cy="291.27" r="1.25"/>
<circle cx="618.57" cy="287.96" r="1.25"/>
<circle cx="607.81" cy="285.27" r="1.25"/>
<circle cx="604.19" cy="280.53" r="1.25"/>
<circle cx="602.73" cy="290.27" r="1.25"/>
<circle cx="602.41" cy="288.92" r="1.25"/>
<circle cx="614.90" cy="277.54" r="1.25"/>
<circle cx="595.14" cy="294.43" r="1.25"/>
<circle cx="599.23" cy="284.25" r="1.25"/>
<circle cx="606.92" cy="280.33" r="1.25"/>
<circle cx="604.76" cy="299.89" r="1.25"/>
<circle cx="608.62" cy="283.98" r="1.25"/>
<circle cx="609.05" cy="293.96" r="1.25"/>
<circle cx="605.84" cy="291.30" r="1.25"/>
<circle cx="600.06" cy="286.95" r="1.25"/>
<circle cx="607.88" cy="291.75" r="1.25"/>
<circle cx="600.90" cy="281.47" r="1.25"/>
<circle cx="604.82" cy="302.15" r="1.25"/>
<circle cx="598.74" cy="287.09" r="1.25"/>
<circle cx="617.81" cy="273.64" r="1.25"/>
<circle cx="607.99" cy="284.46" r="1.25"/>
<circle cx="597.26" cy="293.55" r="1.25"/>
<circle cx="602.72" cy="293.26" r="1.25"/>
<circle cx="605.71" cy="289.40" r="1.25"/>
<circle cx="607.77" cy="276.34" r="1.25"/>
<circle cx="610.81" cy="281.74" r="1.25"/>
<circle cx="603.42" cy="297.91" r="1.25"/>
<circle cx="604.37" cy="283.77" r="1.25"/>
<circle cx="597.64" cy="282.04" r="1.25"/>
<circle cx="602.72" cy="285.65" r="1.25"/>
<circle cx="602.76" cy="296.44" r="1.25"/>
<circle cx="620.79" cy="287.79" r="1.25"/>
<circle cx="612.14" cy="287.62" r="1.25"/>
<circle cx="607.33" cy="291.42" r="1.25"/>
<circle cx="602.10" cy="282.28" r="1.25"/>
<circle cx="619.87" cy="286.11" r="1.25"/>
<circle cx="605.31" cy="280.67" r="1.25"/>
<circle cx="600.48" cy="284.39" r="1.25"/>
<circle cx="599.33" cy="285.61" r="1.25"/>
<circle cx="608.52" cy="277.48" r="1.25"/>
<circle cx="607.97" cy="293.71" r="1.25"/>
<circle cx="610.23" cy="292.10" r="1.25"/>
<circle cx="610.88" cy="274.45" r="1.25"/>
<circle cx="609.71" cy="288.68" r="1.25"/>
<circle cx="614.20" cy="281.89" r="1.25"/>
<circle cx="595.86" cy="293.53" r="1.25"/>
<circle cx="615.91" cy="284.27" r="1.25"/>
<circle cx="606.15" cy="288.87" r="1.25"/>
<circle cx="592.55" cy="296.04" r="1.25"/>
<circle cx="607.91" cy="284.42" r="1.25"/>
<circle cx="603.92" cy="301.77" r="1.25"/>
<circle cx="614.42" cy="278.13" r="1.25"/>
<circle cx="612.93" cy="274.93" r="1.25"/>
<circle cx="601.88" cy="292.51" r="1.25"/>
<circle cx="607.59" cy="274.83" r="1.25"/>
<circle cx="592.55" cy="294.17" r="1.25"/>
<circle cx="599.85" cy="285.68" r="1.25"/>
<circle cx="616.25" cy="284.06" r="1.25"/>
<circle cx="595.90" cy="290.83" r="1.25"/>
<circle cx="603.09" cy="298.21" r="1.25"/>
<circle cx="611.89" cy="287.52" r="1.25"/>
<circle cx="610.37" cy="293.46" r="1.25"/>
<circle cx="613.48" cy="292.91" r="1.25"/>
<circle cx="613.15" cy="295.51" r="1.25"/>
<circle cx="615.61" cy="284.87" r="1.25"/>
<circle cx="593.52" cy="293.77" r="1.25"/>
<circle cx="607.77" cy="292.45" r="1.25"/>
<circle cx="601.52" cy="286.86" r="1.25"/>
<circle cx="602.00" cy="285.60" r="1.25"/>
<circle cx="607.47" cy="279.30" r="1.25"/>
<circle cx="600.04" cy="272.34" r="1.25"/>
<circle cx="611.25" cy="282.25" r="1.25"/>
<circle cx="613.39" cy="277.02" r="1.25"/>
<circle cx="606.00" cy="290.78" r="1.25"/>
<circle cx="612.93" cy="280.76" r="1.25"/>
<circle cx="590.99" cy="300.67" r="1.25"/>
<circle cx="608.75" cy="284.71" r="1.25"/>
<circle cx="607.34" cy="281.80" r="1.25"/>
<circle cx="606.32" cy="275.99" r="1.25"/>
<circle cx="600.79" cy="291.63" r="1.25"/>
<circle cx="607.66" cy="280.96" r="1.25"/>
<circle cx="611.16" cy="274.48" r="1.25"/>
<circle cx="601.64" cy="280.84" r="1.25"/>
<circle cx="608.75" cy="292.36" r="1.25"/>
<circle cx="604.20" cy="273.60" r="1.25"/>
<circle cx="611.14" cy="287.49" r="1.25"/>
<circle cx="587.18" cy="299.92" r="1.25"/>
<circle cx="599.94" cy="288.84" r="1.25"/>
<circle cx="622.61" cy="274.31" r="1.25"/>
<circle cx="607.59" cy="292.17" r="1.25"/>
<circle cx="596.30" cy="292.35" r="1.25"/>
<circle cx="602.19" cy="292.45" r="1.25"/>
<circle cx="613.72" cy="282.71" r="1.25"/>
<circle cx="595.94" cy="282.57" r="1.25"/>
<circle cx="602.88" cy="296.88" r="1.25"/>
<circle cx="607.65" cy="282.68" r="1.25"/>
<circle cx="602.69" cy="283.50" r="1.25"/>
<circle cx="611.40" cy="290.11" r="1.25"/>
<circle cx="604.27" cy="279.25" r="1.25"/>
<circle cx="612.77" cy="274.39" r="1.25"/>
<circle cx="619.19" cy="280.68" r="1.25"/>
<circle cx="613.17" cy="293.63" r="1.25"/>
<circle cx="610.42" cy="282.08" r="1.25"/>
<circle cx="604.52" cy="290.25" r="1.25"/>
<circle cx="596.84" cy="289.80" r="1.25"/>
<circle cx="614.84" cy="285.16" r="1.25"/>
<circle cx="609.23" cy="289.64" r="1.25"/>
<circle cx="607.14" cy="292.84" r="1.25"/>
<circle cx="608.08" cy="287.18" r="1.25"/>
<circle cx="607.60" cy="289.97" r="1.25"/>
<circle cx="596.38" cy="293.12" r="1.25"/>
<circle cx="613.03" cy="273.04" r="1.25"/>
<circle cx="602.79" cy="282.78" r="1.25"/>
<circle cx="610.94" cy="281.85" r="1.25"/>
<circle cx="593.56" cy="290.04" r="1.25"/>
<circle cx="597.94" cy="282.43" r="1.25"/>
<circle cx="611.16" cy="280.26" r="1.25"/>
<circle cx="586.15" cy="291.36" r="1.25"/>
<circle cx="610.49" cy="293.15" r="1.25"/>
<circle cx="612.53" cy="283.25" r="1.25"/>
<circle cx="603.85" cy="292.35" r="1.25"/>
<circle cx="597.57" cy="293.29" r="1.25"/>
<circle cx="606.80" cy="290.61" r="1.25"/>
<circle cx="600.58" cy="292.74" r="1.25"/>
<circle cx="598.56" cy="284.15" r="1.25"/>
<circle cx="603.19" cy="282.15" r="1.25"/>
<circle cx="596.54" cy="284.69" r="1.25"/>
<circle cx="605.03" cy="282.66" r="1.25"/>
<circle cx="604.45" cy="293.25" r="1.25"/>
<circle cx="614.34" cy="285.84" r="1.25"/>
<circle cx="604.12" cy="293.38" r="1.25"/>
<circle cx="606.77" cy="288.91" r="1.25"/>
<circle cx="607.35" cy="283.77" r="1.25"/>
<circle cx="600.05" cy="298.68" r="1.25"/>
<circle cx="608.49" cy="279.45" r="1.25"/>
<circle cx="610.47" cy="292.28" r="1.25"/>
<circle cx="609.78" cy="282.42" r="1.25"/>
<circle cx="607.36" cy="283.20" r="1.25"/>
<circle cx="602.79" cy="286.66" r="1.25"/>
<circle cx="612.20" cy="287.25" r="1.25"/>
<circle cx="594.40" cy="292.52" r="1.25"/>
<circle cx="606.71" cy="298.60" r="1.25"/>
<circle cx="600.14" cy="285.35" r="1.25"/>
<circle cx="604.10" cy="286.89" r="1.25"/>
<circle cx="595.76" cy="285.19" r="1.25"/>
<circle cx="618.43" cy="282.45" r="1.25"/>
<circle cx="599.72" cy="297.14" r="1.25"/>
<circle cx="611.93" cy="283.33" r="1.25"/>
<circle cx="599.25" cy="281.59" r="1.25"/>
<circle cx="610.98" cy="280.43" r="1.25"/>
<circle cx="591.99" cy="293.58" r="1.25"/>
<circle cx="609.94" cy="293.04" r="1.25"/>
<circle cx="612.22" cy="274.38" r="1.25"/>
<circle cx="613.01" cy="288.33" r="1.25"/>
<circle cx="599.91" cy="283.11" r="1.25"/>
<circle cx="612.71" cy="275.50" r="1.25"/>
<circle cx="614.26" cy="283.64" r="1.25"/>
<circle cx="602.15" cy="300.70" r="1.25"/>
<circle cx="611.13" cy="269.25" r="1.25"/>
<circle cx="601.74" cy="291.71" r="1.25"/>
<circle cx="610.11" cy="282.34" r="1.25"/>
<circle cx="594.92" cy="296.34" r="1.25"/>
<circle cx="596.97" cy="277.24" r="1.25"/>
<circle cx="599.83" cy="283.73" r="1.25"/>
<circle cx="615.96" cy="271.40" r="1.25"/>
<circle cx="595.94" cy="293.43" r="1.25"/>
<circle cx="599.75" cy="291.37" r="1.25"/>
<circle cx="609.43" cy="293.35" r="1.25"/>
<circle cx="615.30" cy="273.88" r="1.25"/>
<circle cx="601.38" cy="274.96" r="1.25"/>
<circle cx="605.79" cy="278.09" r="1.25"/>
<circle cx="607.57" cy="289.68" r="1.25"/>
<circle cx="602.37" cy="289.06" r="1.25"/>
<circle cx="609.88" cy="284.10" r="1.25"/>
<circle cx="622.99" cy="280.38" r="1.25"/>
<circle cx="601.72" cy="293.34" r="1.25"/>
<circle cx="599.38" cy="299.17" r="1.25"/>
<circle cx="597.82" cy="284.28" r="1.25"/>
<circle cx="605.68" cy="287.94" r="1.25"/>
<circle cx="607.87" cy="278.73" r="1.25"/>
<circle cx="609.86" cy="279.80" r="1.25"/>
<circle cx="601.02" cy="290.61" r="1.25"/>
<circle cx="599.39" cy="290.24" r="1.25"/>
<circle cx="599.08" cy="292.21" r="1.25"/>
<circle cx="603.91" cy="289.02" r="1.25"/>
<circle cx="603.23" cy="291.16" r="1.25"/>
<circle cx="615.09" cy="284.89" r="1.25"/>
<circle cx="597.62" cy="289.10" r="1.25"/>
<circle cx="597.03" cy="297.78" r="1.25"/>
<circle cx="605.86" cy="297.80" r="1.25"/>
<circle cx="613.01" cy="294.64" r="1.25"/>
<circle cx="598.48" cy="286.17" r="1.25"/>
<circle cx="590.28" cy="299.46" r="1.25"/>
<circle cx="596.17" cy="292.35" r="1.25"/>
<circle cx="590.39" cy="287.66" r="1.25"/>
<circle cx="604.15" cy="285.47" r="1.25"/>
<circle cx="602.76" cy="302.20" r="1.25"/>
<circle cx="604.08" cy="296.42" r="1.25"/>
<circle cx="605.31" cy="292.63" r="1.25"/>
<circle cx="602.85" cy="289.46" r="1.25"/>
<circle cx="611.04" cy="279.32" r="1.25"/>
<circle cx="597.67" cy="290.48" r="1.25"/>
<circle cx="616.21" cy="278.83" r="1.25"/>
<circle cx="599.74" cy="290.25" r="1.25"/>
<circle cx="602.61" cy="281.91" r="1.25"/>
<circle cx="605.48" cy="284.40" r="1.25"/>
<circle cx="621.87" cy="288.75" r="1.25"/>
<circle cx="597.60" cy="301.90" r="1.25"/>
<circle cx="593.25" cy="286.64" r="1.25"/>
<circle cx="607.43" cy="275.18" r="1.25"/>
<circle cx="590.38" cy="299.47" r="1.25"/>
<circle cx="616.09" cy="275.33" r="1.25"/>
<circle cx="611.89" cy="278.24" r="1.25"/>
<circle cx="605.47" cy="286.96" r="1.25"/>
<circle cx="605.47" cy="281.29" r="1.25"/>
<circle cx="604.01" cy="285.41" r="1.25"/>
<circle cx="616.17" cy="289.61" r="1.25"/>
<circle cx="599.59" cy="285.76" r="1.25"/>
<circle cx="603.25" cy="288.92" r="1.25"/>
<circle cx="621.02" cy="277.21" r="1.25"/>
<circle cx="602.09" cy="281.10" r="1.25"/>
<circle cx="600.19" cy="288.47" r="1.25"/>
<circle cx="600.45" cy="274.70" r="1.25"/>
<circle cx="609.19" cy="287.89" r="1.25"/>
<circle cx="608.92" cy="290.65" r="1.25"/>
<circle cx="600.68" cy="288.32" r="1.25"/>
<circle cx="608.39" cy="276.62" r="1.25"/>
<circle cx="610.80" cy="271.75" r="1.25"/>
<circle cx="608.62" cy="284.52" r="1.25"/>
<circle cx="604.24" cy="293.13" r="1.25"/>
<circle cx="617.53" cy="289.39" r="1.25"/>
<circle cx="604.30" cy="290.90" r="1.25"/>
<circle cx="599.32" cy="304.40" r="1.25"/>
<circle cx="602.36" cy="287.37" r="1.25"/>
<circle cx="606.31" cy="280.91" r="1.25"/>
<circle cx="604.01" cy="291.80" r="1.25"/>
<circle cx="607.55" cy="281.55" r="1.25"/>
<circle cx="598.43" cy="300.12" r="1.25"/>
<circle cx="597.52" cy="283.40" r="1.25"/>
<circle cx="612.74" cy="289.55" r="1.25"/>
<circle cx="606.07" cy="281.05" r="1.25"/>
<circle cx="615.23" cy="286.93" r="1.25"/>
<circle cx="603.43" cy="278.44" r="1.25"/>
<circle cx="596.65" cy="287.84" r="1.25"/>
<circle cx="602.98" cy="288.39" r="1.25"/>
<circle cx="600.24" cy="292.41" r="1.25"/>
<circle cx="605.15" cy="275.05" r="1.25"/>
<circle cx="610.49" cy="281.82" r="1.25"/>
<circle cx="605.43" cy="291.90" r="1.25"/>
<circle cx="603.51" cy="279.53" r="1.25"/>
<circle cx="611.48" cy="271.17" r="1.25"/>
<circle cx="607.19" cy="286.26" r="1.25"/>
<circle cx="593.05" cy="289.78" r="1.25"/>
<circle cx="592.26" cy="282.64" r="1.25"/>
<circle cx="600.49" cy="289.11" r="1.25"/>
<circle cx="595.07" cy="294.82" r="1.25"/>
<circle cx="598.22" cy="282.60" r="1.25"/>
<circle cx="607.10" cy="294.01" r="1.25"/>
<circle cx="590.70" cy="293.92" r="1.25"/>
<circle cx="601.57" cy="296.01" r="1.25"/>
<circle cx="609.67" cy="286.26" r="1.25"/>
<circle cx="606.07" cy="290.55" r="1.25"/>
<circle cx="600.94" cy="291.97" r="1.25"/>
<circle cx="593.17" cy="288.18" r="1.25"/>
<circle cx="608.26" cy="297.10" r="1.25"/>
<circle cx="606.00" cy="278.99" r="1.25"/>
<circle cx="607.01" cy="277.60" r="1.25"/>
<circle cx="603.21" cy="287.89" r="1.25"/>
<circle cx="595.45" cy="297.37" r="1.25"/>
<circle cx="591.51" cy="299.05" r="1.25"/>
<circle cx="607.07" cy="282.73" r="1.25"/>
<circle cx="613.98" cy="282.24" r="1.25"/>
<circle cx="597.78" cy="287.45" r="1.25"/>
<circle cx="604.14" cy="275.63" r="1.25"/>
<circle cx="619.96" cy="274.06" r="1.25"/>
<circle cx="596.68" cy="294.30" r="1.25"/>
<circle cx="606.66" cy="291.09" r="1.25"/>
<circle cx="609.17" cy="280.69" r="1.25"/>
<circle cx="611.54" cy="282.68" r="1.25"/>
<circle cx="598.58" cy="295.56" r="1.25"/>
<circle cx="604.30" cy="278.59" r="1.25"/>
<circle cx="617.08" cy="275.23" r="1.25"/>
<circle cx="607.96" cy="281.29" r="1.25"/>
<circle cx="611.42" cy="275.66" r="1.25"/>
<circle cx="611.67" cy="294.34" r="1.25"/>
<circle cx="612.40" cy="281.25" r="1.25"/>
<circle cx="601.77" cy="285.05" r="1.25"/>
<circle cx="607.40" cy="286.39" r="1.25"/>
<circle cx="592.52" cy="291.92" r="1.25"/>
<circle cx="609.42" cy="285.46" r="1.25"/>
<circle cx="593.28" cy="289.28" r="1.25"/>
<circle cx="610.64" cy="283.39" r="1.25"/>
<circle cx="608.43" cy="287.91" r="1.25"/>
<circle cx="600.28" cy="285.72" r="1.25"/>
<circle cx="602.56" cy="286.98" r="1.25"/>
<circle cx="606.25" cy="297.32" r="1.25"/>
<circle cx="605.96" cy="281.64" r="1.25"/>
<circle cx="599.93" cy="290.94" r="1.25"/>
<circle cx="588.27" cy="290.86" r="1.25"/>
<circle cx="600.75" cy="284.45" r="1.25"/>
<circle cx="615.50" cy="283.50" r="1.25"/>
<circle cx="612.64" cy="282.04" r="1.25"/>
<circle cx="603.69" cy="289.55" r="1.25"/>
<circle cx="598.82" cy="281.32" r="1.25"/>
<circle cx="611.85" cy="290.74" r="1.25"/>
<circle cx="611.57" cy="289.03" r="1.25"/>
<circle cx="593.91" cy="284.07" r="1.25"/>
<circle cx="595.60" cy="283.41" r="1.25"/>
<circle cx="606.73" cy="280.34" r="1.25"/>
<circle cx="609.08" cy="277.61" r="1.25"/>
<circle cx="607.85" cy="281.99" r="1.25"/>
<circle cx="607.10" cy="278.89" r="1.25"/>
<circle cx="602.28" cy="281.56" r="1.25"/>
<circle cx="616.56" cy="282.38" r="1.25"/>
<circle cx="608.54" cy="288.94" r="1.25"/>
<circle cx="603.06" cy="286.23" r="1.25"/>
<circle cx="602.66" cy="294.03" r="1.25"/>
<circle cx="605.01" cy="285.83" r="1.25"/>
<circle cx="607.66" cy="281.20" r="1.25"/>
<circle cx="591.88" cy="283.55" r="1.25"/>
<circle cx="603.94" cy="292.71" r="1.25"/>
<circle cx="602.44" cy="285.30" r="1.25"/>
<circle cx="611.78" cy="286.52" r="1.25"/>
<circle cx="606.42" cy="297.07" r="1.25"/>
<circle cx="606.50" cy="287.18" r="1.25"/>
<circle cx="601.99" cy="282.56" r="1.25"/>
<circle cx="618.72" cy="274.13" r="1.25"/>
<circle cx="599.35" cy="279.46" r="1.25"/>
<circle cx="602.72" cy="288.39" r="1.25"/>
<circle cx="600.87" cy="285.91" r="1.25"/>
<circle cx="609.39" cy="284.18" r="1.25"/>
<circle cx="603.65" cy="288.66" r="1.25"/>
<circle cx="602.22" cy="281.89" r="1.25"/>
<circle cx="601.32" cy="289.72" r="1.25"/>
<circle cx="603.66" cy="292.67" r="1.25"/>
<circle cx="603.52" cy="297.49" r="1.25"/>
<circle cx="608.30" cy="282.04" r="1.25"/>
<circle cx="602.98" cy="277.70" r="1.25"/>
<circle cx="599.07" cy="286.06" r="1.25"/>
<circle cx="608.82" cy="288.95" r="1.25"/>
<circle cx="603.42" cy="281.90" r="1.25"/>
<circle cx="605.69" cy="284.92" r="1.25"/>
<circle cx="615.72" cy="280.89" r="1.25"/>
<circle cx="639.36" cy="271.75" r="1.25"/>
<circle cx="595.69" cy="320.40" r="1.25"/>
<circle cx="605.96" cy="318.22" r="1.25"/>
<circle cx="594.95" cy="308.42" r="1.25"/>
<circle cx="603.03" cy="308.78" r="1.25"/>
<circle cx="619.91" cy="267.04" r="1.25"/>
<circle cx="624.31" cy="271.03" r="1.25"/>
<circle cx="622.11" cy="276.11" r="1.25"/>
<circle cx="587.61" cy="288.81" r="1.25"/>
<circle cx="618.81" cy="300.43" r="1.25"/>
</g>
<rect x="535.6" y="214.4" width="146.79999999999995" height="145.20000000000002" fill="none" stroke="#2e2e2e" stroke-width="1.1"/>
<line x1="535.50" y1="359.60" x2="535.50" y2="362.60" stroke="#2e2e2e" stroke-width="1.1" />
<line x1="532.60" y1="359.60" x2="535.60" y2="359.60" stroke="#2e2e2e" stroke-width="1.1" />
<text x="535.50" y="376.60" font-size="8.3" text-anchor="middle" font-weight="normal" fill="#333" font-family='"Liberation Sans", sans-serif' >-2</text>
<text x="528.30" y="362.50" font-size="8.3" text-anchor="end" font-weight="normal" fill="#333" font-family='"Liberation Sans", sans-serif' >-2</text>
<line x1="572.20" y1="359.60" x2="572.20" y2="362.60" stroke="#2e2e2e" stroke-width="1.1" />
<line x1="532.60" y1="323.30" x2="535.60" y2="323.30" stroke="#2e2e2e" stroke-width="1.1" />
<text x="572.20" y="376.60" font-size="8.3" text-anchor="middle" font-weight="normal" fill="#333" font-family='"Liberation Sans", sans-serif' >-1</text>
<text x="528.30" y="326.20" font-size="8.3" text-anchor="end" font-weight="normal" fill="#333" font-family='"Liberation Sans", sans-serif' >-1</text>
<line x1="608.90" y1="359.60" x2="608.90" y2="362.60" stroke="#2e2e2e" stroke-width="1.1" />
<line x1="532.60" y1="287.00" x2="535.60" y2="287.00" stroke="#2e2e2e" stroke-width="1.1" />
<text x="608.90" y="376.60" font-size="8.3" text-anchor="middle" font-weight="normal" fill="#333" font-family='"Liberation Sans", sans-serif' >0</text>
<text x="528.30" y="289.90" font-size="8.3" text-anchor="end" font-weight="normal" fill="#333" font-family='"Liberation Sans", sans-serif' >0</text>
<line x1="645.60" y1="359.60" x2="645.60" y2="362.60" stroke="#2e2e2e" stroke-width="1.1" />
<line x1="532.60" y1="250.70" x2="535.60" y2="250.70" stroke="#2e2e2e" stroke-width="1.1" />
<text x="645.60" y="376.60" font-size="8.3" text-anchor="middle" font-weight="normal" fill="#333" font-family='"Liberation Sans", sans-serif' >1</text>
<text x="528.30" y="253.60" font-size="8.3" text-anchor="end" font-weight="normal" fill="#333" font-family='"Liberation Sans", sans-serif' >1</text>
<line x1="682.30" y1="359.60" x2="682.30" y2="362.60" stroke="#2e2e2e" stroke-width="1.1" />
<line x1="532.60" y1="214.40" x2="535.60" y2="214.40" stroke="#2e2e2e" stroke-width="1.1" />
<text x="682.30" y="376.60" font-size="8.3" text-anchor="middle" font-weight="normal" fill="#333" font-family='"Liberation Sans", sans-serif' >2</text>
<text x="528.30" y="217.30" font-size="8.3" text-anchor="end" font-weight="normal" fill="#333" font-family='"Liberation Sans", sans-serif' >2</text>
<circle cx="564.40" cy="340.20" r="2.00" fill="#9b2f3b" />
<text x="570.60" y="345.10" font-size="8.5" text-anchor="start" font-weight="normal" fill="#333" font-family='"Liberation Sans", sans-serif' >Brd4</text>
<text x="608.9" y="390.6" font-size="8.3" text-anchor="middle" fill="#333" font-family='"Liberation Sans", sans-serif'>Relative abundance (log<tspan font-size="5.8" dy="2">2</tspan><tspan dy="-2">), rep. 1</tspan></text>
<text transform="translate(508.6,287.0) rotate(-90)" font-size="8.3" text-anchor="middle" fill="#333" font-family='"Liberation Sans", sans-serif'>Relative abundance (log<tspan font-size="5.8" dy="2">2</tspan><tspan dy="-2">), rep. 2</tspan></text>
<rect x="525.20" y="441.15" width="9.15" height="120.15" fill="#f2c02f" />
<rect x="534.35" y="441.15" width="9.15" height="120.15" fill="#2e3192" />
<rect x="543.50" y="441.15" width="9.15" height="120.15" fill="#3f7d45" />
<rect x="566.20" y="436.34" width="9.15" height="124.96" fill="#f2c02f" />
<rect x="575.35" y="443.79" width="9.15" height="117.51" fill="#2e3192" />
<rect x="584.50" y="450.16" width="9.15" height="111.14" fill="#3f7d45" />
<rect x="607.00" y="469.02" width="9.15" height="92.28" fill="#f2c02f" />
<rect x="616.15" y="502.07" width="9.15" height="59.23" fill="#2e3192" />
<rect x="625.30" y="527.90" width="9.15" height="33.40" fill="#3f7d45" />
<rect x="647.80" y="445.60" width="9.15" height="115.70" fill="#f2c02f" />
<rect x="656.95" y="452.68" width="9.15" height="108.62" fill="#2e3192" />
<rect x="666.10" y="513.84" width="9.15" height="47.46" fill="#3f7d45" />
<line x1="529.78" y1="439.95" x2="529.78" y2="442.35" stroke="#222" stroke-width="1.0" />
<line x1="527.98" y1="439.95" x2="531.58" y2="439.95" stroke="#222" stroke-width="1.0" />
<line x1="527.98" y1="442.35" x2="531.58" y2="442.35" stroke="#222" stroke-width="1.0" />
<line x1="538.93" y1="436.58" x2="538.93" y2="445.72" stroke="#222" stroke-width="1.0" />
<line x1="537.13" y1="436.58" x2="540.73" y2="436.58" stroke="#222" stroke-width="1.0" />
<line x1="537.13" y1="445.72" x2="540.73" y2="445.72" stroke="#222" stroke-width="1.0" />
<line x1="548.08" y1="437.31" x2="548.08" y2="444.99" stroke="#222" stroke-width="1.0" />
<line x1="546.28" y1="437.31" x2="549.88" y2="437.31" stroke="#222" stroke-width="1.0" />
<line x1="546.28" y1="444.99" x2="549.88" y2="444.99" stroke="#222" stroke-width="1.0" />
<line x1="570.78" y1="428.53" x2="570.78" y2="444.15" stroke="#222" stroke-width="1.0" />
<line x1="568.98" y1="428.53" x2="572.58" y2="428.53" stroke="#222" stroke-width="1.0" />
<line x1="568.98" y1="444.15" x2="572.58" y2="444.15" stroke="#222" stroke-width="1.0" />
<line x1="579.93" y1="442.35" x2="579.93" y2="445.24" stroke="#222" stroke-width="1.0" />
<line x1="578.13" y1="442.35" x2="581.73" y2="442.35" stroke="#222" stroke-width="1.0" />
<line x1="578.13" y1="445.24" x2="581.73" y2="445.24" stroke="#222" stroke-width="1.0" />
<line x1="587.28" y1="450.16" x2="590.88" y2="450.16" stroke="#222" stroke-width="0.9" />
<line x1="611.58" y1="452.56" x2="611.58" y2="485.49" stroke="#222" stroke-width="1.0" />
<line x1="609.78" y1="452.56" x2="613.38" y2="452.56" stroke="#222" stroke-width="1.0" />
<line x1="609.78" y1="485.49" x2="613.38" y2="485.49" stroke="#222" stroke-width="1.0" />
<line x1="620.73" y1="492.93" x2="620.73" y2="511.20" stroke="#222" stroke-width="1.0" />
<line x1="618.93" y1="492.93" x2="622.52" y2="492.93" stroke="#222" stroke-width="1.0" />
<line x1="618.93" y1="511.20" x2="622.52" y2="511.20" stroke="#222" stroke-width="1.0" />
<line x1="629.88" y1="526.70" x2="629.88" y2="529.10" stroke="#222" stroke-width="1.0" />
<line x1="628.08" y1="526.70" x2="631.67" y2="526.70" stroke="#222" stroke-width="1.0" />
<line x1="628.08" y1="529.10" x2="631.67" y2="529.10" stroke="#222" stroke-width="1.0" />
<line x1="652.38" y1="443.43" x2="652.38" y2="447.76" stroke="#222" stroke-width="1.0" />
<line x1="650.58" y1="443.43" x2="654.17" y2="443.43" stroke="#222" stroke-width="1.0" />
<line x1="650.58" y1="447.76" x2="654.17" y2="447.76" stroke="#222" stroke-width="1.0" />
<line x1="661.52" y1="451.24" x2="661.52" y2="454.13" stroke="#222" stroke-width="1.0" />
<line x1="659.73" y1="451.24" x2="663.32" y2="451.24" stroke="#222" stroke-width="1.0" />
<line x1="659.73" y1="454.13" x2="663.32" y2="454.13" stroke="#222" stroke-width="1.0" />
<line x1="670.67" y1="509.64" x2="670.67" y2="518.05" stroke="#222" stroke-width="1.0" />
<line x1="668.88" y1="509.64" x2="672.47" y2="509.64" stroke="#222" stroke-width="1.0" />
<line x1="668.88" y1="518.05" x2="672.47" y2="518.05" stroke="#222" stroke-width="1.0" />
<polygon points="620.80,487.10 621.17,488.09 622.23,488.14 621.40,488.79 621.68,489.81 620.80,489.23 619.92,489.81 620.20,488.79 619.37,488.14 620.43,488.09" fill="#333"/>
<polygon points="630.00,514.70 630.37,515.69 631.43,515.74 630.60,516.39 630.88,517.41 630.00,516.83 629.12,517.41 629.40,516.39 628.57,515.74 629.63,515.69" fill="#333"/>
<polygon points="630.00,520.30 630.37,521.29 631.43,521.34 630.60,521.99 630.88,523.01 630.00,522.43 629.12,523.01 629.40,521.99 628.57,521.34 629.63,521.29" fill="#333"/>
<polygon points="670.90,496.20 671.27,497.19 672.33,497.24 671.50,497.89 671.78,498.91 670.90,498.33 670.02,498.91 670.30,497.89 669.47,497.24 670.53,497.19" fill="#333"/>
<polygon points="670.90,502.20 671.27,503.19 672.33,503.24 671.50,503.89 671.78,504.91 670.90,504.33 670.02,504.91 670.30,503.89 669.47,503.24 670.53,503.19" fill="#333"/>
<line x1="518.50" y1="405.40" x2="677.40" y2="405.40" stroke="#333" stroke-width="1.1" />
<line x1="677.40" y1="405.40" x2="677.40" y2="561.30" stroke="#333" stroke-width="1.1" />
<line x1="518.50" y1="404.90" x2="518.50" y2="561.80" stroke="#333" stroke-width="1.1" />
<line x1="518.50" y1="561.30" x2="677.40" y2="561.30" stroke="#333" stroke-width="1.1" />
<line x1="514.90" y1="561.30" x2="518.50" y2="561.30" stroke="#333" stroke-width="1.1" />
<text x="512.40" y="564.20" font-size="8.3" text-anchor="end" font-weight="normal" fill="#333" font-family='"Liberation Sans", sans-serif' >0</text>
<line x1="514.90" y1="537.27" x2="518.50" y2="537.27" stroke="#333" stroke-width="1.1" />
<text x="512.40" y="540.17" font-size="8.3" text-anchor="end" font-weight="normal" fill="#333" font-family='"Liberation Sans", sans-serif' >20</text>
<line x1="514.90" y1="513.24" x2="518.50" y2="513.24" stroke="#333" stroke-width="1.1" />
<text x="512.40" y="516.14" font-size="8.3" text-anchor="end" font-weight="normal" fill="#333" font-family='"Liberation Sans", sans-serif' >40</text>
<line x1="514.90" y1="489.21" x2="518.50" y2="489.21" stroke="#333" stroke-width="1.1" />
<text x="512.40" y="492.11" font-size="8.3" text-anchor="end" font-weight="normal" fill="#333" font-family='"Liberation Sans", sans-serif' >60</text>
<line x1="514.90" y1="465.18" x2="518.50" y2="465.18" stroke="#333" stroke-width="1.1" />
<text x="512.40" y="468.08" font-size="8.3" text-anchor="end" font-weight="normal" fill="#333" font-family='"Liberation Sans", sans-serif' >80</text>
<line x1="514.90" y1="441.15" x2="518.50" y2="441.15" stroke="#333" stroke-width="1.1" />
<text x="512.40" y="444.05" font-size="8.3" text-anchor="end" font-weight="normal" fill="#333" font-family='"Liberation Sans", sans-serif' >100</text>
<line x1="514.90" y1="417.12" x2="518.50" y2="417.12" stroke="#333" stroke-width="1.1" />
<text x="512.40" y="420.02" font-size="8.3" text-anchor="end" font-weight="normal" fill="#333" font-family='"Liberation Sans", sans-serif' >120</text>
<line x1="559.60" y1="561.30" x2="559.60" y2="564.50" stroke="#333" stroke-width="1.1" />
<line x1="600.10" y1="561.30" x2="600.10" y2="564.50" stroke="#333" stroke-width="1.1" />
<line x1="640.60" y1="561.30" x2="640.60" y2="564.50" stroke="#333" stroke-width="1.1" />
<text x="538.80" y="576.00" font-size="8.6" text-anchor="middle" font-weight="normal" fill="#333" font-family='"Liberation Sans", sans-serif' >DMSO</text>
<text x="580.0" y="576.0" font-size="8.6" text-anchor="middle" fill="#333" font-family='"Liberation Sans", sans-serif'><tspan font-style="italic">cis</tspan>-MZ1</text>
<text x="620.20" y="576.00" font-size="8.6" text-anchor="middle" font-weight="normal" fill="#333" font-family='"Liberation Sans", sans-serif' >MZ1</text>
<text x="660.40" y="576.00" font-size="8.6" text-anchor="middle" font-weight="normal" fill="#333" font-family='"Liberation Sans", sans-serif' >AT1</text>
<text transform="translate(492.2,486.0) rotate(-90)" font-size="8.3" text-anchor="middle" fill="#333" font-family='"Liberation Sans", sans-serif'>Relative abundance (%)</text>
<rect x="573.60" y="410.40" width="5.80" height="5.60" fill="#f2c02f" />
<text x="582.50" y="416.20" font-size="8.6" text-anchor="start" font-weight="normal" fill="#333" font-family='"Liberation Sans", sans-serif' >Brd2</text>
<rect x="610.00" y="410.40" width="5.80" height="5.60" fill="#2e3192" />
<text x="618.90" y="416.20" font-size="8.6" text-anchor="start" font-weight="normal" fill="#333" font-family='"Liberation Sans", sans-serif' >Brd3</text>
<rect x="647.80" y="410.40" width="5.80" height="5.60" fill="#3f7d45" />
<text x="656.70" y="416.20" font-size="8.6" text-anchor="start" font-weight="normal" fill="#333" font-family='"Liberation Sans", sans-serif' >Brd4</text>
<text x="0.50" y="11.20" font-size="12.5" text-anchor="start" font-weight="bold" fill="#000" font-family='"Liberation Sans", sans-serif' >a</text>
<text x="203.50" y="11.20" font-size="12.5" text-anchor="start" font-weight="bold" fill="#000" font-family='"Liberation Sans", sans-serif' >b</text>
<text x="472.00" y="11.40" font-size="11.8" text-anchor="start" font-weight="bold" fill="#000" font-family='"Liberation Sans", sans-serif' >c</text>
<text x="0.50" y="218.40" font-size="12.5" text-anchor="start" font-weight="bold" fill="#000" font-family='"Liberation Sans", sans-serif' >d</text>
<text x="0.90" y="406.60" font-size="12.2" text-anchor="start" font-weight="bold" fill="#000" font-family='"Liberation Sans", sans-serif' >e</text>
<text x="505.10" y="218.70" font-size="12.5" text-anchor="start" font-weight="bold" fill="#000" font-family='"Liberation Sans", sans-serif' >f</text>
<text x="484.50" y="406.50" font-size="13" text-anchor="start" font-weight="bold" fill="#000" font-family='"Liberation Serif", serif' >g</text>
</svg>
</body></html>
